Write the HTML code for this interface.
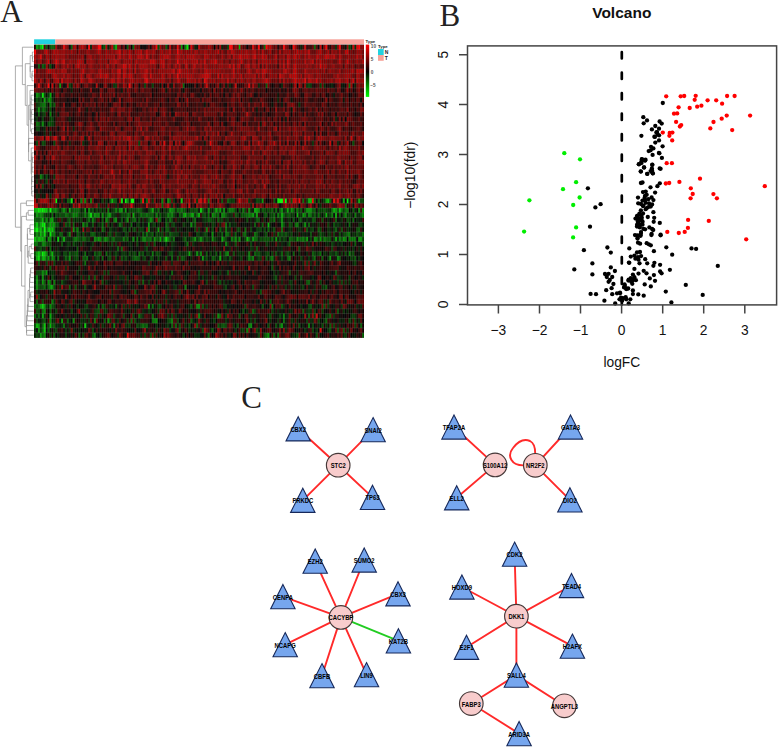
<!DOCTYPE html>
<html><head><meta charset="utf-8"><style>
html,body{margin:0;padding:0;background:#fff;}
body{width:778px;height:748px;overflow:hidden;position:relative;}
svg{position:absolute;left:0;top:0;}
</style></head><body>
<svg width="778" height="748" viewBox="0 0 778 748">
<g font-family="Liberation Serif" font-size="31" fill="#222">
<text x="0.3" y="21.9">A</text><text x="439.4" y="25.8">B</text><text x="241.2" y="408.2">C</text></g>
<rect x="34.10" y="39.3" width="21.22" height="4.9" fill="#22d2df"/><rect x="55.32" y="39.3" width="308.68" height="4.9" fill="#f7a39a"/><rect x="34.10" y="44.80" width="329.90" height="292.80" fill="#1a0800"/><g><g transform="translate(34.10,44.80) scale(1.9292,4.8000)" fill="none" stroke-width="1.02"><path stroke="#200000" d="M0 0.5h1M27 0.5h1M45 0.5h1M58 0.5h1M69 0.5h1M80 0.5h1M95 0.5h1M132 0.5h1M153 0.5h1M0 4.5h2M10 4.5h1M0 8.5h1M4 8.5h1M30 8.5h1M59 8.5h1M68 8.5h1M70 8.5h1M79 8.5h1M91 8.5h1M93 8.5h1M105 8.5h2M124 8.5h1M132 8.5h1M144 8.5h1M152 8.5h1M8 9.5h1M10 9.5h1M17 9.5h2M26 9.5h2M31 9.5h2M37 9.5h1M54 9.5h1M71 9.5h1M76 9.5h1M82 9.5h2M94 9.5h1M100 9.5h1M109 9.5h1M115 9.5h1M125 9.5h2M132 9.5h2M138 9.5h1M156 9.5h1M166 9.5h1M13 10.5h1M16 10.5h1M18 10.5h1M20 10.5h1M22 10.5h1M27 10.5h1M51 10.5h2M63 10.5h1M65 10.5h1M71 10.5h1M80 10.5h1M84 10.5h1M90 10.5h1M92 10.5h1M96 10.5h1M122 10.5h1M124 10.5h1M129 10.5h1M144 10.5h2M148 10.5h1M154 10.5h1M164 10.5h1M13 11.5h1M16 11.5h1M18 11.5h2M21 11.5h1M24 11.5h1M26 11.5h1M28 11.5h1M31 11.5h2M42 11.5h1M57 11.5h1M61 11.5h1M71 11.5h1M86 11.5h1M92 11.5h1M97 11.5h1M116 11.5h1M121 11.5h2M137 11.5h1M139 11.5h1M143 11.5h2M147 11.5h1M155 11.5h2M166 11.5h1M13 12.5h1M17 12.5h1M25 12.5h1M35 12.5h1M38 12.5h1M51 12.5h2M69 12.5h1M73 12.5h1M81 12.5h1M96 12.5h1M122 12.5h1M156 12.5h1M163 12.5h1M168 12.5h1M0 13.5h1M7 13.5h1M16 13.5h2M20 13.5h1M26 13.5h1M32 13.5h1M55 13.5h1M64 13.5h1M69 13.5h1M99 13.5h1M105 13.5h1M124 13.5h1M130 13.5h1M138 13.5h1M147 13.5h1M153 13.5h1M163 13.5h1M18 14.5h1M24 14.5h1M27 14.5h1M31 14.5h1M69 14.5h1M80 14.5h2M99 14.5h1M105 14.5h1M122 14.5h1M139 14.5h1M141 14.5h1M144 14.5h1M150 14.5h1M152 14.5h2M167 14.5h2M6 15.5h2M17 15.5h1M19 15.5h1M26 15.5h1M33 15.5h1M74 15.5h1M76 15.5h1M90 15.5h1M98 15.5h2M101 15.5h1M123 15.5h1M126 15.5h1M145 15.5h1M153 15.5h1M157 15.5h1M0 16.5h1M18 16.5h2M40 16.5h1M61 16.5h1M74 16.5h1M108 16.5h2M126 16.5h1M133 16.5h1M152 16.5h1M9 17.5h1M32 17.5h2M160 17.5h1M164 17.5h1M170 17.5h1M1 18.5h1M35 18.5h1M42 18.5h1M51 18.5h1M64 18.5h1M71 18.5h1M96 18.5h1M149 18.5h1M151 18.5h1M5 19.5h1M13 19.5h1M17 19.5h1M30 19.5h1M69 19.5h1M90 19.5h1M112 19.5h1M145 19.5h1M166 19.5h1M0 20.5h1M21 20.5h2M30 20.5h1M32 20.5h1M48 20.5h1M63 20.5h2M69 20.5h1M95 20.5h2M105 20.5h1M132 20.5h1M136 20.5h1M141 20.5h1M147 20.5h1M158 20.5h1M163 20.5h2M4 21.5h2M14 21.5h1M0 22.5h1M26 22.5h1M143 22.5h1M20 23.5h1M64 23.5h1M129 23.5h1M5 24.5h2M19 24.5h1M71 24.5h1M98 24.5h2M133 24.5h1M145 24.5h1M9 25.5h1M80 25.5h1M92 25.5h1M117 25.5h1M126 25.5h1M143 25.5h1M150 25.5h1M4 26.5h1M7 26.5h1M18 26.5h1M30 26.5h1M45 26.5h1M0 27.5h1M2 27.5h1M51 27.5h1M150 27.5h1M0 28.5h1M3 28.5h1M9 28.5h1M98 28.5h1M104 28.5h1M126 28.5h1M165 28.5h2M5 29.5h1M8 29.5h1M18 29.5h1M99 29.5h1M121 29.5h1M126 29.5h1M6 30.5h1M19 30.5h1M68 30.5h2M133 30.5h1M165 30.5h2M121 31.5h1M170 31.5h1M1 32.5h1M65 32.5h1M92 32.5h1M104 32.5h1M113 32.5h1M122 32.5h1M148 32.5h1M154 32.5h1M165 32.5h1M39 33.5h1M57 33.5h1M79 33.5h1M99 33.5h1M119 33.5h1M150 33.5h1M162 33.5h1M37 34.5h1M43 35.5h1M50 35.5h1M116 35.5h1M15 36.5h1M32 36.5h1M49 36.5h1M57 36.5h1M77 36.5h1M94 36.5h1M98 36.5h1M107 36.5h1M125 36.5h1M147 36.5h1M150 36.5h1M160 36.5h1M31 37.5h1M41 37.5h1M70 37.5h1M89 37.5h1M105 37.5h2M131 37.5h1M146 37.5h1M148 37.5h1M153 37.5h1M160 37.5h1M165 37.5h1M34 38.5h1M43 38.5h1M53 38.5h1M62 38.5h1M72 38.5h1M74 38.5h1M86 38.5h1M110 38.5h2M125 38.5h1M135 38.5h1M146 38.5h1M160 38.5h2M26 39.5h1M49 39.5h2M94 39.5h1M113 39.5h1M145 39.5h2M29 40.5h1M13 41.5h1M36 41.5h1M39 41.5h1M41 41.5h1M43 41.5h1M52 41.5h1M55 41.5h1M60 41.5h1M70 41.5h1M80 41.5h1M85 41.5h2M89 41.5h2M96 41.5h1M101 41.5h1M103 41.5h1M106 41.5h1M117 41.5h1M119 41.5h1M122 41.5h1M127 41.5h1M138 41.5h2M162 41.5h1M11 42.5h1M25 42.5h1M27 42.5h1M30 42.5h1M32 42.5h3M36 42.5h1M41 42.5h1M44 42.5h1M48 42.5h1M56 42.5h1M61 42.5h1M67 42.5h1M83 42.5h1M85 42.5h1M87 42.5h1M90 42.5h1M92 42.5h1M95 42.5h2M106 42.5h1M111 42.5h1M119 42.5h1M123 42.5h2M130 42.5h2M138 42.5h3M145 42.5h1M148 42.5h1M150 42.5h1M153 42.5h1M159 42.5h1M68 43.5h1M73 43.5h1M97 43.5h1M101 43.5h2M104 43.5h1M109 43.5h1M129 43.5h1M135 43.5h1M139 43.5h1M19 44.5h1M40 44.5h1M67 44.5h1M84 44.5h1M108 44.5h1M114 44.5h1M119 44.5h1M126 44.5h1M148 44.5h1M4 45.5h1M12 45.5h1M21 45.5h1M23 45.5h1M33 45.5h1M47 45.5h1M51 45.5h1M53 45.5h1M55 45.5h4M62 45.5h1M76 45.5h1M90 45.5h1M98 45.5h1M104 45.5h1M116 45.5h1M124 45.5h1M130 45.5h1M137 45.5h1M144 45.5h1M151 45.5h1M156 45.5h1M160 45.5h1M162 45.5h1M1 46.5h1M3 46.5h1M6 46.5h2M10 46.5h1M12 46.5h1M25 46.5h1M27 46.5h1M33 46.5h2M39 46.5h1M42 46.5h1M45 46.5h1M52 46.5h1M54 46.5h1M66 46.5h1M82 46.5h1M84 46.5h1M87 46.5h4M98 46.5h1M112 46.5h2M117 46.5h1M132 46.5h1M135 46.5h1M146 46.5h2M149 46.5h2M164 46.5h2M167 46.5h2M17 47.5h1M19 47.5h1M31 47.5h1M33 47.5h1M43 47.5h1M45 47.5h1M61 47.5h1M69 47.5h1M73 47.5h1M76 47.5h1M90 47.5h1M97 47.5h1M103 47.5h1M105 47.5h1M107 47.5h1M115 47.5h1M117 47.5h1M119 47.5h3M128 47.5h1M130 47.5h1M133 47.5h3M140 47.5h1M146 47.5h2M153 47.5h1M158 47.5h1M160 47.5h2M168 47.5h1M12 48.5h1M15 48.5h1M23 48.5h1M27 48.5h1M29 48.5h1M33 48.5h1M64 48.5h1M71 48.5h1M73 48.5h1M77 48.5h1M84 48.5h1M90 48.5h1M99 48.5h2M102 48.5h3M106 48.5h1M111 48.5h1M134 48.5h1M136 48.5h1M139 48.5h4M151 48.5h2M164 48.5h1M19 49.5h1M36 49.5h1M41 49.5h1M53 49.5h1M57 49.5h1M60 49.5h1M70 49.5h1M79 49.5h2M83 49.5h1M91 49.5h2M94 49.5h1M103 49.5h1M112 49.5h1M120 49.5h1M122 49.5h1M126 49.5h1M130 49.5h2M162 49.5h1M169 49.5h2M15 50.5h1M25 50.5h1M27 50.5h1M32 50.5h1M34 50.5h1M36 50.5h1M38 50.5h1M45 50.5h1M88 50.5h3M97 50.5h1M109 50.5h1M116 50.5h1M119 50.5h1M129 50.5h1M144 50.5h1M147 50.5h1M162 50.5h1M168 50.5h1M3 51.5h2M11 51.5h1M22 51.5h1M26 51.5h1M29 51.5h1M44 51.5h1M48 51.5h1M61 51.5h1M64 51.5h1M71 51.5h1M80 51.5h1M86 51.5h1M89 51.5h1M95 51.5h1M97 51.5h1M99 51.5h1M102 51.5h1M105 51.5h1M107 51.5h1M109 51.5h1M111 51.5h2M124 51.5h1M127 51.5h1M135 51.5h1M137 51.5h3M145 51.5h1M154 51.5h1M160 51.5h1M163 51.5h1M4 52.5h1M11 52.5h1M13 52.5h2M17 52.5h1M20 52.5h1M22 52.5h1M29 52.5h1M31 52.5h1M38 52.5h1M48 52.5h2M51 52.5h1M57 52.5h1M69 52.5h1M74 52.5h1M86 52.5h1M92 52.5h1M101 52.5h2M114 52.5h2M121 52.5h1M124 52.5h1M128 52.5h1M146 52.5h1M155 52.5h2M164 52.5h1M0 53.5h1M2 53.5h1M7 53.5h1M12 53.5h1M24 53.5h1M34 53.5h1M37 53.5h1M44 53.5h1M57 53.5h1M73 53.5h1M75 53.5h1M78 53.5h1M88 53.5h1M93 53.5h1M95 53.5h1M100 53.5h1M106 53.5h1M111 53.5h2M118 53.5h1M123 53.5h1M133 53.5h1M155 53.5h1M160 53.5h1M13 54.5h1M15 54.5h1M30 54.5h1M38 54.5h1M43 54.5h1M51 54.5h1M56 54.5h1M63 54.5h1M66 54.5h1M75 54.5h1M88 54.5h1M104 54.5h1M106 54.5h1M111 54.5h2M115 54.5h2M130 54.5h1M134 54.5h1M144 54.5h1M153 54.5h1M162 54.5h1M164 54.5h1M3 55.5h1M6 55.5h1M9 55.5h1M15 55.5h1M17 55.5h1M29 55.5h1M38 55.5h1M41 55.5h1M43 55.5h1M46 55.5h1M50 55.5h1M78 55.5h1M87 55.5h1M99 55.5h1M115 55.5h1M117 55.5h1M125 55.5h1M134 55.5h1M136 55.5h1M159 55.5h1M167 55.5h1M169 55.5h1M11 56.5h1M13 56.5h1M15 56.5h1M20 56.5h1M37 56.5h1M42 56.5h1M44 56.5h1M47 56.5h1M53 56.5h1M60 56.5h1M62 56.5h1M70 56.5h1M77 56.5h1M90 56.5h1M105 56.5h1M113 56.5h1M120 56.5h1M133 56.5h1M135 56.5h1M156 56.5h2M162 56.5h1M167 56.5h1M170 56.5h1M16 57.5h1M23 57.5h1M27 57.5h1M37 57.5h1M46 57.5h1M57 57.5h1M59 57.5h1M67 57.5h1M76 57.5h1M79 57.5h1M98 57.5h1M102 57.5h1M104 57.5h1M109 57.5h1M113 57.5h1M131 57.5h1M138 57.5h2M157 57.5h1M162 57.5h1M31 58.5h1M38 58.5h1M42 58.5h1M50 58.5h3M60 58.5h2M65 58.5h1M74 58.5h1M82 58.5h1M89 58.5h2M106 58.5h1M108 58.5h1M114 58.5h1M131 58.5h1M141 58.5h1M146 58.5h1M150 58.5h1M160 58.5h1M163 58.5h2M9 59.5h1M12 59.5h2M37 59.5h1M43 59.5h2M46 59.5h2M60 59.5h1M65 59.5h1M76 59.5h1M79 59.5h1M84 59.5h1M100 59.5h1M125 59.5h2M149 59.5h1M166 59.5h1M7 60.5h1M9 60.5h1M14 60.5h1M22 60.5h1M41 60.5h1M72 60.5h1M75 60.5h1M93 60.5h1M114 60.5h1M128 60.5h1M139 60.5h1M144 60.5h1M150 60.5h2M154 60.5h2M158 60.5h1M162 60.5h1"/><path stroke="#009f00" d="M1 0.5h1M76 0.5h1M13 8.5h1M118 32.5h1M151 32.5h1M26 34.5h1M45 34.5h1M47 34.5h1M70 34.5h1M96 34.5h1M115 34.5h1M133 34.5h1M1 35.5h1M31 35.5h1M77 35.5h1M81 35.5h2M92 35.5h1M113 35.5h1M115 35.5h1M139 35.5h1M8 36.5h1M59 37.5h1M2 38.5h1M20 38.5h1M64 38.5h1M7 40.5h1M33 40.5h1M62 40.5h1M83 40.5h1M92 40.5h1M113 40.5h1M125 40.5h1M136 40.5h1M141 40.5h1M148 40.5h1M156 40.5h1M160 40.5h1M1 43.5h1M7 44.5h1M9 44.5h1M87 44.5h1M153 44.5h1M6 47.5h1M1 49.5h1M4 49.5h1M8 50.5h2M3 54.5h1M5 54.5h1M14 57.5h1M2 58.5h1M3 60.5h1M121 60.5h1"/><path stroke="#007000" d="M2 0.5h1M9 0.5h1M51 0.5h1M119 0.5h1M145 0.5h1M77 8.5h1M163 8.5h1M2 10.5h1M4 12.5h1M1 16.5h1M90 32.5h1M139 32.5h1M161 33.5h1M7 34.5h1M9 34.5h1M22 34.5h1M64 34.5h1M72 34.5h1M74 34.5h1M102 34.5h2M123 34.5h1M125 34.5h1M134 34.5h1M154 34.5h1M159 34.5h1M161 34.5h1M2 35.5h1M9 35.5h1M16 35.5h1M21 35.5h2M55 35.5h1M58 35.5h1M80 35.5h1M84 35.5h1M90 35.5h1M95 35.5h1M112 35.5h1M124 35.5h1M143 35.5h1M147 35.5h1M3 36.5h1M28 36.5h1M41 36.5h1M52 36.5h1M64 36.5h1M70 36.5h1M83 36.5h1M124 36.5h1M165 36.5h1M2 37.5h1M7 37.5h1M20 37.5h1M27 37.5h1M35 37.5h1M44 37.5h1M50 37.5h1M68 37.5h1M99 37.5h1M135 37.5h1M163 37.5h1M4 38.5h1M6 38.5h1M35 38.5h1M99 38.5h1M109 38.5h1M121 38.5h1M128 38.5h1M9 39.5h1M58 39.5h1M99 39.5h1M109 39.5h1M114 39.5h1M126 39.5h1M162 39.5h1M170 39.5h1M22 40.5h1M25 40.5h1M32 40.5h1M48 40.5h1M60 40.5h1M72 40.5h1M78 40.5h1M111 40.5h1M123 40.5h1M132 40.5h1M164 40.5h3M0 41.5h2M79 41.5h1M8 42.5h1M8 43.5h1M18 43.5h1M26 43.5h1M37 43.5h1M54 43.5h1M96 43.5h1M99 43.5h1M148 43.5h1M10 44.5h1M12 44.5h1M27 44.5h1M35 44.5h1M52 44.5h1M145 44.5h1M26 45.5h1M8 49.5h1M5 50.5h1M7 50.5h1M33 54.5h1M61 54.5h1M123 54.5h1M4 55.5h1M54 56.5h1M61 56.5h1M153 56.5h1M50 57.5h1M61 57.5h1M129 57.5h1M151 57.5h1M15 58.5h1M56 58.5h1M90 60.5h1M120 60.5h1M126 60.5h1"/><path stroke="#00bf00" d="M3 0.5h1M106 0.5h1M40 32.5h1M152 32.5h1M1 34.5h1M158 34.5h1M78 35.5h1M136 35.5h1M151 35.5h1M4 36.5h1M121 37.5h1M0 38.5h1M3 38.5h1M7 38.5h2M3 39.5h1M0 40.5h1M4 40.5h1M110 40.5h1M9 43.5h1M1 58.5h1M8 58.5h1"/><path stroke="#00ff00" d="M4 0.5h1M11 32.5h1M47 32.5h1M50 32.5h2M127 32.5h2M130 32.5h1M162 32.5h1M4 34.5h1M8 34.5h1M5 37.5h1M1 38.5h1M5 38.5h1M4 43.5h1"/><path stroke="#500000" d="M5 0.5h1M108 0.5h1M111 0.5h1M118 0.5h1M124 0.5h1M155 0.5h1M22 1.5h1M99 1.5h1M123 1.5h1M126 1.5h1M153 1.5h1M126 2.5h1M4 3.5h1M38 3.5h1M101 3.5h1M115 3.5h1M126 3.5h1M13 4.5h1M42 4.5h1M71 4.5h1M169 4.5h1M1 5.5h1M51 5.5h1M5 6.5h1M8 6.5h1M20 6.5h1M126 6.5h1M166 6.5h1M2 7.5h1M8 7.5h1M13 7.5h1M20 7.5h1M126 7.5h1M163 7.5h1M21 8.5h1M29 8.5h1M40 8.5h1M74 8.5h1M100 8.5h1M103 8.5h1M118 8.5h1M147 8.5h1M2 9.5h2M12 9.5h1M15 9.5h1M58 9.5h3M72 9.5h1M79 9.5h1M87 9.5h1M90 9.5h2M95 9.5h1M101 9.5h1M106 9.5h1M108 9.5h1M112 9.5h1M116 9.5h1M119 9.5h1M127 9.5h1M139 9.5h1M143 9.5h2M147 9.5h1M149 9.5h2M154 9.5h1M15 10.5h1M19 10.5h1M23 10.5h1M46 10.5h1M48 10.5h1M53 10.5h1M58 10.5h1M66 10.5h1M70 10.5h1M93 10.5h2M97 10.5h1M99 10.5h2M111 10.5h1M116 10.5h1M120 10.5h1M142 10.5h2M147 10.5h1M153 10.5h1M158 10.5h1M170 10.5h1M30 11.5h1M33 11.5h1M46 11.5h2M53 11.5h1M59 11.5h1M64 11.5h1M67 11.5h1M83 11.5h3M95 11.5h2M100 11.5h1M104 11.5h1M110 11.5h1M127 11.5h1M129 11.5h1M136 11.5h1M158 11.5h1M161 11.5h1M165 11.5h1M168 11.5h1M11 12.5h2M19 12.5h1M21 12.5h1M34 12.5h1M36 12.5h2M46 12.5h2M49 12.5h1M57 12.5h1M66 12.5h2M84 12.5h1M89 12.5h1M95 12.5h1M108 12.5h1M115 12.5h1M119 12.5h1M129 12.5h1M135 12.5h1M141 12.5h2M144 12.5h2M151 12.5h1M153 12.5h1M159 12.5h1M167 12.5h1M25 13.5h1M28 13.5h1M30 13.5h1M36 13.5h1M47 13.5h1M56 13.5h1M59 13.5h1M68 13.5h1M76 13.5h1M78 13.5h1M82 13.5h1M86 13.5h1M89 13.5h1M92 13.5h1M96 13.5h1M106 13.5h1M109 13.5h1M116 13.5h1M118 13.5h1M127 13.5h1M137 13.5h1M140 13.5h1M142 13.5h1M151 13.5h1M158 13.5h1M160 13.5h1M167 13.5h1M11 14.5h1M13 14.5h1M16 14.5h1M19 14.5h1M22 14.5h1M25 14.5h1M28 14.5h1M35 14.5h1M39 14.5h1M46 14.5h1M54 14.5h1M61 14.5h1M65 14.5h1M76 14.5h1M78 14.5h1M84 14.5h1M86 14.5h1M101 14.5h1M103 14.5h2M112 14.5h1M118 14.5h2M127 14.5h1M138 14.5h1M142 14.5h1M148 14.5h1M151 14.5h1M154 14.5h1M158 14.5h1M164 14.5h1M12 15.5h1M29 15.5h1M39 15.5h2M43 15.5h1M45 15.5h2M56 15.5h2M63 15.5h1M66 15.5h1M68 15.5h1M81 15.5h1M83 15.5h1M89 15.5h1M109 15.5h1M111 15.5h1M116 15.5h1M122 15.5h1M129 15.5h1M134 15.5h2M137 15.5h1M143 15.5h1M147 15.5h1M22 16.5h1M25 16.5h1M27 16.5h2M30 16.5h1M47 16.5h1M63 16.5h1M69 16.5h1M76 16.5h2M82 16.5h1M86 16.5h1M89 16.5h1M113 16.5h1M120 16.5h1M138 16.5h1M144 16.5h1M147 16.5h1M157 16.5h1M159 16.5h2M164 16.5h1M8 17.5h1M11 17.5h1M19 17.5h1M31 17.5h1M38 17.5h3M46 17.5h1M63 17.5h2M71 17.5h2M80 17.5h1M90 17.5h1M92 17.5h1M94 17.5h3M112 17.5h1M115 17.5h1M119 17.5h1M130 17.5h1M133 17.5h1M141 17.5h1M150 17.5h1M159 17.5h1M161 17.5h1M165 17.5h1M6 18.5h1M11 18.5h1M13 18.5h1M22 18.5h1M24 18.5h1M32 18.5h1M49 18.5h1M57 18.5h1M59 18.5h3M72 18.5h1M94 18.5h1M98 18.5h1M100 18.5h1M104 18.5h1M117 18.5h1M120 18.5h1M124 18.5h1M130 18.5h2M141 18.5h1M143 18.5h1M155 18.5h1M159 18.5h1M168 18.5h2M8 19.5h1M12 19.5h1M16 19.5h1M19 19.5h1M22 19.5h1M38 19.5h1M51 19.5h1M55 19.5h1M60 19.5h1M65 19.5h1M71 19.5h1M85 19.5h1M106 19.5h1M110 19.5h1M120 19.5h1M123 19.5h1M130 19.5h1M137 19.5h1M139 19.5h1M163 19.5h1M12 20.5h1M15 20.5h1M17 20.5h1M31 20.5h1M39 20.5h2M45 20.5h2M56 20.5h1M83 20.5h1M90 20.5h1M93 20.5h1M99 20.5h1M133 20.5h1M145 20.5h1M151 20.5h1M8 21.5h1M16 21.5h1M19 21.5h1M45 21.5h1M65 21.5h1M71 21.5h1M75 21.5h1M88 21.5h1M91 21.5h1M99 21.5h1M112 21.5h1M115 21.5h1M119 21.5h1M124 21.5h1M138 21.5h1M142 21.5h2M151 21.5h1M159 21.5h1M163 21.5h2M167 21.5h1M12 22.5h2M16 22.5h2M19 22.5h1M28 22.5h1M31 22.5h1M35 22.5h1M41 22.5h1M43 22.5h1M45 22.5h1M52 22.5h1M56 22.5h2M65 22.5h1M83 22.5h3M88 22.5h1M97 22.5h1M101 22.5h1M108 22.5h1M114 22.5h2M136 22.5h1M138 22.5h1M147 22.5h1M1 23.5h1M4 23.5h1M19 23.5h1M22 23.5h1M31 23.5h3M38 23.5h1M62 23.5h1M69 23.5h1M77 23.5h1M84 23.5h1M90 23.5h1M126 23.5h1M135 23.5h1M138 23.5h1M140 23.5h1M147 23.5h1M151 23.5h1M155 23.5h2M3 24.5h1M12 24.5h1M16 24.5h1M21 24.5h1M37 24.5h2M54 24.5h1M70 24.5h1M78 24.5h1M85 24.5h1M94 24.5h1M97 24.5h1M108 24.5h2M112 24.5h1M119 24.5h1M122 24.5h1M144 24.5h1M152 24.5h1M159 24.5h1M2 25.5h2M7 25.5h1M12 25.5h1M20 25.5h1M22 25.5h2M27 25.5h2M30 25.5h1M33 25.5h1M42 25.5h2M49 25.5h1M55 25.5h1M71 25.5h2M78 25.5h1M83 25.5h1M85 25.5h1M90 25.5h1M102 25.5h1M105 25.5h1M132 25.5h1M142 25.5h1M152 25.5h2M158 25.5h1M160 25.5h1M166 25.5h1M6 26.5h1M12 26.5h1M17 26.5h1M19 26.5h1M26 26.5h1M28 26.5h1M35 26.5h1M38 26.5h1M42 26.5h2M52 26.5h2M65 26.5h1M73 26.5h1M82 26.5h1M92 26.5h1M98 26.5h3M107 26.5h1M110 26.5h2M115 26.5h1M128 26.5h1M130 26.5h1M143 26.5h2M147 26.5h1M149 26.5h2M157 26.5h1M159 26.5h1M17 27.5h3M21 27.5h1M29 27.5h3M48 27.5h1M54 27.5h1M56 27.5h1M70 27.5h1M73 27.5h1M76 27.5h1M83 27.5h1M90 27.5h1M98 27.5h1M100 27.5h1M104 27.5h1M112 27.5h1M115 27.5h1M126 27.5h1M133 27.5h1M141 27.5h1M143 27.5h3M154 27.5h1M157 27.5h3M4 28.5h1M13 28.5h2M18 28.5h3M29 28.5h1M31 28.5h1M37 28.5h1M51 28.5h1M54 28.5h1M63 28.5h1M68 28.5h2M94 28.5h1M109 28.5h1M112 28.5h1M116 28.5h1M122 28.5h1M124 28.5h2M128 28.5h1M130 28.5h1M145 28.5h1M156 28.5h1M162 28.5h1M169 28.5h1M7 29.5h1M11 29.5h1M14 29.5h3M37 29.5h2M55 29.5h1M59 29.5h1M68 29.5h1M71 29.5h1M73 29.5h1M81 29.5h1M97 29.5h1M101 29.5h1M108 29.5h1M112 29.5h1M122 29.5h1M129 29.5h1M133 29.5h1M138 29.5h1M143 29.5h3M156 29.5h1M159 29.5h2M169 29.5h1M15 30.5h1M23 30.5h1M31 30.5h1M48 30.5h1M60 30.5h1M76 30.5h1M80 30.5h1M86 30.5h1M88 30.5h1M96 30.5h1M98 30.5h1M109 30.5h1M111 30.5h1M117 30.5h1M131 30.5h1M134 30.5h1M140 30.5h4M148 30.5h1M150 30.5h2M9 31.5h1M35 31.5h1M38 31.5h1M41 31.5h2M60 31.5h1M63 31.5h1M68 31.5h1M71 31.5h1M73 31.5h1M95 31.5h2M99 31.5h1M101 31.5h2M107 31.5h1M112 31.5h1M117 31.5h1M120 31.5h1M123 31.5h2M131 31.5h1M133 31.5h1M137 31.5h1M140 31.5h1M142 31.5h1M144 31.5h2M151 31.5h2M160 31.5h1M165 31.5h1M14 32.5h1M60 32.5h1M74 32.5h1M112 32.5h1M158 32.5h1M6 33.5h1M10 33.5h2M15 33.5h1M24 33.5h1M34 33.5h1M46 33.5h3M55 33.5h1M59 33.5h1M62 33.5h1M82 33.5h1M87 33.5h1M94 33.5h1M98 33.5h1M104 33.5h1M116 33.5h1M123 33.5h1M126 33.5h1M132 33.5h1M140 33.5h1M13 36.5h1M33 36.5h1M15 37.5h1M95 37.5h1M116 37.5h1M27 38.5h1M84 38.5h1M102 39.5h1M123 39.5h1M44 41.5h1M110 41.5h1M146 41.5h1M164 41.5h1M0 42.5h1M6 42.5h1M24 42.5h1M62 42.5h1M82 42.5h1M102 42.5h1M132 42.5h1M151 42.5h1M1 45.5h1M14 45.5h1M39 45.5h2M49 45.5h1M60 45.5h1M68 45.5h2M72 45.5h3M78 45.5h1M86 45.5h1M89 45.5h1M97 45.5h1M103 45.5h1M108 45.5h1M110 45.5h1M115 45.5h1M121 45.5h1M157 45.5h1M169 45.5h1M5 46.5h1M57 46.5h1M65 46.5h1M70 46.5h1M80 46.5h1M106 46.5h1M108 46.5h1M140 46.5h1M157 46.5h1M162 46.5h1M46 47.5h1M50 47.5h1M56 47.5h1M59 47.5h1M62 47.5h1M101 47.5h1M131 47.5h1M143 47.5h1M163 47.5h1M166 47.5h1M32 48.5h1M47 48.5h1M116 48.5h1M127 48.5h1M65 49.5h1M78 49.5h1M82 49.5h1M93 49.5h1M106 49.5h1M113 49.5h1M167 49.5h1M53 50.5h1M62 50.5h1M93 50.5h1M107 50.5h1M110 50.5h1M114 50.5h1M125 50.5h1M141 50.5h1M146 50.5h1M155 50.5h1M159 50.5h1M13 51.5h1M20 51.5h1M41 51.5h1M50 51.5h2M58 51.5h1M62 51.5h1M73 51.5h2M84 51.5h1M118 51.5h2M122 51.5h1M155 51.5h1M47 52.5h1M53 52.5h1M58 52.5h1M73 52.5h1M78 52.5h1M80 52.5h1M87 52.5h1M106 52.5h1M108 52.5h1M119 52.5h2M131 52.5h1M134 52.5h1M138 52.5h1M140 52.5h1M145 52.5h1M148 52.5h1M151 52.5h1M161 52.5h1M168 52.5h1M170 52.5h1M11 53.5h1M29 53.5h1M38 53.5h1M50 53.5h1M62 53.5h1M85 53.5h1M103 53.5h1M107 53.5h1M120 53.5h1M149 53.5h1M167 53.5h1M169 53.5h1M19 54.5h1M49 54.5h1M68 54.5h1M71 54.5h1M77 54.5h1M83 54.5h1M86 54.5h1M125 54.5h1M127 54.5h1M161 54.5h1M170 54.5h1M22 55.5h1M34 55.5h2M39 55.5h1M53 55.5h1M66 55.5h2M90 55.5h1M101 55.5h1M112 55.5h1M116 55.5h1M147 55.5h1M156 55.5h1M24 56.5h1M45 56.5h1M58 56.5h1M64 56.5h2M102 56.5h1M109 56.5h1M119 56.5h1M148 56.5h1M154 56.5h1M7 57.5h1M40 57.5h2M51 57.5h1M132 57.5h1M135 57.5h1M169 57.5h1M34 58.5h1M43 58.5h1M45 58.5h1M76 58.5h1M102 58.5h1M107 58.5h1M132 58.5h1M154 58.5h1M162 58.5h1M167 58.5h1M69 59.5h1M78 59.5h1M96 59.5h1M98 59.5h2M101 59.5h1M106 59.5h1M121 59.5h1M133 59.5h1M50 60.5h1M52 60.5h1M63 60.5h1M68 60.5h1M70 60.5h1M79 60.5h1M97 60.5h1M108 60.5h1M110 60.5h1M123 60.5h1M132 60.5h1M143 60.5h1M147 60.5h1M152 60.5h1M163 60.5h1"/><path stroke="#006000" d="M6 0.5h1M8 0.5h1M10 0.5h1M19 0.5h1M36 0.5h1M41 0.5h1M48 0.5h1M68 0.5h1M2 4.5h1M4 4.5h1M120 8.5h1M3 12.5h1M10 12.5h1M4 13.5h2M2 14.5h1M2 16.5h1M17 32.5h1M39 32.5h1M41 32.5h1M55 32.5h1M58 32.5h1M70 32.5h1M97 32.5h1M100 32.5h1M124 32.5h1M147 32.5h1M153 32.5h1M66 33.5h1M14 34.5h1M20 34.5h2M23 34.5h1M53 34.5h2M60 34.5h1M75 34.5h1M87 34.5h1M93 34.5h1M95 34.5h1M106 34.5h1M118 34.5h1M127 34.5h1M138 34.5h1M145 34.5h1M150 34.5h1M165 34.5h1M17 35.5h1M48 35.5h2M61 35.5h1M65 35.5h1M70 35.5h1M75 35.5h1M79 35.5h1M104 35.5h1M109 35.5h2M120 35.5h1M129 35.5h1M132 35.5h1M145 35.5h1M158 35.5h1M0 36.5h1M18 36.5h1M35 36.5h1M51 36.5h1M61 36.5h1M65 36.5h1M90 36.5h1M95 36.5h1M134 36.5h1M156 36.5h1M18 37.5h1M83 37.5h1M114 37.5h1M118 37.5h1M142 37.5h1M68 38.5h1M96 38.5h1M147 38.5h1M156 38.5h1M168 38.5h1M2 39.5h1M13 39.5h1M22 39.5h1M30 39.5h1M56 39.5h1M61 39.5h1M70 39.5h1M97 39.5h1M100 39.5h1M104 39.5h1M108 39.5h1M148 39.5h1M10 40.5h1M20 40.5h1M26 40.5h1M38 40.5h1M40 40.5h2M59 40.5h1M63 40.5h1M82 40.5h1M98 40.5h1M114 40.5h2M119 40.5h1M121 40.5h1M133 40.5h1M137 40.5h2M151 40.5h1M132 41.5h1M166 41.5h1M22 42.5h1M43 42.5h1M45 42.5h1M22 43.5h1M31 43.5h1M89 43.5h1M94 43.5h1M114 43.5h1M128 43.5h1M134 43.5h1M144 43.5h1M3 44.5h1M6 44.5h1M16 44.5h1M25 44.5h1M53 44.5h1M71 44.5h1M92 44.5h1M120 44.5h1M122 44.5h1M131 44.5h1M149 44.5h1M158 44.5h1M166 44.5h1M8 46.5h1M5 47.5h1M71 47.5h1M5 49.5h1M56 49.5h1M142 49.5h1M18 50.5h1M151 50.5h1M52 51.5h1M1 53.5h1M122 53.5h1M0 54.5h1M2 54.5h1M35 54.5h1M42 54.5h1M8 55.5h1M113 55.5h1M139 55.5h1M0 56.5h1M2 56.5h1M96 56.5h1M142 56.5h1M5 57.5h1M17 57.5h1M36 57.5h1M81 57.5h1M4 58.5h1M10 58.5h1M58 58.5h1M71 58.5h1M73 58.5h1M84 58.5h1M95 58.5h1M127 58.5h1M153 58.5h1M169 58.5h1M4 59.5h1M7 59.5h1M92 59.5h1M160 59.5h1M4 60.5h1M10 60.5h1M23 60.5h1M124 60.5h1M170 60.5h1"/><path stroke="#100000" d="M7 0.5h1M56 0.5h1M60 0.5h1M77 0.5h1M117 0.5h1M126 0.5h1M149 0.5h1M10 8.5h1M16 8.5h1M24 8.5h1M31 8.5h1M34 8.5h2M39 8.5h1M51 8.5h1M82 8.5h1M87 8.5h1M102 8.5h1M139 8.5h1M145 8.5h1M151 8.5h1M161 8.5h1M165 8.5h1M23 9.5h1M30 9.5h1M33 9.5h1M42 9.5h1M61 9.5h1M63 9.5h1M81 9.5h1M92 9.5h1M98 9.5h1M123 9.5h1M128 9.5h1M130 9.5h1M159 9.5h2M165 9.5h1M9 10.5h1M26 10.5h1M42 10.5h1M73 10.5h1M85 10.5h1M87 10.5h1M101 10.5h1M109 10.5h1M115 10.5h1M117 10.5h1M138 10.5h2M151 10.5h2M166 10.5h1M10 11.5h1M38 11.5h1M45 11.5h1M77 11.5h1M107 11.5h1M149 11.5h1M152 11.5h1M163 11.5h1M7 12.5h1M22 12.5h1M32 12.5h1M39 12.5h1M45 12.5h1M48 12.5h1M65 12.5h1M90 12.5h1M98 12.5h1M126 12.5h1M130 12.5h1M152 12.5h1M170 12.5h1M53 13.5h1M102 13.5h1M119 13.5h1M122 13.5h1M139 13.5h1M166 13.5h1M9 14.5h1M20 14.5h1M26 14.5h1M33 14.5h1M42 14.5h1M63 14.5h2M72 14.5h1M98 14.5h1M115 14.5h1M117 14.5h1M121 14.5h1M2 15.5h1M5 15.5h1M20 15.5h1M30 15.5h1M51 15.5h1M96 15.5h1M132 15.5h1M159 15.5h1M20 16.5h1M26 16.5h1M42 16.5h1M48 16.5h1M73 16.5h1M81 16.5h1M92 16.5h1M96 16.5h1M98 16.5h1M124 16.5h1M139 16.5h1M149 16.5h1M0 17.5h1M3 17.5h1M7 17.5h1M16 17.5h1M45 17.5h1M126 17.5h1M147 17.5h1M0 18.5h1M4 18.5h1M99 18.5h1M156 18.5h1M87 19.5h1M3 20.5h1M8 20.5h2M14 20.5h1M16 20.5h1M26 20.5h1M36 20.5h1M100 20.5h1M112 20.5h1M130 20.5h1M150 20.5h1M4 22.5h1M6 22.5h1M2 23.5h1M4 24.5h1M8 24.5h1M96 24.5h1M128 24.5h1M4 25.5h1M10 25.5h1M98 25.5h1M3 26.5h1M96 26.5h1M22 27.5h1M108 27.5h1M166 27.5h1M26 28.5h1M0 29.5h1M2 29.5h1M6 29.5h1M0 30.5h1M4 30.5h1M8 30.5h1M33 30.5h1M12 32.5h1M22 32.5h1M28 32.5h1M32 32.5h1M46 32.5h1M52 32.5h2M63 32.5h1M75 32.5h1M94 32.5h1M146 32.5h1M14 33.5h1M45 33.5h1M52 33.5h1M81 33.5h1M114 33.5h1M141 33.5h1M145 33.5h1M17 34.5h1M139 34.5h1M91 35.5h1M117 35.5h1M157 35.5h1M16 36.5h1M25 36.5h2M36 36.5h1M40 36.5h1M43 36.5h1M55 36.5h1M62 36.5h1M72 36.5h1M81 36.5h1M86 36.5h1M101 36.5h1M108 36.5h1M111 36.5h1M113 36.5h1M130 36.5h1M146 36.5h1M151 36.5h1M154 36.5h1M161 36.5h1M21 37.5h1M24 37.5h1M48 37.5h1M65 37.5h1M74 37.5h1M76 37.5h1M87 37.5h1M91 37.5h1M94 37.5h1M111 37.5h1M113 37.5h1M115 37.5h1M134 37.5h1M143 37.5h1M166 37.5h2M13 38.5h1M16 38.5h1M37 38.5h2M50 38.5h1M71 38.5h1M78 38.5h1M95 38.5h1M108 38.5h1M139 38.5h1M151 38.5h1M154 38.5h1M165 38.5h2M15 39.5h1M20 39.5h1M52 39.5h1M55 39.5h1M121 39.5h2M134 39.5h1M144 39.5h1M151 39.5h1M156 39.5h2M30 40.5h1M144 40.5h1M154 40.5h1M9 41.5h2M19 41.5h1M23 41.5h1M32 41.5h1M37 41.5h1M45 41.5h1M47 41.5h1M56 41.5h1M63 41.5h3M74 41.5h2M84 41.5h1M88 41.5h1M98 41.5h1M107 41.5h3M111 41.5h1M115 41.5h1M118 41.5h1M124 41.5h1M134 41.5h1M136 41.5h2M143 41.5h1M149 41.5h2M153 41.5h1M156 41.5h1M167 41.5h1M169 41.5h1M15 42.5h1M23 42.5h1M26 42.5h1M37 42.5h2M52 42.5h1M54 42.5h1M59 42.5h1M64 42.5h1M68 42.5h1M70 42.5h1M73 42.5h1M84 42.5h1M89 42.5h1M100 42.5h1M103 42.5h1M122 42.5h1M125 42.5h1M134 42.5h2M146 42.5h2M158 42.5h1M164 42.5h1M40 43.5h1M82 43.5h1M138 43.5h1M143 43.5h1M152 43.5h1M158 43.5h1M160 43.5h1M166 43.5h1M170 43.5h1M13 44.5h2M34 44.5h1M36 44.5h1M55 44.5h1M58 44.5h1M69 44.5h1M72 44.5h2M79 44.5h1M97 44.5h1M104 44.5h1M130 44.5h1M141 44.5h1M143 44.5h1M146 44.5h1M150 44.5h1M154 44.5h2M159 44.5h1M169 44.5h1M0 45.5h1M11 45.5h1M13 45.5h1M15 45.5h1M27 45.5h1M29 45.5h1M34 45.5h1M46 45.5h1M48 45.5h1M50 45.5h1M54 45.5h1M77 45.5h1M113 45.5h1M122 45.5h1M125 45.5h1M128 45.5h2M131 45.5h1M133 45.5h2M138 45.5h1M150 45.5h1M155 45.5h1M159 45.5h1M161 45.5h1M163 45.5h2M167 45.5h1M170 45.5h1M2 46.5h1M18 46.5h5M30 46.5h1M35 46.5h1M41 46.5h1M43 46.5h2M48 46.5h4M55 46.5h1M61 46.5h1M76 46.5h1M81 46.5h1M85 46.5h1M91 46.5h1M99 46.5h2M102 46.5h1M104 46.5h2M121 46.5h1M130 46.5h1M137 46.5h1M151 46.5h2M159 46.5h3M12 47.5h1M18 47.5h1M20 47.5h1M23 47.5h1M44 47.5h1M47 47.5h2M53 47.5h1M55 47.5h1M67 47.5h1M72 47.5h1M77 47.5h1M84 47.5h1M93 47.5h1M108 47.5h1M125 47.5h1M127 47.5h1M145 47.5h1M155 47.5h1M159 47.5h1M162 47.5h1M13 48.5h1M21 48.5h1M39 48.5h1M51 48.5h1M58 48.5h2M65 48.5h2M88 48.5h1M91 48.5h1M96 48.5h1M107 48.5h1M112 48.5h4M118 48.5h1M120 48.5h3M126 48.5h1M137 48.5h1M146 48.5h1M160 48.5h1M162 48.5h1M167 48.5h1M169 48.5h1M6 49.5h1M9 49.5h1M11 49.5h1M13 49.5h1M17 49.5h2M24 49.5h1M33 49.5h1M39 49.5h2M43 49.5h1M50 49.5h1M58 49.5h1M69 49.5h1M97 49.5h1M99 49.5h1M107 49.5h1M119 49.5h1M121 49.5h1M134 49.5h1M144 49.5h1M149 49.5h1M154 49.5h1M164 49.5h1M168 49.5h1M11 50.5h1M24 50.5h1M40 50.5h1M48 50.5h1M59 50.5h1M64 50.5h3M71 50.5h1M74 50.5h1M77 50.5h1M79 50.5h1M81 50.5h1M83 50.5h1M87 50.5h1M91 50.5h2M101 50.5h1M112 50.5h1M120 50.5h1M124 50.5h1M131 50.5h1M143 50.5h1M152 50.5h2M157 50.5h1M169 50.5h2M5 51.5h1M7 51.5h1M15 51.5h2M19 51.5h1M30 51.5h1M38 51.5h1M45 51.5h1M77 51.5h2M87 51.5h1M101 51.5h1M106 51.5h1M123 51.5h1M130 51.5h1M147 51.5h1M150 51.5h1M167 51.5h1M0 52.5h1M12 52.5h1M26 52.5h1M30 52.5h1M50 52.5h1M54 52.5h1M59 52.5h1M83 52.5h1M85 52.5h1M97 52.5h1M117 52.5h2M136 52.5h1M143 52.5h1M147 52.5h1M152 52.5h1M163 52.5h1M165 52.5h2M17 53.5h1M22 53.5h1M36 53.5h1M40 53.5h2M54 53.5h1M61 53.5h1M70 53.5h1M72 53.5h1M81 53.5h2M84 53.5h1M99 53.5h1M105 53.5h1M121 53.5h1M129 53.5h1M138 53.5h1M140 53.5h1M146 53.5h1M158 53.5h1M11 54.5h1M21 54.5h1M24 54.5h2M28 54.5h2M34 54.5h1M69 54.5h1M73 54.5h1M82 54.5h1M92 54.5h1M94 54.5h1M102 54.5h1M107 54.5h1M119 54.5h1M133 54.5h1M137 54.5h1M141 54.5h1M145 54.5h1M158 54.5h1M165 54.5h1M168 54.5h1M13 55.5h1M18 55.5h1M20 55.5h1M44 55.5h1M58 55.5h1M62 55.5h1M70 55.5h1M74 55.5h1M77 55.5h1M81 55.5h1M93 55.5h1M104 55.5h1M127 55.5h1M131 55.5h1M150 55.5h1M152 55.5h1M158 55.5h1M163 55.5h1M170 55.5h1M17 56.5h1M23 56.5h1M28 56.5h1M43 56.5h1M48 56.5h1M52 56.5h1M74 56.5h1M98 56.5h1M103 56.5h1M116 56.5h1M134 56.5h1M141 56.5h1M147 56.5h1M159 56.5h1M22 57.5h1M30 57.5h1M33 57.5h1M35 57.5h1M66 57.5h1M87 57.5h1M107 57.5h1M111 57.5h1M115 57.5h1M118 57.5h1M123 57.5h1M125 57.5h1M137 57.5h1M140 57.5h1M154 57.5h1M167 57.5h1M6 58.5h1M16 58.5h1M19 58.5h3M25 58.5h1M28 58.5h1M67 58.5h1M87 58.5h1M93 58.5h1M118 58.5h1M124 58.5h1M152 58.5h1M170 58.5h1M15 59.5h1M17 59.5h1M22 59.5h1M25 59.5h1M27 59.5h1M35 59.5h1M38 59.5h1M48 59.5h1M55 59.5h1M61 59.5h1M77 59.5h1M81 59.5h1M94 59.5h1M103 59.5h1M105 59.5h1M118 59.5h2M123 59.5h1M128 59.5h1M137 59.5h1M154 59.5h2M165 59.5h1M170 59.5h1M13 60.5h1M15 60.5h1M17 60.5h1M24 60.5h1M28 60.5h1M35 60.5h1M46 60.5h1M73 60.5h1M76 60.5h1M82 60.5h1M98 60.5h1M107 60.5h1M111 60.5h1M113 60.5h1M118 60.5h1M125 60.5h1M138 60.5h1M156 60.5h1M168 60.5h1"/><path stroke="#af0000" d="M11 0.5h1M24 0.5h2M65 0.5h1M90 0.5h1M96 0.5h1M121 0.5h1M135 0.5h1M5 1.5h1M19 1.5h1M34 1.5h1M37 1.5h1M43 1.5h1M46 1.5h1M52 1.5h1M66 1.5h1M76 1.5h1M81 1.5h1M83 1.5h1M88 1.5h1M103 1.5h1M107 1.5h1M114 1.5h1M122 1.5h1M127 1.5h1M140 1.5h1M152 1.5h1M158 1.5h1M0 2.5h1M6 2.5h1M11 2.5h1M37 2.5h1M41 2.5h1M46 2.5h1M50 2.5h1M53 2.5h2M65 2.5h1M68 2.5h2M75 2.5h1M77 2.5h1M97 2.5h1M113 2.5h1M132 2.5h1M134 2.5h1M137 2.5h1M140 2.5h1M142 2.5h1M146 2.5h2M150 2.5h1M169 2.5h1M0 3.5h1M12 3.5h1M14 3.5h1M22 3.5h1M24 3.5h1M39 3.5h1M41 3.5h2M50 3.5h1M65 3.5h3M116 3.5h1M118 3.5h1M120 3.5h1M122 3.5h1M125 3.5h1M129 3.5h1M135 3.5h1M146 3.5h1M170 3.5h1M11 4.5h1M17 4.5h1M22 4.5h2M56 4.5h1M66 4.5h2M73 4.5h1M78 4.5h2M82 4.5h2M88 4.5h1M105 4.5h1M110 4.5h2M116 4.5h1M118 4.5h1M120 4.5h1M134 4.5h1M146 4.5h1M150 4.5h1M8 5.5h1M10 5.5h1M14 5.5h1M40 5.5h1M47 5.5h1M49 5.5h1M57 5.5h1M60 5.5h1M74 5.5h1M79 5.5h1M82 5.5h1M88 5.5h1M91 5.5h1M93 5.5h1M115 5.5h1M120 5.5h1M129 5.5h1M150 5.5h1M158 5.5h1M168 5.5h2M11 6.5h1M15 6.5h1M28 6.5h1M36 6.5h1M43 6.5h2M47 6.5h1M58 6.5h1M70 6.5h1M76 6.5h1M81 6.5h1M87 6.5h1M91 6.5h1M114 6.5h1M116 6.5h1M132 6.5h2M138 6.5h1M140 6.5h1M142 6.5h1M157 6.5h1M162 6.5h1M167 6.5h1M3 7.5h1M7 7.5h1M11 7.5h1M28 7.5h1M41 7.5h1M43 7.5h1M66 7.5h1M74 7.5h2M80 7.5h1M83 7.5h1M93 7.5h1M107 7.5h1M119 7.5h1M129 7.5h1M134 7.5h1M137 7.5h1M142 7.5h2M148 7.5h1M17 8.5h1M46 8.5h1M113 8.5h1M137 8.5h1M79 11.5h1M55 17.5h1M79 17.5h1M116 17.5h1M125 17.5h1M95 18.5h1M102 18.5h1M4 19.5h1M24 19.5h1M28 19.5h1M46 19.5h1M48 19.5h1M58 19.5h1M84 19.5h1M142 19.5h1M147 19.5h1M33 20.5h1M49 20.5h1M75 20.5h1M79 20.5h1M81 20.5h1M135 20.5h1M140 20.5h1M162 20.5h1M37 21.5h1M78 21.5h2M139 21.5h1M158 21.5h1M0 23.5h1M158 24.5h1M67 25.5h1M88 25.5h1M103 25.5h1M49 26.5h1M58 27.5h1M94 27.5h1M74 30.5h1M39 31.5h1M0 32.5h1M6 32.5h1M21 32.5h1M132 32.5h1M1 33.5h1M20 33.5h1M130 33.5h1M25 38.5h1M67 60.5h1M94 60.5h1"/><path stroke="#400000" d="M12 0.5h2M73 0.5h1M115 0.5h1M128 0.5h1M139 0.5h1M142 0.5h1M8 3.5h1M7 4.5h1M20 4.5h1M64 4.5h1M117 4.5h1M160 4.5h1M166 4.5h1M26 6.5h1M9 7.5h1M71 7.5h1M87 7.5h1M166 7.5h1M12 8.5h1M14 8.5h1M25 8.5h1M28 8.5h1M44 8.5h2M48 8.5h1M56 8.5h1M64 8.5h1M92 8.5h1M97 8.5h1M112 8.5h1M119 8.5h1M125 8.5h1M130 8.5h2M146 8.5h1M16 9.5h1M22 9.5h1M43 9.5h1M50 9.5h2M57 9.5h1M62 9.5h1M64 9.5h2M69 9.5h1M74 9.5h1M105 9.5h1M118 9.5h1M142 9.5h1M145 9.5h1M153 9.5h1M155 9.5h1M161 9.5h1M170 9.5h1M21 10.5h1M28 10.5h1M32 10.5h1M35 10.5h2M38 10.5h1M40 10.5h1M44 10.5h1M47 10.5h1M54 10.5h2M57 10.5h1M59 10.5h1M62 10.5h1M64 10.5h1M67 10.5h2M79 10.5h1M102 10.5h1M104 10.5h1M107 10.5h2M113 10.5h1M118 10.5h2M125 10.5h1M127 10.5h1M132 10.5h1M134 10.5h1M137 10.5h1M156 10.5h1M165 10.5h1M167 10.5h1M12 11.5h1M43 11.5h1M51 11.5h2M54 11.5h1M60 11.5h1M62 11.5h1M65 11.5h1M76 11.5h1M81 11.5h2M88 11.5h1M93 11.5h1M101 11.5h1M105 11.5h1M115 11.5h1M119 11.5h1M125 11.5h1M132 11.5h1M138 11.5h1M145 11.5h2M150 11.5h1M154 11.5h1M164 11.5h1M0 12.5h1M23 12.5h1M26 12.5h1M28 12.5h1M30 12.5h1M54 12.5h1M56 12.5h1M63 12.5h1M70 12.5h1M72 12.5h1M82 12.5h1M86 12.5h1M94 12.5h1M97 12.5h1M110 12.5h1M113 12.5h1M124 12.5h1M143 12.5h1M146 12.5h1M155 12.5h1M157 12.5h1M161 12.5h1M19 13.5h1M22 13.5h1M24 13.5h1M31 13.5h1M42 13.5h1M48 13.5h1M61 13.5h1M70 13.5h1M73 13.5h3M77 13.5h1M87 13.5h1M98 13.5h1M104 13.5h1M107 13.5h1M123 13.5h1M128 13.5h1M132 13.5h1M145 13.5h1M152 13.5h1M154 13.5h1M156 13.5h1M161 13.5h1M164 13.5h2M168 13.5h1M6 14.5h1M21 14.5h1M29 14.5h1M37 14.5h1M41 14.5h1M48 14.5h1M52 14.5h1M56 14.5h1M58 14.5h2M68 14.5h1M85 14.5h1M96 14.5h1M108 14.5h1M114 14.5h1M116 14.5h1M126 14.5h1M128 14.5h1M132 14.5h1M145 14.5h2M159 14.5h2M11 15.5h1M13 15.5h1M25 15.5h1M31 15.5h1M37 15.5h1M41 15.5h2M58 15.5h1M62 15.5h1M70 15.5h2M77 15.5h1M88 15.5h1M91 15.5h1M94 15.5h2M104 15.5h1M115 15.5h1M133 15.5h1M136 15.5h1M142 15.5h1M144 15.5h1M165 15.5h1M167 15.5h1M12 16.5h1M14 16.5h1M35 16.5h1M38 16.5h2M43 16.5h1M45 16.5h1M51 16.5h1M66 16.5h2M72 16.5h1M78 16.5h1M87 16.5h2M91 16.5h1M100 16.5h2M104 16.5h1M114 16.5h1M121 16.5h1M132 16.5h1M143 16.5h1M145 16.5h1M150 16.5h1M155 16.5h1M166 16.5h3M13 17.5h1M26 17.5h1M41 17.5h1M52 17.5h1M56 17.5h1M59 17.5h1M68 17.5h2M75 17.5h1M84 17.5h2M99 17.5h1M101 17.5h1M114 17.5h1M117 17.5h1M123 17.5h1M128 17.5h1M142 17.5h2M145 17.5h1M153 17.5h1M156 17.5h1M166 17.5h1M169 17.5h1M36 18.5h1M48 18.5h1M54 18.5h1M68 18.5h2M80 18.5h3M84 18.5h1M88 18.5h1M107 18.5h1M128 18.5h1M153 18.5h1M157 18.5h1M166 18.5h1M27 19.5h1M67 19.5h1M97 19.5h2M126 19.5h1M128 19.5h1M138 19.5h1M160 19.5h1M162 19.5h1M19 20.5h2M28 20.5h1M60 20.5h1M66 20.5h1M68 20.5h1M76 20.5h1M84 20.5h1M87 20.5h1M101 20.5h1M106 20.5h1M166 20.5h2M7 21.5h1M18 21.5h1M22 21.5h1M36 21.5h1M51 21.5h1M55 21.5h1M59 21.5h1M61 21.5h1M68 21.5h1M85 21.5h1M87 21.5h1M90 21.5h1M102 21.5h1M136 21.5h1M144 21.5h1M154 21.5h1M157 21.5h1M169 21.5h2M9 22.5h1M18 22.5h1M22 22.5h1M40 22.5h1M69 22.5h1M72 22.5h1M81 22.5h1M99 22.5h1M112 22.5h1M123 22.5h1M131 22.5h1M145 22.5h1M164 22.5h3M8 23.5h1M13 23.5h1M29 23.5h1M42 23.5h1M45 23.5h1M47 23.5h1M53 23.5h2M61 23.5h1M72 23.5h1M78 23.5h1M107 23.5h2M123 23.5h2M130 23.5h3M141 23.5h3M152 23.5h1M166 23.5h1M1 24.5h2M10 24.5h1M17 24.5h2M30 24.5h1M32 24.5h1M42 24.5h1M45 24.5h1M60 24.5h3M73 24.5h1M123 24.5h1M126 24.5h1M139 24.5h1M141 24.5h2M156 24.5h1M165 24.5h2M6 25.5h1M13 25.5h1M29 25.5h1M45 25.5h1M56 25.5h1M59 25.5h1M62 25.5h2M68 25.5h2M107 25.5h1M112 25.5h1M123 25.5h1M125 25.5h1M128 25.5h1M130 25.5h1M144 25.5h2M148 25.5h2M154 25.5h1M156 25.5h1M163 25.5h1M20 26.5h1M22 26.5h3M32 26.5h1M51 26.5h1M54 26.5h1M59 26.5h1M71 26.5h1M84 26.5h4M95 26.5h1M104 26.5h3M112 26.5h1M114 26.5h1M120 26.5h2M124 26.5h1M126 26.5h1M132 26.5h1M161 26.5h1M163 26.5h1M170 26.5h1M27 27.5h1M35 27.5h1M42 27.5h1M68 27.5h1M71 27.5h1M80 27.5h1M85 27.5h1M96 27.5h1M109 27.5h1M123 27.5h2M137 27.5h2M151 27.5h1M160 27.5h1M165 27.5h1M170 27.5h1M2 28.5h1M22 28.5h1M33 28.5h1M53 28.5h1M59 28.5h1M62 28.5h1M64 28.5h1M85 28.5h1M92 28.5h1M101 28.5h1M108 28.5h1M117 28.5h1M132 28.5h1M134 28.5h1M137 28.5h1M142 28.5h1M153 28.5h1M157 28.5h1M160 28.5h1M164 28.5h1M12 29.5h2M19 29.5h2M30 29.5h1M32 29.5h1M35 29.5h1M48 29.5h1M52 29.5h1M80 29.5h1M96 29.5h1M98 29.5h1M106 29.5h1M111 29.5h1M117 29.5h1M124 29.5h1M130 29.5h1M141 29.5h1M151 29.5h1M163 29.5h2M2 30.5h1M12 30.5h2M29 30.5h2M34 30.5h1M42 30.5h1M45 30.5h1M51 30.5h1M56 30.5h1M59 30.5h1M64 30.5h1M71 30.5h1M94 30.5h1M99 30.5h1M104 30.5h1M108 30.5h1M112 30.5h1M121 30.5h1M129 30.5h1M138 30.5h1M149 30.5h1M156 30.5h1M159 30.5h1M163 30.5h1M168 30.5h1M0 31.5h1M7 31.5h1M16 31.5h1M19 31.5h1M22 31.5h1M29 31.5h2M45 31.5h1M51 31.5h1M54 31.5h1M78 31.5h1M90 31.5h1M105 31.5h1M109 31.5h1M115 31.5h1M130 31.5h1M147 31.5h1M169 31.5h1M64 32.5h1M77 32.5h1M93 32.5h1M99 32.5h1M119 32.5h1M123 32.5h1M131 32.5h1M138 32.5h1M140 32.5h1M4 33.5h2M26 33.5h1M30 33.5h1M36 33.5h1M40 33.5h1M43 33.5h1M60 33.5h2M93 33.5h1M149 33.5h1M151 33.5h1M154 33.5h1M170 33.5h1M103 35.5h1M73 36.5h1M106 36.5h1M155 36.5h1M170 36.5h1M86 37.5h1M14 38.5h1M28 38.5h1M31 38.5h1M88 38.5h1M126 38.5h2M129 38.5h1M134 38.5h1M19 39.5h1M34 41.5h1M58 41.5h1M61 41.5h1M81 41.5h1M87 41.5h1M105 41.5h1M114 41.5h1M135 41.5h1M63 42.5h1M65 42.5h1M77 42.5h2M142 42.5h1M155 42.5h1M30 44.5h1M41 44.5h1M44 44.5h1M75 44.5h1M135 44.5h1M140 44.5h1M16 45.5h1M22 45.5h1M24 45.5h1M42 45.5h4M64 45.5h1M66 45.5h1M70 45.5h1M75 45.5h1M81 45.5h1M83 45.5h1M85 45.5h1M87 45.5h1M92 45.5h1M94 45.5h1M105 45.5h1M107 45.5h1M114 45.5h1M117 45.5h2M13 46.5h2M24 46.5h1M36 46.5h2M59 46.5h1M64 46.5h1M67 46.5h1M71 46.5h1M75 46.5h1M92 46.5h2M115 46.5h1M119 46.5h1M124 46.5h1M129 46.5h1M131 46.5h1M141 46.5h1M148 46.5h1M155 46.5h2M166 46.5h1M169 46.5h1M11 47.5h1M15 47.5h1M21 47.5h1M29 47.5h2M35 47.5h1M57 47.5h1M74 47.5h2M81 47.5h1M87 47.5h1M91 47.5h1M109 47.5h1M118 47.5h1M138 47.5h1M142 47.5h1M144 47.5h1M170 47.5h1M18 48.5h2M25 48.5h1M30 48.5h1M36 48.5h1M41 48.5h1M43 48.5h1M72 48.5h1M81 48.5h1M93 48.5h1M101 48.5h1M117 48.5h1M29 49.5h1M49 49.5h1M52 49.5h1M68 49.5h1M86 49.5h1M114 49.5h1M146 49.5h2M150 49.5h1M153 49.5h1M158 49.5h1M165 49.5h1M12 50.5h1M16 50.5h2M20 50.5h1M39 50.5h1M44 50.5h1M58 50.5h1M60 50.5h1M75 50.5h1M94 50.5h1M96 50.5h1M106 50.5h1M121 50.5h1M123 50.5h1M128 50.5h1M158 50.5h1M164 50.5h1M167 50.5h1M6 51.5h1M12 51.5h1M21 51.5h1M25 51.5h1M34 51.5h1M57 51.5h1M59 51.5h1M108 51.5h1M114 51.5h1M128 51.5h1M131 51.5h1M143 51.5h1M146 51.5h1M149 51.5h1M151 51.5h2M158 51.5h2M166 51.5h1M7 52.5h1M19 52.5h1M23 52.5h1M32 52.5h2M36 52.5h1M41 52.5h1M44 52.5h1M63 52.5h1M75 52.5h1M77 52.5h1M81 52.5h1M88 52.5h1M91 52.5h1M107 52.5h1M110 52.5h1M126 52.5h2M141 52.5h1M144 52.5h1M149 52.5h2M153 52.5h1M167 52.5h1M169 52.5h1M3 53.5h1M15 53.5h1M18 53.5h1M28 53.5h1M32 53.5h1M35 53.5h1M46 53.5h1M51 53.5h1M55 53.5h1M58 53.5h1M64 53.5h1M66 53.5h1M77 53.5h1M79 53.5h2M89 53.5h1M96 53.5h1M104 53.5h1M124 53.5h2M132 53.5h1M137 53.5h1M147 53.5h1M156 53.5h1M165 53.5h1M31 54.5h1M37 54.5h1M47 54.5h1M58 54.5h1M76 54.5h1M91 54.5h1M93 54.5h1M97 54.5h1M114 54.5h1M166 54.5h1M0 55.5h1M30 55.5h1M40 55.5h1M51 55.5h1M72 55.5h1M76 55.5h1M86 55.5h1M88 55.5h2M91 55.5h1M97 55.5h1M103 55.5h1M105 55.5h1M148 55.5h1M153 55.5h1M166 55.5h1M6 56.5h1M26 56.5h1M29 56.5h1M33 56.5h1M40 56.5h1M57 56.5h1M67 56.5h1M72 56.5h1M83 56.5h1M94 56.5h1M101 56.5h1M11 57.5h1M44 57.5h1M49 57.5h1M72 57.5h2M80 57.5h1M89 57.5h1M95 57.5h1M101 57.5h1M119 57.5h1M142 57.5h1M146 57.5h1M22 58.5h1M30 58.5h1M72 58.5h1M85 58.5h1M88 58.5h1M94 58.5h1M100 58.5h1M115 58.5h1M119 58.5h1M122 58.5h1M14 59.5h1M32 59.5h1M45 59.5h1M56 59.5h1M64 59.5h1M68 59.5h1M73 59.5h1M90 59.5h1M113 59.5h1M131 59.5h1M134 59.5h1M143 59.5h1M158 59.5h1M161 59.5h1M26 60.5h1M37 60.5h1M39 60.5h1M45 60.5h1M54 60.5h1M56 60.5h1M58 60.5h1M74 60.5h1M91 60.5h1M99 60.5h1M157 60.5h1"/><path stroke="#600000" d="M14 0.5h1M39 0.5h1M53 0.5h1M59 0.5h1M66 0.5h1M72 0.5h1M87 0.5h1M103 0.5h1M109 0.5h1M127 0.5h1M136 0.5h1M144 0.5h1M146 0.5h1M2 1.5h1M8 1.5h1M51 1.5h1M63 1.5h1M71 1.5h1M96 1.5h1M98 1.5h1M117 1.5h1M124 1.5h1M128 1.5h1M133 1.5h1M144 1.5h2M159 1.5h1M165 1.5h1M5 2.5h1M8 2.5h1M18 2.5h1M42 2.5h1M60 2.5h1M63 2.5h1M99 2.5h1M102 2.5h1M130 2.5h1M1 3.5h1M32 3.5h1M45 3.5h1M51 3.5h1M98 3.5h1M112 3.5h1M130 3.5h1M133 3.5h1M145 3.5h1M155 3.5h2M160 3.5h1M27 4.5h1M63 4.5h1M77 4.5h1M80 4.5h1M107 4.5h1M124 4.5h1M163 4.5h1M170 4.5h1M3 5.5h1M5 5.5h1M17 5.5h2M20 5.5h1M39 5.5h1M45 5.5h1M61 5.5h1M85 5.5h1M109 5.5h1M151 5.5h1M159 5.5h1M166 5.5h1M3 6.5h1M7 6.5h1M22 6.5h1M30 6.5h1M45 6.5h1M52 6.5h1M68 6.5h1M71 6.5h1M96 6.5h1M115 6.5h1M120 6.5h1M139 6.5h1M152 6.5h1M154 6.5h1M22 7.5h2M32 7.5h1M35 7.5h1M69 7.5h1M104 7.5h1M123 7.5h2M128 7.5h1M5 8.5h2M23 8.5h1M55 8.5h1M58 8.5h1M75 8.5h1M83 8.5h1M86 8.5h1M90 8.5h1M94 8.5h1M110 8.5h1M114 8.5h2M134 8.5h1M157 8.5h1M169 8.5h1M1 9.5h1M4 9.5h1M6 9.5h1M11 9.5h1M24 9.5h1M35 9.5h1M38 9.5h4M53 9.5h1M55 9.5h1M78 9.5h1M103 9.5h1M110 9.5h1M113 9.5h1M131 9.5h1M140 9.5h2M148 9.5h1M158 9.5h1M164 9.5h1M167 9.5h1M14 10.5h1M30 10.5h2M37 10.5h1M43 10.5h1M45 10.5h1M75 10.5h1M77 10.5h2M88 10.5h1M95 10.5h1M110 10.5h1M136 10.5h1M146 10.5h1M149 10.5h2M162 10.5h1M169 10.5h1M29 11.5h1M34 11.5h1M37 11.5h1M48 11.5h1M56 11.5h1M70 11.5h1M73 11.5h1M78 11.5h1M89 11.5h3M108 11.5h1M117 11.5h2M131 11.5h1M140 11.5h2M153 11.5h1M167 11.5h1M170 11.5h1M20 12.5h1M27 12.5h1M29 12.5h1M33 12.5h1M43 12.5h1M50 12.5h1M53 12.5h1M62 12.5h1M64 12.5h1M77 12.5h1M91 12.5h3M100 12.5h1M102 12.5h1M106 12.5h1M116 12.5h1M120 12.5h1M125 12.5h1M150 12.5h1M158 12.5h1M162 12.5h1M164 12.5h1M169 12.5h1M11 13.5h1M14 13.5h2M34 13.5h1M39 13.5h1M41 13.5h1M45 13.5h1M50 13.5h1M57 13.5h1M65 13.5h1M84 13.5h1M91 13.5h1M93 13.5h2M97 13.5h1M111 13.5h1M120 13.5h1M135 13.5h1M143 13.5h1M148 13.5h1M150 13.5h1M159 13.5h1M14 14.5h1M23 14.5h1M36 14.5h1M40 14.5h1M47 14.5h1M55 14.5h1M57 14.5h1M60 14.5h1M90 14.5h3M94 14.5h1M100 14.5h1M102 14.5h1M107 14.5h1M109 14.5h1M137 14.5h1M155 14.5h1M157 14.5h1M161 14.5h1M163 14.5h1M169 14.5h1M14 15.5h2M28 15.5h1M35 15.5h1M44 15.5h1M48 15.5h1M64 15.5h2M67 15.5h1M78 15.5h1M86 15.5h1M119 15.5h1M124 15.5h1M138 15.5h1M141 15.5h1M146 15.5h1M148 15.5h2M152 15.5h1M163 15.5h2M168 15.5h1M11 16.5h1M13 16.5h1M17 16.5h1M21 16.5h1M37 16.5h1M44 16.5h1M46 16.5h1M52 16.5h2M56 16.5h2M59 16.5h1M64 16.5h2M80 16.5h1M94 16.5h1M105 16.5h2M122 16.5h2M125 16.5h1M131 16.5h1M142 16.5h1M146 16.5h1M151 16.5h1M169 16.5h1M6 17.5h1M14 17.5h1M21 17.5h1M24 17.5h1M27 17.5h1M30 17.5h1M35 17.5h3M43 17.5h2M48 17.5h1M54 17.5h1M57 17.5h1M62 17.5h1M73 17.5h1M78 17.5h1M86 17.5h1M97 17.5h1M100 17.5h1M106 17.5h1M118 17.5h1M122 17.5h1M137 17.5h2M157 17.5h1M162 17.5h1M167 17.5h2M14 18.5h1M20 18.5h1M34 18.5h1M37 18.5h1M43 18.5h1M50 18.5h1M55 18.5h1M58 18.5h1M65 18.5h1M73 18.5h1M77 18.5h2M83 18.5h1M86 18.5h2M90 18.5h1M97 18.5h1M101 18.5h1M105 18.5h2M109 18.5h1M116 18.5h1M119 18.5h1M125 18.5h2M137 18.5h1M142 18.5h1M154 18.5h1M160 18.5h2M164 18.5h1M1 19.5h1M32 19.5h2M35 19.5h2M45 19.5h1M62 19.5h1M76 19.5h1M94 19.5h2M104 19.5h1M111 19.5h1M116 19.5h1M133 19.5h1M143 19.5h2M152 19.5h1M159 19.5h1M165 19.5h1M74 20.5h1M104 20.5h1M114 20.5h1M129 20.5h1M142 20.5h1M169 20.5h1M2 21.5h1M6 21.5h1M11 21.5h1M13 21.5h1M23 21.5h2M29 21.5h2M35 21.5h1M40 21.5h1M54 21.5h1M60 21.5h1M69 21.5h1M73 21.5h1M76 21.5h1M82 21.5h2M89 21.5h1M97 21.5h1M104 21.5h1M106 21.5h1M113 21.5h1M116 21.5h1M125 21.5h1M129 21.5h1M131 21.5h1M133 21.5h1M149 21.5h1M155 21.5h1M165 21.5h1M3 22.5h1M5 22.5h1M20 22.5h1M32 22.5h1M36 22.5h1M39 22.5h1M42 22.5h1M48 22.5h1M53 22.5h1M61 22.5h1M64 22.5h1M68 22.5h1M73 22.5h2M76 22.5h2M80 22.5h1M100 22.5h1M102 22.5h1M104 22.5h2M107 22.5h1M128 22.5h1M130 22.5h1M139 22.5h1M144 22.5h1M146 22.5h1M155 22.5h1M157 22.5h1M167 22.5h1M169 22.5h1M11 23.5h1M15 23.5h4M26 23.5h2M30 23.5h1M40 23.5h1M48 23.5h1M56 23.5h1M60 23.5h1M65 23.5h1M71 23.5h1M85 23.5h3M91 23.5h1M94 23.5h1M97 23.5h2M101 23.5h2M105 23.5h1M110 23.5h1M112 23.5h2M115 23.5h3M120 23.5h1M122 23.5h1M125 23.5h1M133 23.5h1M139 23.5h1M146 23.5h1M149 23.5h1M153 23.5h2M159 23.5h1M161 23.5h1M165 23.5h1M7 24.5h1M11 24.5h1M15 24.5h1M22 24.5h1M24 24.5h1M27 24.5h1M29 24.5h1M31 24.5h1M33 24.5h1M36 24.5h1M39 24.5h1M41 24.5h1M48 24.5h1M50 24.5h3M56 24.5h1M59 24.5h1M64 24.5h1M66 24.5h1M76 24.5h2M81 24.5h1M86 24.5h3M91 24.5h1M93 24.5h1M100 24.5h2M105 24.5h2M116 24.5h1M121 24.5h1M130 24.5h1M136 24.5h1M143 24.5h1M147 24.5h1M154 24.5h2M163 24.5h1M14 25.5h2M17 25.5h1M19 25.5h1M25 25.5h1M34 25.5h2M38 25.5h2M44 25.5h1M54 25.5h1M60 25.5h2M84 25.5h1M87 25.5h1M91 25.5h1M93 25.5h1M101 25.5h1M113 25.5h1M116 25.5h1M121 25.5h1M124 25.5h1M127 25.5h1M135 25.5h1M138 25.5h1M141 25.5h1M157 25.5h1M164 25.5h1M168 25.5h3M14 26.5h2M25 26.5h1M33 26.5h1M37 26.5h1M46 26.5h1M62 26.5h1M70 26.5h1M77 26.5h2M83 26.5h1M89 26.5h1M93 26.5h1M102 26.5h1M129 26.5h1M135 26.5h1M137 26.5h3M142 26.5h1M151 26.5h1M160 26.5h1M165 26.5h2M169 26.5h1M13 27.5h1M23 27.5h1M25 27.5h1M39 27.5h2M43 27.5h2M52 27.5h2M57 27.5h1M59 27.5h1M61 27.5h1M63 27.5h1M82 27.5h1M84 27.5h1M101 27.5h1M105 27.5h1M110 27.5h2M118 27.5h1M121 27.5h1M125 27.5h1M130 27.5h1M136 27.5h1M142 27.5h1M148 27.5h1M153 27.5h1M155 27.5h1M169 27.5h1M7 28.5h1M11 28.5h1M24 28.5h1M27 28.5h1M32 28.5h1M38 28.5h1M40 28.5h1M42 28.5h1M47 28.5h2M55 28.5h2M61 28.5h1M71 28.5h2M75 28.5h1M81 28.5h2M86 28.5h1M102 28.5h1M110 28.5h1M113 28.5h1M119 28.5h1M129 28.5h1M131 28.5h1M140 28.5h2M143 28.5h2M151 28.5h2M155 28.5h1M159 28.5h1M163 28.5h1M167 28.5h1M170 28.5h1M17 29.5h1M21 29.5h1M29 29.5h1M33 29.5h1M36 29.5h1M45 29.5h1M50 29.5h1M60 29.5h1M62 29.5h1M64 29.5h1M69 29.5h1M72 29.5h1M84 29.5h1M87 29.5h1M94 29.5h1M105 29.5h1M109 29.5h1M113 29.5h1M115 29.5h1M118 29.5h1M120 29.5h1M136 29.5h1M139 29.5h1M142 29.5h1M149 29.5h1M152 29.5h1M154 29.5h1M157 29.5h1M10 30.5h1M14 30.5h1M17 30.5h1M32 30.5h1M41 30.5h1M47 30.5h1M52 30.5h1M65 30.5h1M72 30.5h1M78 30.5h1M84 30.5h1M92 30.5h1M97 30.5h1M101 30.5h1M115 30.5h1M119 30.5h1M130 30.5h1M137 30.5h1M139 30.5h1M152 30.5h1M160 30.5h2M10 31.5h1M17 31.5h1M27 31.5h1M33 31.5h1M40 31.5h1M43 31.5h1M64 31.5h2M69 31.5h1M76 31.5h2M100 31.5h1M106 31.5h1M110 31.5h2M116 31.5h1M127 31.5h1M132 31.5h1M138 31.5h1M141 31.5h1M143 31.5h1M149 31.5h2M156 31.5h2M164 31.5h1M27 32.5h1M71 32.5h1M82 32.5h1M87 32.5h1M8 33.5h1M21 33.5h2M29 33.5h1M31 33.5h1M49 33.5h1M51 33.5h1M70 33.5h1M85 33.5h1M88 33.5h2M102 33.5h2M109 33.5h2M118 33.5h1M121 33.5h2M129 33.5h1M134 33.5h3M139 33.5h1M142 33.5h1M164 33.5h1M169 33.5h1M37 37.5h1M97 37.5h1M19 38.5h1M90 38.5h1M102 38.5h1M140 38.5h1M80 39.5h1M125 41.5h1M46 42.5h1M66 42.5h1M136 42.5h1M85 44.5h1M118 44.5h1M125 44.5h1M7 45.5h1M9 45.5h1M32 45.5h1M67 45.5h1M79 45.5h1M126 45.5h1M135 45.5h1M142 45.5h1M148 45.5h1M154 45.5h1M15 46.5h1M17 46.5h1M31 46.5h1M56 46.5h1M73 46.5h1M127 46.5h1M134 46.5h1M58 47.5h1M63 47.5h1M83 47.5h1M113 47.5h1M7 48.5h1M53 48.5h1M76 48.5h1M148 48.5h1M155 48.5h1M26 49.5h1M31 49.5h1M62 49.5h1M64 49.5h1M77 49.5h1M109 49.5h1M135 49.5h1M37 50.5h1M103 50.5h1M66 51.5h1M76 51.5h1M85 51.5h1M90 51.5h1M104 51.5h1M120 51.5h1M10 52.5h1M21 52.5h1M34 52.5h1M45 52.5h1M52 52.5h1M55 52.5h1M61 52.5h1M84 52.5h1M95 52.5h1M100 52.5h1M103 52.5h1M116 52.5h1M125 52.5h1M132 52.5h1M135 52.5h1M137 52.5h1M139 52.5h1M154 52.5h1M158 52.5h1M162 52.5h1M14 53.5h1M19 53.5h1M27 53.5h1M39 53.5h1M53 53.5h1M68 53.5h1M87 53.5h1M102 53.5h1M117 53.5h1M126 53.5h1M148 53.5h1M159 53.5h1M163 53.5h2M170 53.5h1M45 54.5h1M57 54.5h1M96 54.5h1M110 54.5h1M132 54.5h1M151 54.5h1M45 55.5h1M69 55.5h1M71 55.5h1M121 55.5h1M137 55.5h1M144 55.5h1M39 56.5h1M81 56.5h1M88 56.5h1M110 56.5h1M168 56.5h2M29 57.5h1M32 57.5h1M77 57.5h1M165 57.5h1M165 58.5h1M28 59.5h1M52 59.5h1M89 59.5h1M122 59.5h1M156 59.5h1M159 59.5h1M169 59.5h1M21 60.5h1M27 60.5h1M49 60.5h1M88 60.5h1M106 60.5h1M127 60.5h1M130 60.5h1M159 60.5h1"/><path stroke="#ef0000" d="M15 0.5h1M74 0.5h1M74 1.5h1M74 3.5h1M74 6.5h1M88 7.5h1M140 7.5h1M91 20.5h1M155 32.5h1M48 60.5h1"/><path stroke="#8f0000" d="M16 0.5h1M26 0.5h1M31 0.5h1M52 0.5h1M94 0.5h1M150 0.5h1M170 0.5h1M7 1.5h1M9 1.5h1M13 1.5h2M17 1.5h1M21 1.5h1M28 1.5h1M32 1.5h1M38 1.5h1M50 1.5h1M57 1.5h1M59 1.5h2M69 1.5h1M78 1.5h2M86 1.5h1M93 1.5h2M104 1.5h1M106 1.5h1M108 1.5h1M111 1.5h1M121 1.5h1M125 1.5h1M129 1.5h3M134 1.5h2M137 1.5h1M141 1.5h1M146 1.5h1M151 1.5h1M156 1.5h1M168 1.5h2M10 2.5h1M13 2.5h2M17 2.5h1M24 2.5h2M27 2.5h1M31 2.5h1M35 2.5h1M38 2.5h3M47 2.5h1M59 2.5h1M73 2.5h1M76 2.5h1M84 2.5h2M92 2.5h1M100 2.5h1M104 2.5h1M117 2.5h1M122 2.5h1M124 2.5h1M127 2.5h1M136 2.5h1M143 2.5h1M149 2.5h1M159 2.5h1M162 2.5h2M165 2.5h1M168 2.5h1M2 3.5h1M18 3.5h2M28 3.5h1M30 3.5h1M33 3.5h1M36 3.5h1M44 3.5h1M46 3.5h4M54 3.5h1M56 3.5h1M58 3.5h2M63 3.5h1M69 3.5h1M73 3.5h1M76 3.5h1M80 3.5h1M90 3.5h1M96 3.5h1M102 3.5h1M105 3.5h1M108 3.5h1M110 3.5h2M114 3.5h1M121 3.5h1M124 3.5h1M134 3.5h1M136 3.5h1M138 3.5h1M142 3.5h1M151 3.5h1M161 3.5h1M164 3.5h1M19 4.5h1M24 4.5h3M28 4.5h1M40 4.5h1M43 4.5h3M70 4.5h1M91 4.5h1M95 4.5h2M100 4.5h1M132 4.5h1M140 4.5h1M143 4.5h1M149 4.5h1M154 4.5h2M162 4.5h1M19 5.5h1M29 5.5h2M41 5.5h1M56 5.5h1M64 5.5h3M68 5.5h3M77 5.5h2M80 5.5h1M83 5.5h1M86 5.5h1M92 5.5h1M94 5.5h1M96 5.5h1M98 5.5h1M102 5.5h1M106 5.5h1M112 5.5h1M121 5.5h1M127 5.5h1M131 5.5h2M136 5.5h1M141 5.5h1M144 5.5h1M147 5.5h1M161 5.5h1M6 6.5h1M9 6.5h1M12 6.5h1M18 6.5h1M25 6.5h1M29 6.5h1M32 6.5h2M40 6.5h1M48 6.5h1M53 6.5h1M55 6.5h1M64 6.5h1M69 6.5h1M72 6.5h2M75 6.5h1M77 6.5h2M85 6.5h1M93 6.5h1M99 6.5h1M102 6.5h1M104 6.5h1M110 6.5h1M112 6.5h2M123 6.5h1M141 6.5h1M143 6.5h2M146 6.5h2M155 6.5h1M158 6.5h1M160 6.5h1M164 6.5h1M6 7.5h1M16 7.5h1M30 7.5h1M36 7.5h2M39 7.5h1M59 7.5h1M62 7.5h4M70 7.5h1M82 7.5h1M95 7.5h1M98 7.5h1M103 7.5h1M108 7.5h1M111 7.5h1M122 7.5h1M133 7.5h1M138 7.5h2M144 7.5h2M153 7.5h2M169 7.5h1M69 8.5h1M72 8.5h1M76 8.5h1M95 8.5h1M140 8.5h1M158 8.5h1M168 8.5h1M29 9.5h1M93 9.5h1M107 9.5h1M49 10.5h1M135 10.5h1M151 11.5h1M15 12.5h1M74 12.5h1M79 12.5h1M40 13.5h1M162 13.5h1M44 14.5h1M49 14.5h1M79 14.5h1M88 14.5h1M97 14.5h1M149 14.5h1M49 15.5h1M162 15.5h1M54 16.5h1M90 16.5h1M103 16.5h1M140 16.5h1M154 16.5h1M17 17.5h1M53 17.5h1M58 17.5h1M66 17.5h1M82 17.5h1M107 17.5h1M127 17.5h1M132 17.5h1M40 18.5h1M56 18.5h1M70 18.5h1M111 18.5h1M134 18.5h1M140 18.5h1M158 18.5h1M165 18.5h1M0 19.5h1M3 19.5h1M37 19.5h1M47 19.5h1M53 19.5h1M57 19.5h1M61 19.5h1M70 19.5h1M72 19.5h1M75 19.5h1M83 19.5h1M88 19.5h1M91 19.5h1M99 19.5h1M107 19.5h1M114 19.5h1M118 19.5h1M122 19.5h1M127 19.5h1M148 19.5h2M2 20.5h1M24 20.5h1M55 20.5h1M102 20.5h1M113 20.5h1M118 20.5h1M146 20.5h1M148 20.5h1M39 21.5h1M44 21.5h1M46 21.5h1M53 21.5h1M57 21.5h2M66 21.5h2M74 21.5h1M77 21.5h1M86 21.5h1M92 21.5h1M108 21.5h3M117 21.5h1M130 21.5h1M135 21.5h1M168 21.5h1M1 22.5h1M8 22.5h1M51 22.5h1M58 22.5h1M60 22.5h1M67 22.5h1M70 22.5h1M132 22.5h1M142 22.5h1M152 22.5h1M158 22.5h1M160 22.5h1M162 22.5h1M21 23.5h1M23 23.5h1M28 23.5h1M67 23.5h1M70 23.5h1M74 23.5h2M79 23.5h2M93 23.5h1M111 23.5h1M134 23.5h1M34 24.5h1M47 24.5h1M49 24.5h1M75 24.5h1M92 24.5h1M107 24.5h1M120 24.5h1M134 24.5h1M164 24.5h1M5 25.5h1M53 25.5h1M65 25.5h1M0 26.5h1M34 26.5h1M50 26.5h1M58 26.5h1M74 26.5h1M127 26.5h1M134 26.5h1M146 26.5h1M152 26.5h1M11 27.5h1M75 27.5h1M78 27.5h2M120 27.5h1M129 27.5h1M162 27.5h1M168 27.5h1M65 28.5h1M91 28.5h1M114 28.5h1M120 28.5h1M27 29.5h2M41 29.5h1M46 29.5h1M56 29.5h2M82 29.5h1M90 29.5h1M110 29.5h1M137 29.5h1M140 29.5h1M146 29.5h1M150 29.5h1M11 30.5h1M24 30.5h1M95 30.5h1M106 30.5h1M110 30.5h1M114 30.5h1M125 30.5h1M135 30.5h1M146 30.5h1M162 30.5h1M11 31.5h2M15 31.5h1M25 31.5h1M31 31.5h1M46 31.5h1M49 31.5h1M56 31.5h1M79 31.5h1M91 31.5h1M97 31.5h1M118 31.5h1M122 31.5h1M7 32.5h1M44 32.5h1M62 32.5h1M91 32.5h1M107 32.5h1M7 33.5h1M9 33.5h1M27 33.5h1M32 33.5h1M65 33.5h1M76 33.5h2M86 33.5h1M91 33.5h1M117 33.5h1M120 33.5h1M125 33.5h1M133 33.5h1M138 33.5h1M58 38.5h1M25 49.5h1M67 51.5h1M1 52.5h1M48 53.5h1M23 55.5h1M66 56.5h1M144 56.5h1M83 58.5h1M57 59.5h1M95 59.5h1M117 59.5h1M141 60.5h1"/><path stroke="#800000" d="M17 0.5h1M43 0.5h2M54 0.5h1M61 0.5h2M105 0.5h1M107 0.5h1M114 0.5h1M123 0.5h1M125 0.5h1M130 0.5h1M157 0.5h1M169 0.5h1M16 1.5h1M18 1.5h1M20 1.5h1M31 1.5h1M36 1.5h1M39 1.5h1M41 1.5h1M48 1.5h1M67 1.5h1M72 1.5h2M77 1.5h1M80 1.5h1M82 1.5h1M87 1.5h1M90 1.5h1M92 1.5h1M101 1.5h1M105 1.5h1M112 1.5h1M119 1.5h1M139 1.5h1M149 1.5h1M155 1.5h1M164 1.5h1M1 2.5h1M19 2.5h1M22 2.5h2M33 2.5h1M36 2.5h1M45 2.5h1M48 2.5h1M51 2.5h2M57 2.5h1M62 2.5h1M64 2.5h1M78 2.5h1M86 2.5h1M91 2.5h1M94 2.5h1M98 2.5h1M112 2.5h1M115 2.5h1M128 2.5h1M133 2.5h1M138 2.5h1M141 2.5h1M144 2.5h2M156 2.5h1M161 2.5h1M164 2.5h1M166 2.5h1M9 3.5h1M13 3.5h1M17 3.5h1M20 3.5h2M31 3.5h1M35 3.5h1M64 3.5h1M87 3.5h1M89 3.5h1M95 3.5h1M99 3.5h2M117 3.5h1M123 3.5h1M137 3.5h1M141 3.5h1M147 3.5h1M149 3.5h2M153 3.5h2M157 3.5h1M159 3.5h1M163 3.5h1M166 3.5h1M168 3.5h2M12 4.5h1M14 4.5h1M30 4.5h1M32 4.5h1M35 4.5h1M48 4.5h1M59 4.5h1M61 4.5h1M72 4.5h1M74 4.5h1M81 4.5h1M84 4.5h2M90 4.5h1M92 4.5h1M94 4.5h1M98 4.5h2M102 4.5h1M121 4.5h1M125 4.5h1M136 4.5h4M142 4.5h1M145 4.5h1M147 4.5h1M153 4.5h1M158 4.5h2M164 4.5h2M2 5.5h1M11 5.5h1M13 5.5h1M21 5.5h1M23 5.5h1M26 5.5h1M28 5.5h1M31 5.5h1M35 5.5h4M42 5.5h1M54 5.5h1M59 5.5h1M81 5.5h1M84 5.5h1M97 5.5h1M100 5.5h1M108 5.5h1M114 5.5h1M117 5.5h1M123 5.5h1M125 5.5h1M137 5.5h1M142 5.5h2M145 5.5h1M148 5.5h2M152 5.5h1M154 5.5h2M157 5.5h1M160 5.5h1M163 5.5h1M2 6.5h1M13 6.5h2M19 6.5h1M21 6.5h1M23 6.5h1M31 6.5h1M51 6.5h1M54 6.5h1M61 6.5h3M65 6.5h1M83 6.5h2M98 6.5h1M101 6.5h1M105 6.5h1M121 6.5h1M124 6.5h1M130 6.5h2M137 6.5h1M151 6.5h1M156 6.5h1M159 6.5h1M1 7.5h1M15 7.5h1M18 7.5h2M26 7.5h1M31 7.5h1M33 7.5h1M38 7.5h1M48 7.5h1M52 7.5h1M54 7.5h2M60 7.5h1M72 7.5h2M86 7.5h1M90 7.5h1M92 7.5h1M96 7.5h1M106 7.5h1M116 7.5h2M125 7.5h1M147 7.5h1M149 7.5h1M151 7.5h2M159 7.5h2M11 8.5h1M20 8.5h1M27 8.5h1M36 8.5h2M43 8.5h1M47 8.5h1M50 8.5h1M52 8.5h1M66 8.5h1M121 8.5h1M138 8.5h1M162 8.5h1M170 8.5h1M34 9.5h1M48 9.5h1M52 9.5h1M134 9.5h2M168 9.5h1M41 10.5h1M103 10.5h1M112 10.5h1M23 11.5h1M39 11.5h1M58 11.5h1M103 11.5h1M106 11.5h1M44 12.5h1M111 12.5h1M133 12.5h2M140 12.5h1M149 12.5h1M44 13.5h1M46 13.5h1M49 13.5h1M62 13.5h1M88 13.5h1M108 13.5h1M113 13.5h1M146 13.5h1M169 13.5h1M77 14.5h1M82 14.5h1M130 14.5h2M140 14.5h1M147 14.5h1M34 15.5h1M36 15.5h1M38 15.5h1M50 15.5h1M54 15.5h1M85 15.5h1M93 15.5h1M103 15.5h1M131 15.5h1M158 15.5h1M160 15.5h1M15 16.5h1M24 16.5h1M29 16.5h1M49 16.5h1M60 16.5h1M79 16.5h1M97 16.5h1M110 16.5h1M116 16.5h1M118 16.5h1M137 16.5h1M161 16.5h2M29 17.5h1M42 17.5h1M49 17.5h1M67 17.5h1M88 17.5h2M103 17.5h1M124 17.5h1M134 17.5h1M139 17.5h2M146 17.5h1M17 18.5h1M21 18.5h1M27 18.5h1M31 18.5h1M39 18.5h1M46 18.5h1M63 18.5h1M74 18.5h1M79 18.5h1M92 18.5h2M110 18.5h1M121 18.5h1M127 18.5h1M135 18.5h2M138 18.5h1M146 18.5h1M152 18.5h1M162 18.5h1M170 18.5h1M9 19.5h1M18 19.5h1M20 19.5h1M34 19.5h1M50 19.5h1M59 19.5h1M64 19.5h1M73 19.5h2M77 19.5h2M92 19.5h1M103 19.5h1M115 19.5h1M119 19.5h1M135 19.5h2M146 19.5h1M150 19.5h1M153 19.5h3M158 19.5h1M167 19.5h1M170 19.5h1M11 20.5h1M29 20.5h1M35 20.5h1M38 20.5h1M43 20.5h1M53 20.5h1M71 20.5h1M82 20.5h1M92 20.5h1M98 20.5h1M108 20.5h1M137 20.5h1M155 20.5h1M10 21.5h1M17 21.5h1M21 21.5h1M25 21.5h1M28 21.5h1M32 21.5h2M42 21.5h1M47 21.5h1M64 21.5h1M72 21.5h1M80 21.5h1M84 21.5h1M93 21.5h1M96 21.5h1M103 21.5h1M114 21.5h1M118 21.5h1M120 21.5h1M127 21.5h2M140 21.5h1M146 21.5h2M150 21.5h1M153 21.5h1M160 21.5h1M162 21.5h1M11 22.5h1M14 22.5h2M24 22.5h1M29 22.5h1M34 22.5h1M46 22.5h2M49 22.5h1M54 22.5h1M62 22.5h1M66 22.5h1M79 22.5h1M91 22.5h1M110 22.5h1M118 22.5h1M120 22.5h1M127 22.5h1M129 22.5h1M133 22.5h1M135 22.5h1M149 22.5h1M151 22.5h1M161 22.5h1M168 22.5h1M170 22.5h1M7 23.5h1M34 23.5h2M37 23.5h1M39 23.5h1M43 23.5h1M46 23.5h1M58 23.5h1M63 23.5h1M73 23.5h1M76 23.5h1M88 23.5h1M95 23.5h1M106 23.5h1M118 23.5h1M121 23.5h1M136 23.5h1M148 23.5h1M157 23.5h2M168 23.5h2M40 24.5h1M43 24.5h1M57 24.5h1M67 24.5h1M72 24.5h1M79 24.5h1M82 24.5h2M89 24.5h1M102 24.5h1M111 24.5h1M114 24.5h1M118 24.5h1M127 24.5h1M131 24.5h2M140 24.5h1M149 24.5h1M157 24.5h1M170 24.5h1M0 25.5h1M11 25.5h1M18 25.5h1M24 25.5h1M36 25.5h2M40 25.5h1M51 25.5h2M57 25.5h1M64 25.5h1M74 25.5h1M77 25.5h1M79 25.5h1M82 25.5h1M86 25.5h1M94 25.5h1M104 25.5h1M106 25.5h1M114 25.5h2M129 25.5h1M134 25.5h1M139 25.5h2M151 25.5h1M161 25.5h1M11 26.5h1M29 26.5h1M39 26.5h1M55 26.5h1M57 26.5h1M64 26.5h1M72 26.5h1M79 26.5h1M91 26.5h1M94 26.5h1M97 26.5h1M118 26.5h2M125 26.5h1M136 26.5h1M140 26.5h1M145 26.5h1M158 26.5h1M164 26.5h1M167 26.5h2M12 27.5h1M28 27.5h1M46 27.5h1M49 27.5h2M60 27.5h1M62 27.5h1M67 27.5h1M77 27.5h1M81 27.5h1M86 27.5h1M89 27.5h1M97 27.5h1M102 27.5h1M106 27.5h2M113 27.5h1M117 27.5h1M127 27.5h1M149 27.5h1M164 27.5h1M10 28.5h1M12 28.5h1M15 28.5h1M17 28.5h1M23 28.5h1M34 28.5h2M39 28.5h1M41 28.5h1M44 28.5h1M58 28.5h1M60 28.5h1M76 28.5h1M89 28.5h2M97 28.5h1M107 28.5h1M121 28.5h1M154 28.5h1M158 28.5h1M3 29.5h1M23 29.5h2M34 29.5h1M47 29.5h1M53 29.5h2M66 29.5h1M70 29.5h1M76 29.5h2M86 29.5h1M88 29.5h1M92 29.5h1M95 29.5h1M127 29.5h1M132 29.5h1M135 29.5h1M147 29.5h1M153 29.5h1M168 29.5h1M170 29.5h1M25 30.5h1M36 30.5h1M46 30.5h1M50 30.5h1M53 30.5h1M55 30.5h1M57 30.5h1M61 30.5h2M81 30.5h1M83 30.5h1M90 30.5h1M103 30.5h1M105 30.5h1M122 30.5h1M127 30.5h1M132 30.5h1M158 30.5h1M164 30.5h1M167 30.5h1M14 31.5h1M50 31.5h1M52 31.5h2M55 31.5h1M58 31.5h1M66 31.5h1M82 31.5h1M92 31.5h1M108 31.5h1M114 31.5h1M119 31.5h1M135 31.5h1M153 31.5h2M162 31.5h2M67 32.5h1M109 32.5h1M13 33.5h1M38 33.5h1M68 33.5h1M78 33.5h1M92 33.5h1M105 33.5h1M108 33.5h1M115 33.5h1M124 33.5h1M146 33.5h1M159 33.5h1M63 36.5h1M98 42.5h1M158 45.5h1M28 46.5h1M63 46.5h1M77 46.5h1M103 46.5h1M87 49.5h1M41 50.5h1M57 50.5h1M85 50.5h1M16 52.5h1M144 53.5h1M122 54.5h1M135 55.5h1M38 56.5h1M84 56.5h1M100 56.5h1M120 57.5h1M67 59.5h1M111 59.5h1M114 59.5h1M129 59.5h1M132 59.5h1M61 60.5h1M69 60.5h1M103 60.5h1M131 60.5h1M137 60.5h1"/><path stroke="#000000" d="M18 0.5h1M47 0.5h1M50 0.5h1M55 0.5h1M57 0.5h1M93 0.5h1M110 0.5h1M133 0.5h1M147 0.5h1M8 8.5h1M15 8.5h1M54 8.5h1M67 8.5h1M78 8.5h1M81 8.5h1M84 8.5h1M123 8.5h1M127 8.5h1M136 8.5h1M155 8.5h1M14 9.5h1M86 9.5h1M120 9.5h1M61 10.5h1M98 10.5h1M114 10.5h1M163 10.5h1M17 11.5h1M20 11.5h1M22 11.5h1M41 11.5h1M69 11.5h1M75 11.5h1M123 11.5h1M128 11.5h1M169 11.5h1M16 12.5h1M18 12.5h1M99 12.5h1M9 13.5h1M71 13.5h1M1 14.5h1M7 14.5h1M30 14.5h1M71 14.5h1M133 14.5h1M156 14.5h1M166 14.5h1M3 15.5h1M105 15.5h1M128 15.5h1M161 15.5h1M6 16.5h1M99 16.5h1M12 17.5h1M2 18.5h2M10 18.5h1M145 18.5h1M42 20.5h1M59 20.5h1M72 20.5h1M77 20.5h1M97 20.5h1M138 20.5h1M154 20.5h1M170 20.5h1M5 23.5h1M10 29.5h1M104 29.5h1M5 30.5h1M7 30.5h1M9 30.5h1M26 30.5h1M26 31.5h1M98 31.5h1M16 32.5h1M20 32.5h1M31 32.5h1M34 32.5h1M38 32.5h1M43 32.5h1M68 32.5h1M73 32.5h1M120 32.5h2M161 32.5h1M18 33.5h1M83 33.5h1M100 33.5h1M127 33.5h1M137 33.5h1M27 34.5h1M58 34.5h1M66 34.5h1M99 34.5h1M105 34.5h1M163 34.5h1M167 34.5h1M10 35.5h1M74 35.5h1M96 35.5h1M118 35.5h1M135 35.5h1M155 35.5h1M159 35.5h1M34 36.5h1M46 36.5h1M66 36.5h2M76 36.5h1M78 36.5h1M84 36.5h1M105 36.5h1M117 36.5h1M120 36.5h1M133 36.5h1M136 36.5h1M153 36.5h1M157 36.5h1M166 36.5h1M13 37.5h1M32 37.5h1M39 37.5h1M42 37.5h1M51 37.5h2M55 37.5h1M57 37.5h1M63 37.5h1M67 37.5h1M75 37.5h1M107 37.5h1M110 37.5h1M123 37.5h2M126 37.5h2M138 37.5h1M150 37.5h1M154 37.5h1M162 37.5h1M30 38.5h1M33 38.5h1M44 38.5h1M48 38.5h1M57 38.5h1M67 38.5h1M77 38.5h1M81 38.5h2M87 38.5h1M93 38.5h1M103 38.5h1M113 38.5h2M130 38.5h1M145 38.5h1M150 38.5h1M16 39.5h1M46 39.5h1M51 39.5h1M62 39.5h1M82 39.5h2M90 39.5h2M98 39.5h1M111 39.5h1M117 39.5h2M142 39.5h1M11 40.5h1M73 40.5h2M101 40.5h1M131 40.5h1M162 40.5h1M167 40.5h1M15 41.5h1M27 41.5h2M33 41.5h1M51 41.5h1M54 41.5h1M67 41.5h1M69 41.5h1M76 41.5h2M91 41.5h1M95 41.5h1M113 41.5h1M130 41.5h1M145 41.5h1M160 41.5h2M168 41.5h1M7 42.5h1M9 42.5h1M13 42.5h2M18 42.5h1M20 42.5h2M28 42.5h1M35 42.5h1M49 42.5h1M51 42.5h1M74 42.5h1M76 42.5h1M81 42.5h1M97 42.5h1M107 42.5h1M109 42.5h1M117 42.5h1M149 42.5h1M157 42.5h1M166 42.5h1M14 43.5h1M24 43.5h1M27 43.5h1M30 43.5h1M36 43.5h1M44 43.5h1M53 43.5h1M57 43.5h1M66 43.5h2M90 43.5h1M95 43.5h1M113 43.5h1M122 43.5h1M133 43.5h1M136 43.5h1M140 43.5h1M149 43.5h1M167 43.5h1M11 44.5h1M23 44.5h1M28 44.5h1M37 44.5h1M43 44.5h1M59 44.5h1M62 44.5h1M70 44.5h1M80 44.5h1M83 44.5h1M109 44.5h1M134 44.5h1M151 44.5h1M160 44.5h2M167 44.5h1M170 44.5h1M20 45.5h1M35 45.5h1M41 45.5h1M52 45.5h1M61 45.5h1M63 45.5h1M65 45.5h1M88 45.5h1M91 45.5h1M93 45.5h1M96 45.5h1M119 45.5h1M132 45.5h1M152 45.5h1M32 46.5h1M38 46.5h1M46 46.5h1M83 46.5h1M95 46.5h1M101 46.5h1M110 46.5h1M116 46.5h1M122 46.5h1M126 46.5h1M128 46.5h1M133 46.5h1M143 46.5h1M7 47.5h1M26 47.5h2M49 47.5h1M51 47.5h2M70 47.5h1M78 47.5h1M80 47.5h1M94 47.5h1M98 47.5h1M111 47.5h2M116 47.5h1M122 47.5h2M149 47.5h1M151 47.5h1M154 47.5h1M164 47.5h1M167 47.5h1M169 47.5h1M3 48.5h1M8 48.5h1M11 48.5h1M20 48.5h1M22 48.5h1M34 48.5h1M40 48.5h1M49 48.5h1M57 48.5h1M69 48.5h1M79 48.5h1M86 48.5h1M98 48.5h1M109 48.5h2M130 48.5h1M132 48.5h2M143 48.5h1M145 48.5h1M149 48.5h2M153 48.5h1M166 48.5h1M30 49.5h1M32 49.5h1M45 49.5h1M51 49.5h1M61 49.5h1M63 49.5h1M66 49.5h2M71 49.5h1M73 49.5h2M76 49.5h1M84 49.5h2M88 49.5h1M101 49.5h1M104 49.5h1M118 49.5h1M123 49.5h2M137 49.5h1M139 49.5h1M151 49.5h2M19 50.5h1M28 50.5h2M54 50.5h3M68 50.5h1M80 50.5h1M84 50.5h1M100 50.5h1M104 50.5h1M108 50.5h1M117 50.5h1M140 50.5h1M156 50.5h1M163 50.5h1M17 51.5h1M27 51.5h1M31 51.5h3M46 51.5h1M49 51.5h1M65 51.5h1M82 51.5h1M96 51.5h1M98 51.5h1M116 51.5h1M126 51.5h1M133 51.5h1M142 51.5h1M157 51.5h1M164 51.5h1M3 52.5h1M15 52.5h1M18 52.5h1M35 52.5h1M43 52.5h1M60 52.5h1M71 52.5h1M76 52.5h1M90 52.5h1M99 52.5h1M109 52.5h1M123 52.5h1M129 52.5h1M157 52.5h1M160 52.5h1M13 53.5h1M26 53.5h1M33 53.5h1M101 53.5h1M113 53.5h1M116 53.5h1M136 53.5h1M142 53.5h1M166 53.5h1M14 54.5h1M20 54.5h1M23 54.5h1M41 54.5h1M44 54.5h1M54 54.5h1M67 54.5h1M78 54.5h1M100 54.5h1M103 54.5h1M105 54.5h1M117 54.5h1M120 54.5h1M124 54.5h1M131 54.5h1M136 54.5h1M139 54.5h2M147 54.5h1M154 54.5h1M7 55.5h1M16 55.5h1M21 55.5h1M48 55.5h1M61 55.5h1M82 55.5h2M96 55.5h1M98 55.5h1M102 55.5h1M106 55.5h1M109 55.5h1M129 55.5h1M146 55.5h1M151 55.5h1M155 55.5h1M161 55.5h1M168 55.5h1M7 56.5h1M12 56.5h1M14 56.5h1M49 56.5h1M87 56.5h1M89 56.5h1M108 56.5h1M125 56.5h1M138 56.5h1M150 56.5h1M158 56.5h1M160 56.5h2M163 56.5h1M19 57.5h1M45 57.5h1M60 57.5h1M64 57.5h2M75 57.5h1M83 57.5h1M94 57.5h1M116 57.5h1M124 57.5h1M128 57.5h1M149 57.5h1M156 57.5h1M170 57.5h1M32 58.5h1M44 58.5h1M62 58.5h1M64 58.5h1M70 58.5h1M81 58.5h1M91 58.5h2M104 58.5h1M110 58.5h1M113 58.5h1M117 58.5h1M120 58.5h1M123 58.5h1M138 58.5h1M140 58.5h1M143 58.5h1M145 58.5h1M161 58.5h1M168 58.5h1M1 59.5h1M24 59.5h1M31 59.5h1M49 59.5h1M53 59.5h2M71 59.5h2M85 59.5h1M97 59.5h1M112 59.5h1M124 59.5h1M135 59.5h1M139 59.5h1M145 59.5h1M147 59.5h1M150 59.5h2M167 59.5h1M6 60.5h1M11 60.5h1M33 60.5h1M40 60.5h1M66 60.5h1M78 60.5h1M80 60.5h1M86 60.5h2M92 60.5h1M102 60.5h1M109 60.5h1M112 60.5h1M145 60.5h1M149 60.5h1M164 60.5h1"/><path stroke="#9f0000" d="M20 0.5h1M23 0.5h1M30 0.5h1M32 0.5h1M91 0.5h1M104 0.5h1M162 0.5h1M11 1.5h2M15 1.5h1M23 1.5h1M27 1.5h1M40 1.5h1M42 1.5h1M47 1.5h1M53 1.5h2M61 1.5h2M65 1.5h1M68 1.5h1M75 1.5h1M84 1.5h1M89 1.5h1M91 1.5h1M97 1.5h1M100 1.5h1M109 1.5h2M113 1.5h1M116 1.5h1M132 1.5h1M138 1.5h1M147 1.5h1M154 1.5h1M167 1.5h1M2 2.5h1M7 2.5h1M9 2.5h1M12 2.5h1M15 2.5h1M28 2.5h2M34 2.5h1M43 2.5h1M56 2.5h1M61 2.5h1M66 2.5h1M70 2.5h1M80 2.5h2M83 2.5h1M89 2.5h2M93 2.5h1M101 2.5h1M105 2.5h1M108 2.5h2M111 2.5h1M116 2.5h1M119 2.5h1M129 2.5h1M148 2.5h1M153 2.5h2M3 3.5h1M6 3.5h1M10 3.5h1M25 3.5h1M27 3.5h1M29 3.5h1M34 3.5h1M37 3.5h1M40 3.5h1M43 3.5h1M52 3.5h2M55 3.5h1M57 3.5h1M70 3.5h1M75 3.5h1M77 3.5h3M81 3.5h3M86 3.5h1M91 3.5h2M97 3.5h1M103 3.5h1M106 3.5h1M113 3.5h1M119 3.5h1M127 3.5h1M132 3.5h1M143 3.5h1M167 3.5h1M6 4.5h1M15 4.5h1M21 4.5h1M29 4.5h1M34 4.5h1M37 4.5h2M41 4.5h1M50 4.5h1M54 4.5h2M57 4.5h2M60 4.5h1M62 4.5h1M65 4.5h1M69 4.5h1M86 4.5h1M89 4.5h1M93 4.5h1M97 4.5h1M109 4.5h1M113 4.5h2M127 4.5h1M141 4.5h1M151 4.5h1M161 4.5h1M6 5.5h1M9 5.5h1M12 5.5h1M15 5.5h2M24 5.5h1M33 5.5h1M50 5.5h1M55 5.5h1M62 5.5h1M67 5.5h1M71 5.5h1M76 5.5h1M90 5.5h1M95 5.5h1M105 5.5h1M110 5.5h1M116 5.5h1M122 5.5h1M146 5.5h1M153 5.5h1M162 5.5h1M164 5.5h2M170 5.5h1M0 6.5h1M17 6.5h1M27 6.5h1M35 6.5h1M38 6.5h1M41 6.5h1M56 6.5h1M67 6.5h1M80 6.5h1M82 6.5h1M86 6.5h1M100 6.5h1M106 6.5h1M109 6.5h1M111 6.5h1M119 6.5h1M122 6.5h1M125 6.5h1M128 6.5h2M136 6.5h1M148 6.5h1M161 6.5h1M163 6.5h1M168 6.5h1M10 7.5h1M17 7.5h1M21 7.5h1M25 7.5h1M44 7.5h1M49 7.5h3M53 7.5h1M61 7.5h1M67 7.5h1M81 7.5h1M85 7.5h1M91 7.5h1M97 7.5h1M102 7.5h1M105 7.5h1M110 7.5h1M113 7.5h2M118 7.5h1M121 7.5h1M127 7.5h1M131 7.5h1M136 7.5h1M156 7.5h2M161 7.5h1M164 7.5h1M168 7.5h1M170 7.5h1M22 8.5h1M164 8.5h1M162 9.5h1M34 10.5h1M44 11.5h1M118 12.5h1M23 13.5h1M103 13.5h1M125 13.5h1M134 13.5h1M67 14.5h1M73 14.5h1M23 16.5h1M119 16.5h1M148 16.5h1M15 17.5h1M34 17.5h1M91 17.5h1M135 17.5h1M158 17.5h1M89 18.5h1M122 18.5h1M148 18.5h1M14 19.5h1M25 19.5h1M41 19.5h1M44 19.5h1M52 19.5h1M108 19.5h2M113 19.5h1M131 19.5h1M161 19.5h1M168 19.5h1M34 20.5h1M50 20.5h1M62 20.5h1M65 20.5h1M70 20.5h1M73 20.5h1M103 20.5h1M111 20.5h1M122 20.5h1M127 20.5h1M131 20.5h1M12 21.5h1M52 21.5h1M95 21.5h1M111 21.5h1M121 21.5h1M134 21.5h1M161 21.5h1M37 22.5h1M44 22.5h1M93 22.5h1M103 22.5h1M113 22.5h1M119 22.5h1M134 22.5h1M9 23.5h2M44 23.5h1M49 23.5h1M66 23.5h1M83 23.5h1M89 23.5h1M46 24.5h1M58 24.5h1M74 24.5h1M103 24.5h1M110 24.5h1M148 24.5h1M161 24.5h1M58 25.5h1M73 25.5h1M118 25.5h1M122 25.5h1M131 25.5h1M162 25.5h1M44 26.5h1M67 26.5h1M76 26.5h1M103 26.5h1M162 26.5h1M41 27.5h1M65 27.5h1M74 27.5h1M88 27.5h1M103 27.5h1M49 28.5h1M74 28.5h1M83 28.5h1M88 28.5h1M103 28.5h1M118 28.5h1M146 28.5h1M148 28.5h1M40 29.5h1M44 29.5h1M49 29.5h1M67 29.5h1M93 29.5h1M103 29.5h1M158 29.5h1M167 29.5h1M44 30.5h1M67 30.5h1M79 30.5h1M91 30.5h1M107 30.5h1M6 31.5h1M57 31.5h1M74 31.5h2M88 31.5h1M94 31.5h1M103 31.5h1M158 31.5h1M3 32.5h2M10 32.5h1M25 32.5h1M95 32.5h1M110 32.5h1M63 33.5h1M84 33.5h1M96 33.5h1M113 33.5h1M143 33.5h1M158 33.5h1M166 33.5h1M111 46.5h1M14 50.5h1M31 50.5h1M10 51.5h1M79 52.5h1M52 53.5h1M140 56.5h1M88 59.5h1"/><path stroke="#bf0000" d="M21 0.5h1M37 0.5h1M40 0.5h1M70 0.5h1M85 0.5h1M122 0.5h1M10 1.5h1M33 1.5h1M49 1.5h1M55 1.5h1M58 1.5h1M70 1.5h1M95 1.5h1M102 1.5h1M118 1.5h1M136 1.5h1M142 1.5h1M148 1.5h1M161 1.5h1M44 2.5h1M55 2.5h1M67 2.5h1M74 2.5h1M79 2.5h1M82 2.5h1M88 2.5h1M103 2.5h1M106 2.5h2M110 2.5h1M120 2.5h1M125 2.5h1M131 2.5h1M152 2.5h1M155 2.5h1M158 2.5h1M167 2.5h1M23 3.5h1M61 3.5h2M84 3.5h1M93 3.5h2M140 3.5h1M144 3.5h1M148 3.5h1M158 3.5h1M52 4.5h1M75 4.5h1M101 4.5h1M106 4.5h1M129 4.5h1M131 4.5h1M7 5.5h1M34 5.5h1M43 5.5h1M46 5.5h1M52 5.5h1M58 5.5h1M72 5.5h1M89 5.5h1M111 5.5h1M118 5.5h1M130 5.5h1M134 5.5h1M140 5.5h1M167 5.5h1M10 6.5h1M24 6.5h1M50 6.5h1M57 6.5h1M66 6.5h1M79 6.5h1M88 6.5h3M97 6.5h1M103 6.5h1M107 6.5h1M118 6.5h1M134 6.5h1M0 7.5h1M12 7.5h1M29 7.5h1M40 7.5h1M46 7.5h1M57 7.5h1M79 7.5h1M89 7.5h1M100 7.5h1M158 7.5h1M162 7.5h1M167 7.5h1M32 8.5h1M135 8.5h1M110 14.5h1M6 19.5h1M10 19.5h2M15 19.5h1M140 19.5h1M80 20.5h1M116 20.5h1M124 20.5h1M49 21.5h1M70 21.5h1M119 29.5h1M5 32.5h1M59 32.5h1M80 32.5h1M83 32.5h1M85 32.5h1M129 32.5h1M164 32.5h1M58 33.5h1M69 33.5h1"/><path stroke="#300000" d="M22 0.5h1M71 0.5h1M98 0.5h2M112 0.5h1M137 0.5h1M141 0.5h1M143 0.5h1M152 0.5h1M159 0.5h2M26 2.5h1M26 3.5h1M3 4.5h1M126 4.5h1M5 7.5h1M33 8.5h1M38 8.5h1M60 8.5h1M62 8.5h2M73 8.5h1M85 8.5h1M107 8.5h2M117 8.5h1M122 8.5h1M126 8.5h1M156 8.5h1M5 9.5h1M7 9.5h1M13 9.5h1M20 9.5h2M25 9.5h1M28 9.5h1M36 9.5h1M44 9.5h1M47 9.5h1M73 9.5h1M80 9.5h1M84 9.5h2M88 9.5h2M96 9.5h1M99 9.5h1M102 9.5h1M111 9.5h1M114 9.5h1M117 9.5h1M121 9.5h2M124 9.5h1M129 9.5h1M137 9.5h1M151 9.5h1M163 9.5h1M169 9.5h1M17 10.5h1M24 10.5h2M29 10.5h1M33 10.5h1M50 10.5h1M56 10.5h1M69 10.5h1M72 10.5h1M76 10.5h1M83 10.5h1M86 10.5h1M89 10.5h1M121 10.5h1M123 10.5h1M128 10.5h1M130 10.5h1M133 10.5h1M157 10.5h1M160 10.5h2M11 11.5h1M14 11.5h2M27 11.5h1M36 11.5h1M40 11.5h1M55 11.5h1M63 11.5h1M68 11.5h1M72 11.5h1M80 11.5h1M94 11.5h1M98 11.5h2M109 11.5h1M111 11.5h1M113 11.5h2M120 11.5h1M124 11.5h1M134 11.5h2M142 11.5h1M148 11.5h1M157 11.5h1M14 12.5h1M40 12.5h1M59 12.5h3M68 12.5h1M71 12.5h1M76 12.5h1M78 12.5h1M80 12.5h1M83 12.5h1M85 12.5h1M87 12.5h1M101 12.5h1M104 12.5h2M109 12.5h1M112 12.5h1M117 12.5h1M121 12.5h1M127 12.5h1M136 12.5h1M138 12.5h2M147 12.5h2M154 12.5h1M160 12.5h1M165 12.5h2M12 13.5h2M18 13.5h1M21 13.5h1M29 13.5h1M33 13.5h1M35 13.5h1M37 13.5h2M51 13.5h2M54 13.5h1M58 13.5h1M72 13.5h1M79 13.5h3M83 13.5h1M85 13.5h1M101 13.5h1M110 13.5h1M112 13.5h1M114 13.5h1M117 13.5h1M126 13.5h1M136 13.5h1M141 13.5h1M144 13.5h1M149 13.5h1M155 13.5h1M157 13.5h1M38 14.5h1M45 14.5h1M50 14.5h2M53 14.5h1M87 14.5h1M95 14.5h1M106 14.5h1M113 14.5h1M120 14.5h1M123 14.5h2M129 14.5h1M135 14.5h2M143 14.5h1M162 14.5h1M165 14.5h1M170 14.5h1M16 15.5h1M21 15.5h4M27 15.5h1M47 15.5h1M55 15.5h1M59 15.5h1M61 15.5h1M69 15.5h1M73 15.5h1M75 15.5h1M80 15.5h1M82 15.5h1M84 15.5h1M87 15.5h1M92 15.5h1M97 15.5h1M106 15.5h1M112 15.5h2M117 15.5h1M120 15.5h1M150 15.5h2M154 15.5h1M166 15.5h1M169 15.5h2M16 16.5h1M31 16.5h2M50 16.5h1M70 16.5h2M75 16.5h1M83 16.5h3M111 16.5h2M115 16.5h1M128 16.5h1M130 16.5h1M136 16.5h1M141 16.5h1M153 16.5h1M163 16.5h1M170 16.5h1M10 17.5h1M18 17.5h1M22 17.5h1M25 17.5h1M51 17.5h1M60 17.5h2M76 17.5h1M87 17.5h1M102 17.5h1M104 17.5h1M120 17.5h1M144 17.5h1M151 17.5h1M154 17.5h2M163 17.5h1M7 18.5h1M9 18.5h1M12 18.5h1M16 18.5h1M18 18.5h2M23 18.5h1M26 18.5h1M28 18.5h1M30 18.5h1M38 18.5h1M85 18.5h1M115 18.5h1M123 18.5h1M133 18.5h1M139 18.5h1M147 18.5h1M150 18.5h1M163 18.5h1M56 19.5h1M68 19.5h1M117 19.5h1M124 19.5h2M6 20.5h2M13 20.5h1M23 20.5h1M37 20.5h1M85 20.5h2M109 20.5h2M119 20.5h2M126 20.5h1M128 20.5h1M134 20.5h1M139 20.5h1M143 20.5h1M149 20.5h1M152 20.5h1M160 20.5h1M3 21.5h1M20 21.5h1M26 21.5h2M41 21.5h1M48 21.5h1M126 21.5h1M152 21.5h1M2 22.5h1M23 22.5h1M27 22.5h1M30 22.5h1M63 22.5h1M71 22.5h1M87 22.5h1M96 22.5h1M98 22.5h1M117 22.5h1M126 22.5h1M150 22.5h1M156 22.5h1M36 23.5h1M52 23.5h1M68 23.5h1M92 23.5h1M96 23.5h1M99 23.5h1M109 23.5h1M119 23.5h1M128 23.5h1M145 23.5h1M163 23.5h1M170 23.5h1M13 24.5h1M20 24.5h1M26 24.5h1M63 24.5h1M68 24.5h2M115 24.5h1M117 24.5h1M124 24.5h1M151 24.5h1M160 24.5h1M1 25.5h1M8 25.5h1M16 25.5h1M21 25.5h1M26 25.5h1M31 25.5h2M41 25.5h1M70 25.5h1M76 25.5h1M96 25.5h1M99 25.5h1M108 25.5h1M133 25.5h1M1 26.5h1M10 26.5h1M13 26.5h1M16 26.5h1M48 26.5h1M61 26.5h1M69 26.5h1M101 26.5h1M116 26.5h2M123 26.5h1M133 26.5h1M153 26.5h1M156 26.5h1M8 27.5h2M16 27.5h1M26 27.5h1M32 27.5h1M34 27.5h1M45 27.5h1M99 27.5h1M122 27.5h1M128 27.5h1M156 27.5h1M163 27.5h1M167 27.5h1M16 28.5h1M30 28.5h1M45 28.5h1M99 28.5h1M123 28.5h1M150 28.5h1M22 29.5h1M26 29.5h1M39 29.5h1M51 29.5h1M63 29.5h1M65 29.5h1M85 29.5h1M114 29.5h1M123 29.5h1M128 29.5h1M16 30.5h1M18 30.5h1M20 30.5h1M22 30.5h1M27 30.5h1M35 30.5h1M38 30.5h1M63 30.5h1M77 30.5h1M85 30.5h1M87 30.5h1M100 30.5h1M113 30.5h1M123 30.5h2M126 30.5h1M128 30.5h1M145 30.5h1M153 30.5h1M157 30.5h1M170 30.5h1M3 31.5h1M13 31.5h1M21 31.5h1M34 31.5h1M48 31.5h1M61 31.5h1M72 31.5h1M81 31.5h1M85 31.5h1M87 31.5h1M104 31.5h1M126 31.5h1M128 31.5h1M136 31.5h1M139 31.5h1M166 31.5h1M8 32.5h1M23 32.5h1M33 32.5h1M36 32.5h1M81 32.5h1M96 32.5h1M98 32.5h1M2 33.5h1M16 33.5h2M35 33.5h1M41 33.5h1M53 33.5h2M56 33.5h1M73 33.5h1M75 33.5h1M101 33.5h1M128 33.5h1M144 33.5h1M152 33.5h1M155 33.5h2M163 33.5h1M168 33.5h1M110 34.5h1M169 34.5h1M86 35.5h1M12 36.5h1M19 36.5h1M39 36.5h1M104 36.5h1M118 36.5h1M121 36.5h1M148 36.5h1M19 37.5h1M22 37.5h1M46 37.5h1M66 37.5h1M84 37.5h2M119 37.5h1M125 37.5h1M149 37.5h1M151 37.5h1M65 38.5h1M98 38.5h1M104 38.5h1M107 38.5h1M149 38.5h1M158 38.5h1M169 38.5h1M37 39.5h1M41 39.5h1M67 39.5h1M76 39.5h1M81 39.5h1M107 39.5h1M125 39.5h1M137 39.5h1M154 39.5h1M25 41.5h1M31 41.5h1M92 41.5h3M133 41.5h1M141 41.5h1M148 41.5h1M31 42.5h1M47 42.5h1M55 42.5h1M69 42.5h1M75 42.5h1M80 42.5h1M88 42.5h1M94 42.5h1M104 42.5h1M108 42.5h1M114 42.5h1M116 42.5h1M120 42.5h1M129 42.5h1M143 42.5h1M152 42.5h1M156 42.5h1M161 42.5h1M167 42.5h1M169 42.5h1M35 43.5h1M87 43.5h1M112 43.5h1M124 43.5h1M142 43.5h1M169 43.5h1M24 44.5h1M82 44.5h1M103 44.5h1M133 44.5h1M137 44.5h1M147 44.5h1M3 45.5h1M5 45.5h1M8 45.5h1M17 45.5h1M28 45.5h1M31 45.5h1M37 45.5h2M82 45.5h1M84 45.5h1M99 45.5h1M101 45.5h2M106 45.5h1M109 45.5h1M111 45.5h2M120 45.5h1M127 45.5h1M149 45.5h1M153 45.5h1M168 45.5h1M0 46.5h1M9 46.5h1M29 46.5h1M40 46.5h1M47 46.5h1M53 46.5h1M58 46.5h1M60 46.5h1M62 46.5h1M69 46.5h1M72 46.5h1M74 46.5h1M78 46.5h2M86 46.5h1M94 46.5h1M96 46.5h1M107 46.5h1M114 46.5h1M118 46.5h1M120 46.5h1M138 46.5h1M144 46.5h1M153 46.5h2M163 46.5h1M170 46.5h1M0 47.5h1M13 47.5h1M16 47.5h1M24 47.5h1M28 47.5h1M34 47.5h1M37 47.5h1M39 47.5h4M66 47.5h1M82 47.5h1M86 47.5h1M129 47.5h1M137 47.5h1M139 47.5h1M141 47.5h1M148 47.5h1M150 47.5h1M157 47.5h1M165 47.5h1M14 48.5h1M37 48.5h2M50 48.5h1M54 48.5h2M63 48.5h1M67 48.5h1M74 48.5h2M80 48.5h1M82 48.5h2M94 48.5h1M97 48.5h1M105 48.5h1M119 48.5h1M129 48.5h1M131 48.5h1M156 48.5h1M161 48.5h1M165 48.5h1M168 48.5h1M20 49.5h3M27 49.5h2M47 49.5h1M55 49.5h1M81 49.5h1M90 49.5h1M105 49.5h1M110 49.5h2M115 49.5h2M127 49.5h1M129 49.5h1M140 49.5h1M143 49.5h1M160 49.5h1M166 49.5h1M22 50.5h1M30 50.5h1M33 50.5h1M43 50.5h1M49 50.5h1M52 50.5h1M70 50.5h1M76 50.5h1M86 50.5h1M95 50.5h1M102 50.5h1M111 50.5h1M115 50.5h1M127 50.5h1M132 50.5h1M135 50.5h1M137 50.5h1M148 50.5h1M154 50.5h1M161 50.5h1M0 51.5h1M23 51.5h1M28 51.5h1M35 51.5h3M42 51.5h2M54 51.5h3M68 51.5h1M70 51.5h1M72 51.5h1M83 51.5h1M91 51.5h4M100 51.5h1M103 51.5h1M110 51.5h1M113 51.5h1M121 51.5h1M132 51.5h1M140 51.5h2M153 51.5h1M156 51.5h1M161 51.5h2M168 51.5h1M170 51.5h1M5 52.5h1M8 52.5h1M24 52.5h2M27 52.5h1M37 52.5h1M39 52.5h1M42 52.5h1M46 52.5h1M56 52.5h1M65 52.5h3M70 52.5h1M72 52.5h1M93 52.5h1M96 52.5h1M104 52.5h2M111 52.5h3M122 52.5h1M130 52.5h1M5 53.5h2M8 53.5h1M21 53.5h1M30 53.5h2M42 53.5h2M45 53.5h1M47 53.5h1M56 53.5h1M59 53.5h2M65 53.5h1M71 53.5h1M76 53.5h1M86 53.5h1M90 53.5h3M94 53.5h1M97 53.5h1M109 53.5h2M114 53.5h1M127 53.5h2M130 53.5h1M135 53.5h1M139 53.5h1M143 53.5h1M145 53.5h1M151 53.5h1M154 53.5h1M157 53.5h1M12 54.5h1M17 54.5h1M55 54.5h1M70 54.5h1M90 54.5h1M95 54.5h1M108 54.5h1M113 54.5h1M126 54.5h1M135 54.5h1M156 54.5h2M12 55.5h1M42 55.5h1M55 55.5h1M63 55.5h1M79 55.5h1M84 55.5h1M92 55.5h1M94 55.5h1M111 55.5h1M118 55.5h3M122 55.5h1M130 55.5h1M138 55.5h1M140 55.5h1M165 55.5h1M18 56.5h1M30 56.5h1M35 56.5h1M59 56.5h1M68 56.5h1M79 56.5h1M92 56.5h1M104 56.5h1M107 56.5h1M114 56.5h1M117 56.5h2M123 56.5h1M136 56.5h1M143 56.5h1M0 57.5h1M15 57.5h1M21 57.5h1M47 57.5h1M55 57.5h2M58 57.5h1M86 57.5h1M90 57.5h1M96 57.5h2M105 57.5h2M117 57.5h1M127 57.5h1M152 57.5h2M161 57.5h1M18 58.5h1M37 58.5h1M77 58.5h1M109 58.5h1M136 58.5h1M156 58.5h1M158 58.5h1M29 59.5h1M34 59.5h1M36 59.5h1M40 59.5h1M59 59.5h1M62 59.5h1M86 59.5h1M102 59.5h1M109 59.5h1M120 59.5h1M138 59.5h1M142 59.5h1M163 59.5h1M168 59.5h1M19 60.5h1M29 60.5h1M36 60.5h1M42 60.5h1M53 60.5h1M59 60.5h1M65 60.5h1M71 60.5h1M81 60.5h1M96 60.5h1M129 60.5h1M140 60.5h1M167 60.5h1M169 60.5h1"/><path stroke="#ff0000" d="M28 0.5h1M33 0.5h2M63 0.5h1M101 0.5h2M116 0.5h1M120 0.5h1M129 0.5h1M134 0.5h1M151 0.5h1M158 0.5h1M168 0.5h1M0 1.5h1M7 8.5h1M49 8.5h1M56 32.5h1M137 32.5h1M144 32.5h1"/><path stroke="#002000" d="M29 0.5h1M38 0.5h1M83 0.5h1M97 0.5h1M138 0.5h1M164 0.5h1M19 8.5h1M101 8.5h1M116 8.5h1M128 8.5h1M154 8.5h1M166 8.5h1M19 9.5h1M10 10.5h1M4 11.5h1M126 11.5h1M10 14.5h1M18 15.5h1M156 15.5h1M3 16.5h1M5 16.5h1M10 16.5h1M5 17.5h1M20 17.5h1M5 18.5h1M18 20.5h1M157 20.5h1M9 29.5h1M2 31.5h1M15 32.5h1M149 32.5h1M19 33.5h1M37 33.5h1M42 33.5h1M71 33.5h1M90 33.5h1M112 33.5h1M13 34.5h1M24 34.5h1M33 34.5h1M35 34.5h1M46 34.5h1M56 34.5h1M65 34.5h1M68 34.5h1M92 34.5h1M107 34.5h1M112 34.5h1M117 34.5h1M124 34.5h1M129 34.5h1M135 34.5h1M153 34.5h1M166 34.5h1M8 35.5h1M42 35.5h1M44 35.5h1M53 35.5h1M62 35.5h1M66 35.5h1M73 35.5h1M89 35.5h1M101 35.5h1M141 35.5h1M146 35.5h1M167 35.5h2M11 36.5h1M21 36.5h1M23 36.5h1M29 36.5h1M58 36.5h1M69 36.5h1M74 36.5h2M87 36.5h1M99 36.5h1M103 36.5h1M112 36.5h1M114 36.5h1M126 36.5h1M129 36.5h1M131 36.5h1M152 36.5h1M167 36.5h1M34 37.5h1M36 37.5h1M43 37.5h1M47 37.5h1M49 37.5h1M78 37.5h1M82 37.5h1M88 37.5h1M90 37.5h1M96 37.5h1M103 37.5h2M112 37.5h1M120 37.5h1M122 37.5h1M137 37.5h1M144 37.5h1M156 37.5h1M158 37.5h1M161 37.5h1M170 37.5h1M12 38.5h1M15 38.5h1M18 38.5h1M23 38.5h1M29 38.5h1M40 38.5h1M42 38.5h1M61 38.5h1M70 38.5h1M75 38.5h1M79 38.5h1M97 38.5h1M100 38.5h2M123 38.5h1M133 38.5h1M136 38.5h1M138 38.5h1M153 38.5h1M163 38.5h1M7 39.5h1M11 39.5h2M27 39.5h1M34 39.5h1M40 39.5h1M43 39.5h2M53 39.5h1M57 39.5h1M69 39.5h1M77 39.5h3M87 39.5h1M96 39.5h1M103 39.5h1M110 39.5h1M116 39.5h1M132 39.5h1M136 39.5h1M139 39.5h1M141 39.5h1M150 39.5h1M166 39.5h1M17 40.5h3M50 40.5h1M79 40.5h2M88 40.5h1M91 40.5h1M95 40.5h1M108 40.5h1M116 40.5h1M124 40.5h1M126 40.5h1M128 40.5h1M157 40.5h1M21 41.5h2M26 41.5h1M35 41.5h1M38 41.5h1M49 41.5h2M57 41.5h1M72 41.5h1M97 41.5h1M121 41.5h1M126 41.5h1M128 41.5h1M140 41.5h1M142 41.5h1M151 41.5h2M155 41.5h1M157 41.5h1M1 42.5h1M4 42.5h1M10 42.5h1M12 42.5h1M17 42.5h1M39 42.5h1M50 42.5h1M57 42.5h1M71 42.5h1M79 42.5h1M93 42.5h1M101 42.5h1M105 42.5h1M113 42.5h1M126 42.5h1M128 42.5h1M144 42.5h1M160 42.5h1M163 42.5h1M168 42.5h1M7 43.5h1M11 43.5h1M13 43.5h1M17 43.5h1M25 43.5h1M28 43.5h1M38 43.5h1M41 43.5h1M43 43.5h1M50 43.5h1M69 43.5h1M76 43.5h2M83 43.5h1M93 43.5h1M105 43.5h1M107 43.5h1M110 43.5h1M119 43.5h1M127 43.5h1M141 43.5h1M146 43.5h1M151 43.5h1M155 43.5h1M0 44.5h1M15 44.5h1M31 44.5h1M46 44.5h1M48 44.5h1M81 44.5h1M88 44.5h1M94 44.5h2M102 44.5h1M106 44.5h1M115 44.5h1M121 44.5h1M124 44.5h1M162 44.5h1M18 45.5h1M25 45.5h1M71 45.5h1M139 45.5h1M143 45.5h1M146 45.5h1M165 45.5h1M16 46.5h1M145 46.5h1M8 47.5h1M10 47.5h1M64 47.5h2M68 47.5h1M79 47.5h1M89 47.5h1M104 47.5h1M106 47.5h1M114 47.5h1M126 47.5h1M136 47.5h1M0 48.5h1M2 48.5h1M5 48.5h1M10 48.5h1M26 48.5h1M42 48.5h1M44 48.5h3M60 48.5h1M78 48.5h1M89 48.5h1M95 48.5h1M128 48.5h1M144 48.5h1M158 48.5h1M170 48.5h1M0 49.5h1M3 49.5h1M12 49.5h1M15 49.5h1M46 49.5h1M48 49.5h1M72 49.5h1M75 49.5h1M95 49.5h1M100 49.5h1M102 49.5h1M128 49.5h1M138 49.5h1M155 49.5h1M0 50.5h1M6 50.5h1M13 50.5h1M51 50.5h1M69 50.5h1M72 50.5h1M98 50.5h1M122 50.5h1M126 50.5h1M138 50.5h1M145 50.5h1M166 50.5h1M8 51.5h2M18 51.5h1M40 51.5h1M63 51.5h1M115 51.5h1M144 51.5h1M40 52.5h1M63 53.5h1M67 53.5h1M69 53.5h1M74 53.5h1M98 53.5h1M119 53.5h1M150 53.5h1M7 54.5h1M16 54.5h1M18 54.5h1M39 54.5h2M48 54.5h1M50 54.5h1M53 54.5h1M74 54.5h1M80 54.5h1M129 54.5h1M138 54.5h1M146 54.5h1M148 54.5h1M167 54.5h1M169 54.5h1M24 55.5h2M47 55.5h1M49 55.5h1M52 55.5h1M56 55.5h1M60 55.5h1M85 55.5h1M100 55.5h1M110 55.5h1M126 55.5h1M132 55.5h2M141 55.5h1M143 55.5h1M162 55.5h1M1 56.5h1M10 56.5h1M16 56.5h1M21 56.5h1M25 56.5h1M56 56.5h1M86 56.5h1M112 56.5h1M121 56.5h1M131 56.5h1M137 56.5h1M9 57.5h1M25 57.5h1M54 57.5h1M78 57.5h1M82 57.5h1M84 57.5h1M88 57.5h1M134 57.5h1M136 57.5h1M143 57.5h2M158 57.5h1M160 57.5h1M164 57.5h1M168 57.5h1M3 58.5h1M11 58.5h2M14 58.5h1M17 58.5h1M27 58.5h1M29 58.5h1M33 58.5h1M36 58.5h1M48 58.5h1M68 58.5h1M86 58.5h1M130 58.5h1M135 58.5h1M139 58.5h1M147 58.5h1M157 58.5h1M8 59.5h1M20 59.5h1M23 59.5h1M82 59.5h1M91 59.5h1M116 59.5h1M130 59.5h1M0 60.5h1M12 60.5h1M55 60.5h1M84 60.5h2M89 60.5h1M101 60.5h1M135 60.5h1M160 60.5h1"/><path stroke="#003000" d="M35 0.5h1M156 0.5h1M166 0.5h1M41 8.5h2M141 8.5h1M143 8.5h1M150 8.5h1M2 11.5h1M9 11.5h1M1 12.5h1M6 12.5h1M9 12.5h1M137 12.5h1M1 13.5h1M3 13.5h1M6 13.5h1M4 14.5h1M1 15.5h1M8 18.5h1M25 20.5h1M144 20.5h1M10 27.5h1M1 28.5h1M1 31.5h1M8 31.5h1M37 32.5h1M49 32.5h1M61 32.5h1M72 32.5h1M84 32.5h1M102 32.5h1M111 32.5h1M117 32.5h1M163 32.5h1M167 32.5h1M33 33.5h1M148 33.5h1M25 34.5h1M29 34.5h1M40 34.5h1M62 34.5h2M73 34.5h1M80 34.5h1M88 34.5h1M91 34.5h1M97 34.5h1M120 34.5h1M152 34.5h1M6 35.5h1M12 35.5h1M24 35.5h1M36 35.5h1M40 35.5h2M52 35.5h1M64 35.5h1M67 35.5h1M83 35.5h1M100 35.5h1M102 35.5h1M114 35.5h1M130 35.5h1M133 35.5h1M137 35.5h2M144 35.5h1M148 35.5h1M152 35.5h1M162 35.5h1M164 35.5h1M7 36.5h1M10 36.5h1M14 36.5h1M56 36.5h1M88 36.5h2M93 36.5h1M96 36.5h1M100 36.5h1M119 36.5h1M127 36.5h1M132 36.5h1M141 36.5h1M159 36.5h1M17 37.5h1M33 37.5h1M40 37.5h1M53 37.5h2M56 37.5h1M61 37.5h1M64 37.5h1M71 37.5h1M93 37.5h1M139 37.5h1M147 37.5h1M157 37.5h1M168 37.5h1M21 38.5h1M54 38.5h3M63 38.5h1M73 38.5h1M85 38.5h1M115 38.5h2M132 38.5h1M137 38.5h1M143 38.5h1M152 38.5h1M155 38.5h1M162 38.5h1M33 39.5h1M38 39.5h1M48 39.5h1M54 39.5h1M59 39.5h1M64 39.5h2M72 39.5h3M85 39.5h1M95 39.5h1M101 39.5h1M119 39.5h1M124 39.5h1M127 39.5h1M129 39.5h1M131 39.5h1M147 39.5h1M149 39.5h1M152 39.5h2M165 39.5h1M168 39.5h2M16 40.5h1M27 40.5h1M39 40.5h1M42 40.5h4M61 40.5h1M71 40.5h1M84 40.5h1M90 40.5h1M94 40.5h1M105 40.5h1M112 40.5h1M122 40.5h1M130 40.5h1M155 40.5h1M2 41.5h2M17 41.5h2M24 41.5h1M30 41.5h1M42 41.5h1M59 41.5h1M71 41.5h1M78 41.5h1M82 41.5h1M100 41.5h1M131 41.5h1M159 41.5h1M2 42.5h1M5 42.5h1M29 42.5h1M112 42.5h1M165 42.5h1M19 43.5h1M32 43.5h1M45 43.5h3M55 43.5h1M58 43.5h2M65 43.5h1M78 43.5h1M85 43.5h1M98 43.5h1M106 43.5h1M108 43.5h1M117 43.5h1M130 43.5h1M132 43.5h1M137 43.5h1M150 43.5h1M154 43.5h1M157 43.5h1M159 43.5h1M164 43.5h1M17 44.5h1M20 44.5h1M50 44.5h1M56 44.5h1M78 44.5h1M98 44.5h2M110 44.5h1M117 44.5h1M142 44.5h1M152 44.5h1M165 44.5h1M168 44.5h1M59 45.5h1M123 45.5h1M141 45.5h1M23 46.5h1M9 47.5h1M22 47.5h1M96 47.5h1M124 47.5h1M16 48.5h1M24 48.5h1M35 48.5h1M48 48.5h1M56 48.5h1M70 48.5h1M85 48.5h1M87 48.5h1M124 48.5h1M157 48.5h1M37 49.5h1M59 49.5h1M98 49.5h1M125 49.5h1M132 49.5h2M157 49.5h1M161 49.5h1M163 49.5h1M42 50.5h1M63 50.5h1M73 50.5h1M130 50.5h1M133 50.5h1M149 50.5h2M1 51.5h1M6 52.5h1M68 52.5h1M10 53.5h1M20 53.5h1M152 53.5h1M22 54.5h1M26 54.5h1M46 54.5h1M89 54.5h1M98 54.5h2M152 54.5h1M159 54.5h1M26 55.5h1M31 55.5h1M36 55.5h2M59 55.5h1M64 55.5h1M114 55.5h1M142 55.5h1M160 55.5h1M5 56.5h1M9 56.5h1M31 56.5h1M34 56.5h1M69 56.5h1M73 56.5h1M80 56.5h1M93 56.5h1M99 56.5h1M145 56.5h1M152 56.5h1M155 56.5h1M164 56.5h1M166 56.5h1M10 57.5h1M24 57.5h1M26 57.5h1M28 57.5h1M39 57.5h1M43 57.5h1M99 57.5h1M112 57.5h1M122 57.5h1M126 57.5h1M133 57.5h1M150 57.5h1M35 58.5h1M47 58.5h1M54 58.5h1M63 58.5h1M69 58.5h1M78 58.5h1M96 58.5h1M103 58.5h1M151 58.5h1M0 59.5h1M3 59.5h1M10 59.5h1M16 59.5h1M18 59.5h1M63 59.5h1M70 59.5h1M80 59.5h1M104 59.5h1M107 59.5h1M140 59.5h1M146 59.5h1M152 59.5h1M162 59.5h1M2 60.5h1M43 60.5h1M62 60.5h1M83 60.5h1M134 60.5h1"/><path stroke="#00af00" d="M42 0.5h1M8 10.5h1M5 11.5h1M142 32.5h2M160 32.5h1M168 32.5h1M0 34.5h1M18 34.5h1M61 34.5h1M94 34.5h1M114 34.5h1M131 34.5h1M155 34.5h1M51 35.5h1M85 35.5h1M128 35.5h1M156 35.5h1M9 36.5h1M3 37.5h1M8 37.5h1M2 40.5h2M15 40.5h1M65 40.5h1M97 40.5h1M80 43.5h1M1 44.5h1M4 44.5h2M96 44.5h1M4 56.5h1M8 56.5h1"/><path stroke="#700000" d="M46 0.5h1M49 0.5h1M67 0.5h1M75 0.5h1M82 0.5h1M86 0.5h1M88 0.5h2M92 0.5h1M131 0.5h1M154 0.5h1M1 1.5h1M3 1.5h2M24 1.5h3M29 1.5h2M35 1.5h1M45 1.5h1M56 1.5h1M64 1.5h1M85 1.5h1M115 1.5h1M120 1.5h1M143 1.5h1M150 1.5h1M157 1.5h1M160 1.5h1M163 1.5h1M166 1.5h1M170 1.5h1M4 2.5h1M16 2.5h1M20 2.5h2M30 2.5h1M32 2.5h1M71 2.5h2M87 2.5h1M95 2.5h2M121 2.5h1M123 2.5h1M139 2.5h1M157 2.5h1M160 2.5h1M170 2.5h1M5 3.5h1M16 3.5h1M68 3.5h1M71 3.5h2M85 3.5h1M104 3.5h1M109 3.5h1M128 3.5h1M139 3.5h1M152 3.5h1M165 3.5h1M16 4.5h1M18 4.5h1M31 4.5h1M33 4.5h1M36 4.5h1M39 4.5h1M51 4.5h1M53 4.5h1M68 4.5h1M76 4.5h1M87 4.5h1M104 4.5h1M108 4.5h1M112 4.5h1M115 4.5h1M119 4.5h1M122 4.5h2M128 4.5h1M130 4.5h1M133 4.5h1M144 4.5h1M152 4.5h1M156 4.5h2M167 4.5h2M4 5.5h1M22 5.5h1M27 5.5h1M32 5.5h1M48 5.5h1M53 5.5h1M63 5.5h1M73 5.5h1M87 5.5h1M99 5.5h1M101 5.5h1M104 5.5h1M107 5.5h1M113 5.5h1M124 5.5h1M126 5.5h1M128 5.5h1M133 5.5h1M138 5.5h2M156 5.5h1M1 6.5h1M4 6.5h1M16 6.5h1M39 6.5h1M42 6.5h1M59 6.5h1M92 6.5h1M94 6.5h1M108 6.5h1M117 6.5h1M145 6.5h1M149 6.5h2M153 6.5h1M165 6.5h1M169 6.5h2M4 7.5h1M27 7.5h1M34 7.5h1M42 7.5h1M45 7.5h1M47 7.5h1M56 7.5h1M68 7.5h1M76 7.5h3M84 7.5h1M94 7.5h1M99 7.5h1M101 7.5h1M109 7.5h1M112 7.5h1M115 7.5h1M130 7.5h1M132 7.5h1M141 7.5h1M150 7.5h1M155 7.5h1M1 8.5h1M3 8.5h1M26 8.5h1M53 8.5h1M88 8.5h1M98 8.5h1M109 8.5h1M129 8.5h1M149 8.5h1M167 8.5h1M0 9.5h1M9 9.5h1M46 9.5h1M49 9.5h1M56 9.5h1M66 9.5h2M70 9.5h1M75 9.5h1M97 9.5h1M104 9.5h1M136 9.5h1M146 9.5h1M152 9.5h1M157 9.5h1M11 10.5h2M39 10.5h1M60 10.5h1M74 10.5h1M81 10.5h2M91 10.5h1M105 10.5h2M131 10.5h1M140 10.5h2M159 10.5h1M168 10.5h1M25 11.5h1M35 11.5h1M49 11.5h2M66 11.5h1M74 11.5h1M87 11.5h1M102 11.5h1M130 11.5h1M159 11.5h1M162 11.5h1M24 12.5h1M31 12.5h1M41 12.5h2M55 12.5h1M58 12.5h1M75 12.5h1M103 12.5h1M107 12.5h1M114 12.5h1M131 12.5h2M43 13.5h1M60 13.5h1M63 13.5h1M66 13.5h2M90 13.5h1M95 13.5h1M100 13.5h1M121 13.5h1M129 13.5h1M131 13.5h1M170 13.5h1M15 14.5h1M17 14.5h1M32 14.5h1M34 14.5h1M43 14.5h1M62 14.5h1M66 14.5h1M70 14.5h1M74 14.5h2M83 14.5h1M89 14.5h1M93 14.5h1M111 14.5h1M125 14.5h1M134 14.5h1M32 15.5h1M52 15.5h2M60 15.5h1M72 15.5h1M79 15.5h1M100 15.5h1M102 15.5h1M107 15.5h2M110 15.5h1M114 15.5h1M118 15.5h1M121 15.5h1M125 15.5h1M127 15.5h1M139 15.5h2M155 15.5h1M33 16.5h2M36 16.5h1M41 16.5h1M55 16.5h1M58 16.5h1M62 16.5h1M68 16.5h1M93 16.5h1M95 16.5h1M102 16.5h1M107 16.5h1M127 16.5h1M129 16.5h1M134 16.5h2M156 16.5h1M158 16.5h1M165 16.5h1M23 17.5h1M28 17.5h1M47 17.5h1M50 17.5h1M65 17.5h1M70 17.5h1M74 17.5h1M77 17.5h1M81 17.5h1M83 17.5h1M93 17.5h1M98 17.5h1M105 17.5h1M108 17.5h4M113 17.5h1M121 17.5h1M129 17.5h1M131 17.5h1M136 17.5h1M148 17.5h2M152 17.5h1M15 18.5h1M25 18.5h1M29 18.5h1M33 18.5h1M41 18.5h1M44 18.5h2M47 18.5h1M52 18.5h2M62 18.5h1M66 18.5h2M75 18.5h2M91 18.5h1M103 18.5h1M108 18.5h1M112 18.5h3M118 18.5h1M129 18.5h1M132 18.5h1M144 18.5h1M167 18.5h1M2 19.5h1M21 19.5h1M23 19.5h1M29 19.5h1M31 19.5h1M39 19.5h2M42 19.5h2M54 19.5h1M63 19.5h1M66 19.5h1M79 19.5h4M86 19.5h1M89 19.5h1M93 19.5h1M96 19.5h1M100 19.5h3M105 19.5h1M121 19.5h1M129 19.5h1M132 19.5h1M134 19.5h1M141 19.5h1M151 19.5h1M156 19.5h2M169 19.5h1M41 20.5h1M44 20.5h1M47 20.5h1M51 20.5h2M57 20.5h2M61 20.5h1M78 20.5h1M89 20.5h1M94 20.5h1M107 20.5h1M115 20.5h1M117 20.5h1M121 20.5h1M123 20.5h1M125 20.5h1M156 20.5h1M159 20.5h1M161 20.5h1M168 20.5h1M1 21.5h1M9 21.5h1M15 21.5h1M31 21.5h1M34 21.5h1M38 21.5h1M43 21.5h1M50 21.5h1M56 21.5h1M62 21.5h2M81 21.5h1M94 21.5h1M98 21.5h1M100 21.5h2M105 21.5h1M107 21.5h1M122 21.5h2M132 21.5h1M137 21.5h1M141 21.5h1M145 21.5h1M148 21.5h1M156 21.5h1M166 21.5h1M7 22.5h1M10 22.5h1M21 22.5h1M25 22.5h1M33 22.5h1M38 22.5h1M50 22.5h1M55 22.5h1M59 22.5h1M75 22.5h1M78 22.5h1M82 22.5h1M86 22.5h1M89 22.5h2M92 22.5h1M94 22.5h2M106 22.5h1M109 22.5h1M111 22.5h1M116 22.5h1M121 22.5h2M124 22.5h2M137 22.5h1M140 22.5h2M148 22.5h1M153 22.5h2M159 22.5h1M163 22.5h1M3 23.5h1M6 23.5h1M12 23.5h1M14 23.5h1M24 23.5h2M41 23.5h1M50 23.5h2M55 23.5h1M57 23.5h1M59 23.5h1M81 23.5h2M100 23.5h1M103 23.5h2M114 23.5h1M127 23.5h1M137 23.5h1M144 23.5h1M150 23.5h1M160 23.5h1M162 23.5h1M164 23.5h1M167 23.5h1M0 24.5h1M9 24.5h1M14 24.5h1M23 24.5h1M25 24.5h1M28 24.5h1M35 24.5h1M44 24.5h1M53 24.5h1M55 24.5h1M65 24.5h1M80 24.5h1M84 24.5h1M90 24.5h1M95 24.5h1M104 24.5h1M113 24.5h1M125 24.5h1M129 24.5h1M135 24.5h1M137 24.5h2M146 24.5h1M150 24.5h1M153 24.5h1M162 24.5h1M167 24.5h3M46 25.5h3M50 25.5h1M66 25.5h1M75 25.5h1M81 25.5h1M89 25.5h1M95 25.5h1M97 25.5h1M100 25.5h1M109 25.5h3M119 25.5h2M136 25.5h2M146 25.5h2M155 25.5h1M159 25.5h1M165 25.5h1M167 25.5h1M2 26.5h1M5 26.5h1M8 26.5h2M21 26.5h1M27 26.5h1M31 26.5h1M36 26.5h1M41 26.5h1M47 26.5h1M56 26.5h1M60 26.5h1M63 26.5h1M66 26.5h1M68 26.5h1M75 26.5h1M80 26.5h2M88 26.5h1M90 26.5h1M108 26.5h2M113 26.5h1M122 26.5h1M131 26.5h1M141 26.5h1M148 26.5h1M154 26.5h2M14 27.5h2M20 27.5h1M24 27.5h1M33 27.5h1M36 27.5h3M47 27.5h1M55 27.5h1M64 27.5h1M66 27.5h1M72 27.5h1M87 27.5h1M91 27.5h3M95 27.5h1M114 27.5h1M116 27.5h1M119 27.5h1M131 27.5h2M134 27.5h2M139 27.5h2M146 27.5h2M152 27.5h1M161 27.5h1M21 28.5h1M25 28.5h1M28 28.5h1M36 28.5h1M43 28.5h1M46 28.5h1M50 28.5h1M52 28.5h1M57 28.5h1M66 28.5h2M70 28.5h1M73 28.5h1M77 28.5h4M84 28.5h1M87 28.5h1M93 28.5h1M95 28.5h2M100 28.5h1M105 28.5h2M111 28.5h1M115 28.5h1M127 28.5h1M133 28.5h1M135 28.5h2M138 28.5h2M147 28.5h1M149 28.5h1M161 28.5h1M168 28.5h1M1 29.5h1M25 29.5h1M31 29.5h1M42 29.5h2M58 29.5h1M61 29.5h1M74 29.5h2M78 29.5h2M83 29.5h1M89 29.5h1M91 29.5h1M100 29.5h1M102 29.5h1M107 29.5h1M116 29.5h1M125 29.5h1M131 29.5h1M134 29.5h1M148 29.5h1M155 29.5h1M161 29.5h2M165 29.5h2M21 30.5h1M28 30.5h1M37 30.5h1M39 30.5h2M43 30.5h1M49 30.5h1M54 30.5h1M58 30.5h1M66 30.5h1M70 30.5h1M73 30.5h1M75 30.5h1M82 30.5h1M89 30.5h1M93 30.5h1M102 30.5h1M116 30.5h1M118 30.5h1M120 30.5h1M136 30.5h1M144 30.5h1M147 30.5h1M154 30.5h2M169 30.5h1M20 31.5h1M23 31.5h2M28 31.5h1M32 31.5h1M36 31.5h2M44 31.5h1M47 31.5h1M59 31.5h1M62 31.5h1M67 31.5h1M70 31.5h1M80 31.5h1M83 31.5h2M86 31.5h1M89 31.5h1M93 31.5h1M113 31.5h1M125 31.5h1M129 31.5h1M134 31.5h1M146 31.5h1M148 31.5h1M155 31.5h1M159 31.5h1M161 31.5h1M167 31.5h2M2 32.5h1M9 32.5h1M30 32.5h1M78 32.5h2M89 32.5h1M105 32.5h1M108 32.5h1M136 32.5h1M156 32.5h1M166 32.5h1M3 33.5h1M25 33.5h1M28 33.5h1M64 33.5h1M67 33.5h1M72 33.5h1M95 33.5h1M97 33.5h1M106 33.5h2M111 33.5h1M131 33.5h1M153 33.5h1M157 33.5h1M160 33.5h1M167 33.5h1M98 37.5h1M94 38.5h1M144 41.5h1M141 42.5h1M36 45.5h1M95 45.5h1M140 45.5h1M145 45.5h1M11 46.5h1M68 46.5h1M142 46.5h1M14 47.5h1M52 48.5h1M147 48.5h1M34 49.5h1M61 50.5h1M39 51.5h1M60 51.5h1M79 51.5h1M88 51.5h1M129 51.5h1M28 52.5h1M82 52.5h1M89 52.5h1M133 52.5h1M142 52.5h1M159 52.5h1M49 53.5h1M83 53.5h1M131 53.5h1M141 53.5h1M153 53.5h1M162 53.5h1M168 53.5h1M149 54.5h1M160 54.5h1M14 55.5h1M54 55.5h1M65 55.5h1M75 55.5h1M50 56.5h1M97 56.5h1M132 56.5h1M12 57.5h1M85 57.5h1M110 57.5h1M145 57.5h1M39 58.5h1M46 58.5h1M101 58.5h1M134 58.5h1M19 59.5h1M42 59.5h1M74 59.5h1M127 59.5h1M164 59.5h1M38 60.5h1M44 60.5h1M51 60.5h1M95 60.5h1M104 60.5h1M117 60.5h1"/><path stroke="#005000" d="M64 0.5h1M163 0.5h1M8 4.5h1M5 10.5h1M1 11.5h1M3 11.5h1M8 13.5h1M7 16.5h2M4 20.5h1M165 20.5h1M4 27.5h1M6 27.5h1M18 32.5h1M42 32.5h1M133 32.5h1M145 32.5h1M12 34.5h1M16 34.5h1M30 34.5h1M49 34.5h1M51 34.5h1M55 34.5h1M77 34.5h2M81 34.5h1M83 34.5h2M100 34.5h1M119 34.5h1M121 34.5h1M140 34.5h1M144 34.5h1M147 34.5h1M157 34.5h1M11 35.5h1M13 35.5h1M19 35.5h1M30 35.5h1M37 35.5h1M56 35.5h2M59 35.5h2M88 35.5h1M94 35.5h1M99 35.5h1M107 35.5h2M119 35.5h1M131 35.5h1M160 35.5h1M169 35.5h1M1 36.5h2M38 36.5h1M45 36.5h1M54 36.5h1M59 36.5h1M68 36.5h1M91 36.5h1M110 36.5h1M115 36.5h2M122 36.5h1M137 36.5h2M144 36.5h2M149 36.5h1M162 36.5h1M6 37.5h1M16 37.5h1M30 37.5h1M101 37.5h1M129 37.5h1M132 37.5h1M155 37.5h1M46 38.5h1M49 38.5h1M69 38.5h1M92 38.5h1M119 38.5h1M124 38.5h1M141 38.5h1M159 38.5h1M167 38.5h1M0 39.5h1M6 39.5h1M14 39.5h1M25 39.5h1M29 39.5h1M31 39.5h1M39 39.5h1M63 39.5h1M115 39.5h1M120 39.5h1M128 39.5h1M130 39.5h1M143 39.5h1M158 39.5h1M161 39.5h1M167 39.5h1M14 40.5h1M23 40.5h1M58 40.5h1M64 40.5h1M70 40.5h1M85 40.5h1M87 40.5h1M89 40.5h1M93 40.5h1M103 40.5h1M117 40.5h1M120 40.5h1M127 40.5h1M134 40.5h1M140 40.5h1M152 40.5h2M159 40.5h1M6 41.5h1M8 41.5h1M14 41.5h1M20 41.5h1M62 41.5h1M104 41.5h1M170 41.5h1M3 42.5h1M115 42.5h1M137 42.5h1M0 43.5h1M21 43.5h1M33 43.5h2M49 43.5h1M56 43.5h1M63 43.5h1M71 43.5h1M103 43.5h1M116 43.5h1M121 43.5h1M125 43.5h1M131 43.5h1M156 43.5h1M161 43.5h1M165 43.5h1M22 44.5h1M26 44.5h1M39 44.5h1M45 44.5h1M47 44.5h1M51 44.5h1M54 44.5h1M64 44.5h1M68 44.5h1M74 44.5h1M76 44.5h2M89 44.5h1M93 44.5h1M101 44.5h1M112 44.5h1M2 45.5h1M123 46.5h1M100 47.5h1M132 47.5h1M156 47.5h1M9 48.5h1M28 48.5h1M31 48.5h1M125 48.5h1M138 48.5h1M14 49.5h1M35 49.5h1M96 49.5h1M141 49.5h1M2 50.5h1M4 50.5h1M10 50.5h1M21 50.5h1M26 50.5h1M117 51.5h1M4 53.5h1M9 54.5h1M81 54.5h1M87 54.5h1M118 54.5h1M128 54.5h1M143 54.5h1M150 54.5h1M1 55.5h1M33 55.5h1M108 55.5h1M157 55.5h1M106 56.5h1M122 56.5h1M52 57.5h1M70 57.5h1M163 57.5h1M0 58.5h1M7 58.5h1M9 58.5h1M53 58.5h1M55 58.5h1M57 58.5h1M75 58.5h1M80 58.5h1M97 58.5h2M105 58.5h1M121 58.5h1M125 58.5h1M137 58.5h1M149 58.5h1M75 59.5h1M153 59.5h1M157 59.5h1M30 60.5h1M60 60.5h1M119 60.5h1M136 60.5h1M146 60.5h1"/><path stroke="#008000" d="M78 0.5h1M7 11.5h2M5 12.5h1M8 12.5h1M8 14.5h1M3 27.5h1M24 32.5h1M26 32.5h1M29 32.5h1M66 32.5h1M10 34.5h2M38 34.5h1M42 34.5h1M71 34.5h1M76 34.5h1M101 34.5h1M108 34.5h1M116 34.5h1M136 34.5h1M162 34.5h1M4 35.5h1M26 35.5h1M32 35.5h1M63 35.5h1M69 35.5h1M71 35.5h1M93 35.5h1M98 35.5h1M111 35.5h1M126 35.5h1M140 35.5h1M142 35.5h1M154 35.5h1M166 35.5h1M170 35.5h1M30 36.5h1M0 37.5h1M136 37.5h1M10 38.5h1M22 38.5h1M89 38.5h1M4 39.5h1M10 39.5h1M18 39.5h1M163 39.5h1M21 40.5h1M34 40.5h1M36 40.5h2M46 40.5h1M53 40.5h1M56 40.5h2M67 40.5h1M69 40.5h1M102 40.5h1M139 40.5h1M146 40.5h1M150 40.5h1M158 40.5h1M161 40.5h1M163 40.5h1M4 41.5h2M99 41.5h1M61 43.5h1M86 43.5h1M100 43.5h1M111 43.5h1M163 43.5h1M111 44.5h1M113 44.5h1M123 44.5h1M132 44.5h1M157 44.5h1M10 49.5h1M78 50.5h1M9 53.5h1M84 54.5h2M85 56.5h1M129 56.5h1M31 57.5h1M62 57.5h1M71 57.5h1M41 58.5h1M111 58.5h1M142 58.5h1M110 59.5h1M31 60.5h1"/><path stroke="#00ef00" d="M79 0.5h1M4 10.5h1M19 32.5h1M45 32.5h1M126 32.5h1M2 34.5h1M4 37.5h1M8 39.5h1"/><path stroke="#df0000" d="M81 0.5h1M113 0.5h1M167 0.5h1M3 2.5h1M11 3.5h1M46 4.5h1M148 4.5h1M0 5.5h1M75 5.5h1M58 7.5h1M135 7.5h1M2 8.5h1M111 8.5h1M67 20.5h1M88 32.5h1M106 32.5h1M135 32.5h1M50 33.5h1M80 33.5h1M148 59.5h1"/><path stroke="#001000" d="M84 0.5h1M161 0.5h1M9 4.5h1M65 8.5h1M71 8.5h1M80 8.5h1M96 8.5h1M99 8.5h1M133 8.5h1M153 8.5h1M159 8.5h2M45 9.5h1M68 9.5h1M77 9.5h1M0 10.5h1M6 10.5h1M126 10.5h1M155 10.5h1M0 11.5h1M112 11.5h1M133 11.5h1M160 11.5h1M88 12.5h1M123 12.5h1M128 12.5h1M10 13.5h1M27 13.5h1M115 13.5h1M133 13.5h1M0 14.5h1M3 14.5h1M12 14.5h1M0 15.5h1M10 15.5h1M130 15.5h1M117 16.5h1M4 17.5h1M26 19.5h1M27 20.5h1M88 20.5h1M1 27.5h1M5 27.5h1M7 27.5h1M69 27.5h1M5 28.5h1M8 28.5h1M1 30.5h1M3 30.5h1M4 31.5h2M18 31.5h1M13 32.5h1M54 32.5h1M57 32.5h1M114 32.5h1M125 32.5h1M159 32.5h1M12 33.5h1M44 33.5h1M74 33.5h1M147 33.5h1M165 33.5h1M31 34.5h1M39 34.5h1M48 34.5h1M57 34.5h1M79 34.5h1M85 34.5h1M89 34.5h1M113 34.5h1M126 34.5h1M146 34.5h1M164 34.5h1M34 35.5h1M106 35.5h1M121 35.5h1M125 35.5h1M149 35.5h1M165 35.5h1M44 36.5h1M53 36.5h1M80 36.5h1M85 36.5h1M102 36.5h1M109 36.5h1M135 36.5h1M139 36.5h2M142 36.5h2M158 36.5h1M164 36.5h1M168 36.5h2M14 37.5h1M23 37.5h1M28 37.5h2M58 37.5h1M60 37.5h1M73 37.5h1M79 37.5h2M100 37.5h1M102 37.5h1M108 37.5h2M117 37.5h1M130 37.5h1M141 37.5h1M145 37.5h1M159 37.5h1M164 37.5h1M11 38.5h1M17 38.5h1M24 38.5h1M26 38.5h1M32 38.5h1M41 38.5h1M45 38.5h1M60 38.5h1M76 38.5h1M80 38.5h1M91 38.5h1M118 38.5h1M120 38.5h1M122 38.5h1M131 38.5h1M142 38.5h1M157 38.5h1M164 38.5h1M170 38.5h1M21 39.5h1M24 39.5h1M28 39.5h1M32 39.5h1M35 39.5h2M45 39.5h1M75 39.5h1M86 39.5h1M93 39.5h1M105 39.5h2M112 39.5h1M135 39.5h1M138 39.5h1M140 39.5h1M159 39.5h1M164 39.5h1M6 40.5h1M9 40.5h1M13 40.5h1M49 40.5h1M52 40.5h1M54 40.5h1M75 40.5h2M96 40.5h1M100 40.5h1M107 40.5h1M142 40.5h1M11 41.5h2M16 41.5h1M29 41.5h1M46 41.5h1M48 41.5h1M66 41.5h1M73 41.5h1M83 41.5h1M102 41.5h1M116 41.5h1M123 41.5h1M129 41.5h1M147 41.5h1M158 41.5h1M163 41.5h1M165 41.5h1M16 42.5h1M19 42.5h1M40 42.5h1M42 42.5h1M53 42.5h1M60 42.5h1M72 42.5h1M86 42.5h1M91 42.5h1M99 42.5h1M110 42.5h1M118 42.5h1M121 42.5h1M127 42.5h1M133 42.5h1M162 42.5h1M170 42.5h1M23 43.5h1M29 43.5h1M48 43.5h1M60 43.5h1M62 43.5h1M72 43.5h1M74 43.5h1M88 43.5h1M92 43.5h1M118 43.5h1M126 43.5h1M162 43.5h1M168 43.5h1M29 44.5h1M49 44.5h1M63 44.5h1M65 44.5h2M86 44.5h1M90 44.5h2M100 44.5h1M105 44.5h1M127 44.5h1M129 44.5h1M136 44.5h1M139 44.5h1M156 44.5h1M163 44.5h1M19 45.5h1M30 45.5h1M80 45.5h1M100 45.5h1M136 45.5h1M147 45.5h1M4 46.5h1M26 46.5h1M97 46.5h1M109 46.5h1M125 46.5h1M136 46.5h1M139 46.5h1M158 46.5h1M25 47.5h1M32 47.5h1M54 47.5h1M60 47.5h1M88 47.5h1M92 47.5h1M95 47.5h1M99 47.5h1M102 47.5h1M110 47.5h1M152 47.5h1M6 48.5h1M17 48.5h1M61 48.5h2M68 48.5h1M108 48.5h1M123 48.5h1M154 48.5h1M159 48.5h1M16 49.5h1M23 49.5h1M38 49.5h1M42 49.5h1M44 49.5h1M108 49.5h1M117 49.5h1M136 49.5h1M145 49.5h1M156 49.5h1M23 50.5h1M35 50.5h1M46 50.5h2M50 50.5h1M67 50.5h1M82 50.5h1M105 50.5h1M118 50.5h1M134 50.5h1M136 50.5h1M142 50.5h1M160 50.5h1M165 50.5h1M2 51.5h1M14 51.5h1M24 51.5h1M47 51.5h1M53 51.5h1M69 51.5h1M81 51.5h1M125 51.5h1M134 51.5h1M136 51.5h1M148 51.5h1M165 51.5h1M169 51.5h1M9 52.5h1M62 52.5h1M64 52.5h1M94 52.5h1M98 52.5h1M16 53.5h1M23 53.5h1M25 53.5h1M108 53.5h1M115 53.5h1M134 53.5h1M161 53.5h1M32 54.5h1M52 54.5h1M60 54.5h1M62 54.5h1M72 54.5h1M79 54.5h1M101 54.5h1M121 54.5h1M155 54.5h1M163 54.5h1M10 55.5h1M27 55.5h2M57 55.5h1M68 55.5h1M73 55.5h1M80 55.5h1M95 55.5h1M107 55.5h1M124 55.5h1M128 55.5h1M154 55.5h1M164 55.5h1M3 56.5h1M19 56.5h1M22 56.5h1M36 56.5h1M63 56.5h1M75 56.5h2M78 56.5h1M82 56.5h1M91 56.5h1M111 56.5h1M115 56.5h1M124 56.5h1M126 56.5h1M128 56.5h1M130 56.5h1M139 56.5h1M149 56.5h1M2 57.5h2M6 57.5h1M13 57.5h1M18 57.5h1M34 57.5h1M42 57.5h1M53 57.5h1M68 57.5h1M91 57.5h2M100 57.5h1M103 57.5h1M108 57.5h1M121 57.5h1M130 57.5h1M148 57.5h1M155 57.5h1M159 57.5h1M13 58.5h1M23 58.5h1M40 58.5h1M59 58.5h1M66 58.5h1M79 58.5h1M116 58.5h1M126 58.5h1M129 58.5h1M133 58.5h1M148 58.5h1M159 58.5h1M6 59.5h1M21 59.5h1M26 59.5h1M33 59.5h1M39 59.5h1M41 59.5h1M50 59.5h2M58 59.5h1M66 59.5h1M83 59.5h1M93 59.5h1M136 59.5h1M141 59.5h1M18 60.5h1M20 60.5h1M32 60.5h1M47 60.5h1M64 60.5h1M100 60.5h1M105 60.5h1M115 60.5h1M122 60.5h1M133 60.5h1M142 60.5h1M148 60.5h1M153 60.5h1M165 60.5h2"/><path stroke="#004000" d="M100 0.5h1M5 4.5h1M18 8.5h1M57 8.5h1M61 8.5h1M142 8.5h1M148 8.5h1M3 10.5h1M7 10.5h1M6 11.5h1M2 12.5h1M5 14.5h1M4 15.5h1M8 15.5h2M9 16.5h1M1 17.5h2M1 20.5h1M5 20.5h1M10 20.5h1M54 20.5h1M6 28.5h1M4 29.5h1M35 32.5h1M101 32.5h1M103 32.5h1M115 32.5h2M141 32.5h1M150 32.5h1M169 32.5h2M19 34.5h1M32 34.5h1M34 34.5h1M36 34.5h1M41 34.5h1M43 34.5h1M50 34.5h1M52 34.5h1M59 34.5h1M67 34.5h1M69 34.5h1M82 34.5h1M104 34.5h1M109 34.5h1M122 34.5h1M130 34.5h1M132 34.5h1M137 34.5h1M148 34.5h2M151 34.5h1M160 34.5h1M0 35.5h1M5 35.5h1M7 35.5h1M14 35.5h2M18 35.5h1M23 35.5h1M25 35.5h1M27 35.5h1M45 35.5h3M54 35.5h1M68 35.5h1M72 35.5h1M76 35.5h1M87 35.5h1M105 35.5h1M122 35.5h2M127 35.5h1M134 35.5h1M150 35.5h1M153 35.5h1M163 35.5h1M5 36.5h1M17 36.5h1M20 36.5h1M22 36.5h1M24 36.5h1M27 36.5h1M31 36.5h1M47 36.5h1M50 36.5h1M71 36.5h1M79 36.5h1M82 36.5h1M92 36.5h1M97 36.5h1M123 36.5h1M163 36.5h1M11 37.5h2M26 37.5h1M38 37.5h1M45 37.5h1M62 37.5h1M69 37.5h1M72 37.5h1M77 37.5h1M92 37.5h1M133 37.5h1M152 37.5h1M169 37.5h1M36 38.5h1M39 38.5h1M47 38.5h1M51 38.5h2M66 38.5h1M83 38.5h1M105 38.5h2M112 38.5h1M117 38.5h1M144 38.5h1M148 38.5h1M17 39.5h1M23 39.5h1M42 39.5h1M47 39.5h1M60 39.5h1M66 39.5h1M68 39.5h1M71 39.5h1M84 39.5h1M88 39.5h2M133 39.5h1M155 39.5h1M160 39.5h1M24 40.5h1M28 40.5h1M35 40.5h1M47 40.5h1M55 40.5h1M66 40.5h1M77 40.5h1M81 40.5h1M99 40.5h1M109 40.5h1M118 40.5h1M129 40.5h1M135 40.5h1M143 40.5h1M147 40.5h1M149 40.5h1M170 40.5h1M7 41.5h1M40 41.5h1M53 41.5h1M68 41.5h1M112 41.5h1M120 41.5h1M154 41.5h1M58 42.5h1M154 42.5h1M10 43.5h1M12 43.5h1M15 43.5h2M20 43.5h1M39 43.5h1M42 43.5h1M51 43.5h2M64 43.5h1M70 43.5h1M75 43.5h1M79 43.5h1M81 43.5h1M91 43.5h1M115 43.5h1M120 43.5h1M123 43.5h1M145 43.5h1M147 43.5h1M153 43.5h1M8 44.5h1M21 44.5h1M32 44.5h2M38 44.5h1M42 44.5h1M57 44.5h1M60 44.5h2M107 44.5h1M116 44.5h1M128 44.5h1M138 44.5h1M144 44.5h1M164 44.5h1M6 45.5h1M10 45.5h1M166 45.5h1M1 47.5h3M36 47.5h1M38 47.5h1M85 47.5h1M92 48.5h1M135 48.5h1M163 48.5h1M2 49.5h1M54 49.5h1M89 49.5h1M148 49.5h1M159 49.5h1M3 50.5h1M99 50.5h1M113 50.5h1M139 50.5h1M75 51.5h1M2 52.5h1M1 54.5h1M6 54.5h1M10 54.5h1M27 54.5h1M36 54.5h1M64 54.5h2M109 54.5h1M142 54.5h1M2 55.5h1M11 55.5h1M19 55.5h1M32 55.5h1M123 55.5h1M145 55.5h1M149 55.5h1M27 56.5h1M32 56.5h1M41 56.5h1M46 56.5h1M51 56.5h1M55 56.5h1M71 56.5h1M127 56.5h1M151 56.5h1M165 56.5h1M1 57.5h1M4 57.5h1M48 57.5h1M69 57.5h1M74 57.5h1M93 57.5h1M114 57.5h1M141 57.5h1M147 57.5h1M166 57.5h1M24 58.5h1M49 58.5h1M99 58.5h1M144 58.5h1M155 58.5h1M166 58.5h1M11 59.5h1M30 59.5h1M87 59.5h1M108 59.5h1M115 59.5h1M144 59.5h1M1 60.5h1M8 60.5h1M16 60.5h1M25 60.5h1M34 60.5h1M57 60.5h1M77 60.5h1M116 60.5h1M161 60.5h1"/><path stroke="#cf0000" d="M140 0.5h1M148 0.5h1M165 0.5h1M6 1.5h1M44 1.5h1M162 1.5h1M49 2.5h1M58 2.5h1M114 2.5h1M118 2.5h1M135 2.5h1M151 2.5h1M7 3.5h1M15 3.5h1M60 3.5h1M88 3.5h1M107 3.5h1M131 3.5h1M162 3.5h1M47 4.5h1M49 4.5h1M103 4.5h1M135 4.5h1M25 5.5h1M44 5.5h1M103 5.5h1M119 5.5h1M135 5.5h1M34 6.5h1M37 6.5h1M46 6.5h1M49 6.5h1M60 6.5h1M95 6.5h1M127 6.5h1M135 6.5h1M14 7.5h1M24 7.5h1M120 7.5h1M146 7.5h1M165 7.5h1M9 8.5h1M89 8.5h1M104 8.5h1M7 19.5h1M49 19.5h1M164 19.5h1M153 20.5h1M0 21.5h1M40 26.5h1M86 32.5h1M134 32.5h1M157 32.5h1M0 33.5h1M23 33.5h1M146 56.5h1"/><path stroke="#008f00" d="M1 10.5h1M2 13.5h1M4 16.5h1M48 32.5h1M69 32.5h1M15 34.5h1M28 34.5h1M44 34.5h1M90 34.5h1M98 34.5h1M111 34.5h1M128 34.5h1M141 34.5h3M156 34.5h1M168 34.5h1M170 34.5h1M3 35.5h1M20 35.5h1M28 35.5h1M33 35.5h1M35 35.5h1M38 35.5h2M97 35.5h1M161 35.5h1M6 36.5h1M37 36.5h1M42 36.5h1M48 36.5h1M60 36.5h1M128 36.5h1M9 37.5h2M25 37.5h1M81 37.5h1M128 37.5h1M140 37.5h1M59 38.5h1M1 39.5h1M92 39.5h1M1 40.5h1M5 40.5h1M8 40.5h1M31 40.5h1M51 40.5h1M86 40.5h1M104 40.5h1M106 40.5h1M145 40.5h1M168 40.5h2M3 43.5h1M6 43.5h1M84 43.5h1M18 44.5h1M4 47.5h1M1 48.5h1M4 48.5h1M7 49.5h1M1 50.5h1M8 54.5h1M59 54.5h1M5 55.5h1M95 56.5h1M8 57.5h1M20 57.5h1M38 57.5h1M63 57.5h1M112 58.5h1M128 58.5h1M2 59.5h1M5 60.5h1"/><path stroke="#00cf00" d="M76 32.5h1M6 34.5h1M86 34.5h1M1 37.5h1M9 38.5h1M12 40.5h1M2 43.5h1M5 43.5h1M5 58.5h1M26 58.5h1M5 59.5h1"/><path stroke="#00df00" d="M3 34.5h1M5 34.5h1M29 35.5h1M5 39.5h1M68 40.5h1M2 44.5h1M4 54.5h1"/></g><path d="M36.03 44.8V337.6M37.96 44.8V337.6M39.89 44.8V337.6M41.82 44.8V337.6M43.75 44.8V337.6M45.68 44.8V337.6M47.60 44.8V337.6M49.53 44.8V337.6M51.46 44.8V337.6M53.39 44.8V337.6M55.32 44.8V337.6M57.25 44.8V337.6M59.18 44.8V337.6M61.11 44.8V337.6M63.04 44.8V337.6M64.97 44.8V337.6M66.90 44.8V337.6M68.83 44.8V337.6M70.76 44.8V337.6M72.68 44.8V337.6M74.61 44.8V337.6M76.54 44.8V337.6M78.47 44.8V337.6M80.40 44.8V337.6M82.33 44.8V337.6M84.26 44.8V337.6M86.19 44.8V337.6M88.12 44.8V337.6M90.05 44.8V337.6M91.98 44.8V337.6M93.91 44.8V337.6M95.84 44.8V337.6M97.76 44.8V337.6M99.69 44.8V337.6M101.62 44.8V337.6M103.55 44.8V337.6M105.48 44.8V337.6M107.41 44.8V337.6M109.34 44.8V337.6M111.27 44.8V337.6M113.20 44.8V337.6M115.13 44.8V337.6M117.06 44.8V337.6M118.99 44.8V337.6M120.92 44.8V337.6M122.85 44.8V337.6M124.77 44.8V337.6M126.70 44.8V337.6M128.63 44.8V337.6M130.56 44.8V337.6M132.49 44.8V337.6M134.42 44.8V337.6M136.35 44.8V337.6M138.28 44.8V337.6M140.21 44.8V337.6M142.14 44.8V337.6M144.07 44.8V337.6M146.00 44.8V337.6M147.93 44.8V337.6M149.85 44.8V337.6M151.78 44.8V337.6M153.71 44.8V337.6M155.64 44.8V337.6M157.57 44.8V337.6M159.50 44.8V337.6M161.43 44.8V337.6M163.36 44.8V337.6M165.29 44.8V337.6M167.22 44.8V337.6M169.15 44.8V337.6M171.08 44.8V337.6M173.01 44.8V337.6M174.93 44.8V337.6M176.86 44.8V337.6M178.79 44.8V337.6M180.72 44.8V337.6M182.65 44.8V337.6M184.58 44.8V337.6M186.51 44.8V337.6M188.44 44.8V337.6M190.37 44.8V337.6M192.30 44.8V337.6M194.23 44.8V337.6M196.16 44.8V337.6M198.09 44.8V337.6M200.01 44.8V337.6M201.94 44.8V337.6M203.87 44.8V337.6M205.80 44.8V337.6M207.73 44.8V337.6M209.66 44.8V337.6M211.59 44.8V337.6M213.52 44.8V337.6M215.45 44.8V337.6M217.38 44.8V337.6M219.31 44.8V337.6M221.24 44.8V337.6M223.17 44.8V337.6M225.09 44.8V337.6M227.02 44.8V337.6M228.95 44.8V337.6M230.88 44.8V337.6M232.81 44.8V337.6M234.74 44.8V337.6M236.67 44.8V337.6M238.60 44.8V337.6M240.53 44.8V337.6M242.46 44.8V337.6M244.39 44.8V337.6M246.32 44.8V337.6M248.25 44.8V337.6M250.17 44.8V337.6M252.10 44.8V337.6M254.03 44.8V337.6M255.96 44.8V337.6M257.89 44.8V337.6M259.82 44.8V337.6M261.75 44.8V337.6M263.68 44.8V337.6M265.61 44.8V337.6M267.54 44.8V337.6M269.47 44.8V337.6M271.40 44.8V337.6M273.33 44.8V337.6M275.25 44.8V337.6M277.18 44.8V337.6M279.11 44.8V337.6M281.04 44.8V337.6M282.97 44.8V337.6M284.90 44.8V337.6M286.83 44.8V337.6M288.76 44.8V337.6M290.69 44.8V337.6M292.62 44.8V337.6M294.55 44.8V337.6M296.48 44.8V337.6M298.41 44.8V337.6M300.34 44.8V337.6M302.26 44.8V337.6M304.19 44.8V337.6M306.12 44.8V337.6M308.05 44.8V337.6M309.98 44.8V337.6M311.91 44.8V337.6M313.84 44.8V337.6M315.77 44.8V337.6M317.70 44.8V337.6M319.63 44.8V337.6M321.56 44.8V337.6M323.49 44.8V337.6M325.42 44.8V337.6M327.34 44.8V337.6M329.27 44.8V337.6M331.20 44.8V337.6M333.13 44.8V337.6M335.06 44.8V337.6M336.99 44.8V337.6M338.92 44.8V337.6M340.85 44.8V337.6M342.78 44.8V337.6M344.71 44.8V337.6M346.64 44.8V337.6M348.57 44.8V337.6M350.50 44.8V337.6M352.42 44.8V337.6M354.35 44.8V337.6M356.28 44.8V337.6M358.21 44.8V337.6M360.14 44.8V337.6M362.07 44.8V337.6M34.1 49.60H364.0M34.1 54.40H364.0M34.1 59.20H364.0M34.1 64.00H364.0M34.1 68.80H364.0M34.1 73.60H364.0M34.1 78.40H364.0M34.1 83.20H364.0M34.1 88.00H364.0M34.1 92.80H364.0M34.1 97.60H364.0M34.1 102.40H364.0M34.1 107.20H364.0M34.1 112.00H364.0M34.1 116.80H364.0M34.1 121.60H364.0M34.1 126.40H364.0M34.1 131.20H364.0M34.1 136.00H364.0M34.1 140.80H364.0M34.1 145.60H364.0M34.1 150.40H364.0M34.1 155.20H364.0M34.1 160.00H364.0M34.1 164.80H364.0M34.1 169.60H364.0M34.1 174.40H364.0M34.1 179.20H364.0M34.1 184.00H364.0M34.1 188.80H364.0M34.1 193.60H364.0M34.1 198.40H364.0M34.1 203.20H364.0M34.1 208.00H364.0M34.1 212.80H364.0M34.1 217.60H364.0M34.1 222.40H364.0M34.1 227.20H364.0M34.1 232.00H364.0M34.1 236.80H364.0M34.1 241.60H364.0M34.1 246.40H364.0M34.1 251.20H364.0M34.1 256.00H364.0M34.1 260.80H364.0M34.1 265.60H364.0M34.1 270.40H364.0M34.1 275.20H364.0M34.1 280.00H364.0M34.1 284.80H364.0M34.1 289.60H364.0M34.1 294.40H364.0M34.1 299.20H364.0M34.1 304.00H364.0M34.1 308.80H364.0M34.1 313.60H364.0M34.1 318.40H364.0M34.1 323.20H364.0M34.1 328.00H364.0M34.1 332.80H364.0" stroke="#a0a0a0" stroke-width="0.5" stroke-opacity="0.35" fill="none"/></g><path d="M33.7 157.6H32.3V162.4H33.7M33.7 167.2H32.0V172.0H33.7M33.7 152.8H31.9V160.0H32.3M31.9 156.4H31.9V169.6H32.0M33.7 191.2H31.8V196.0H33.7M33.7 176.8H31.8V181.6H33.7M33.7 186.4H31.6V193.6H31.8M31.8 179.2H31.6V190.0H31.6M31.9 163.0H31.6V184.6H31.6M33.7 109.6H31.6V114.4H33.7M33.7 128.8H31.5V133.6H33.7M33.7 119.2H31.2V124.0H33.7M31.6 112.0H31.2V121.6H31.2M33.7 148.0H31.2V173.8H31.6M33.7 95.2H31.1V100.0H33.7M31.1 97.6H31.1V104.8H33.7M31.1 101.2H30.9V116.8H31.2M30.9 109.0H30.4V131.2H31.5M33.7 90.4H30.0V120.1H30.4M33.7 143.2H28.6V160.9H31.2M33.7 138.4H28.6V152.1H28.6M30.0 105.2H28.6V145.2H28.6M33.7 85.6H27.1V125.2H28.6M33.7 56.8H32.5V61.6H33.7M33.7 52.0H32.4V59.2H32.5M33.7 71.2H32.1V76.0H33.7M32.1 73.6H32.0V80.8H33.7M33.7 66.4H30.2V77.2H32.0M32.4 55.6H30.2V71.8H30.2M30.2 63.7H25.3V105.4H27.1M33.7 47.2H22.4V84.6H25.3M33.7 244.0H31.3V248.8H33.7M33.7 253.6H30.8V258.4H33.7M33.7 229.6H30.0V234.4H33.7M33.7 224.8H30.0V232.0H30.0M31.3 246.4H29.1V256.0H30.8M29.1 251.2H28.2V263.2H33.7M30.0 228.4H27.4V239.2H33.7M27.4 233.8H27.4V257.2H28.2M33.7 268.0H30.7V272.8H33.7M33.7 292.0H30.7V296.8H33.7M30.7 270.4H30.4V277.6H33.7M30.7 294.4H30.1V301.6H33.7M30.4 274.0H29.8V282.4H33.7M29.8 278.2H29.5V287.2H33.7M29.5 282.7H29.5V298.0H30.1M29.5 290.4H28.0V306.4H33.7M28.0 298.4H28.0V311.2H33.7M28.0 304.8H27.4V316.0H33.7M27.4 310.4H27.2V320.8H33.7M33.7 330.4H26.6V335.2H33.7M27.2 315.6H26.5V325.6H33.7M26.5 320.6H26.5V332.8H26.6M27.4 245.5H25.0V326.7H26.5M33.7 210.4H28.2V215.2H33.7M28.2 212.8H26.4V220.0H33.7M26.4 216.4H21.6V286.1H25.0M33.7 200.8H26.4V205.6H33.7M26.4 203.2H20.7V251.2H21.6M22.4 65.9H15.4V227.2H20.7" stroke="#8c8c8c" stroke-width="0.7" fill="none"/><defs><linearGradient id="cb" x1="0" y1="0" x2="0" y2="1">
<stop offset="0" stop-color="#ff0000"/><stop offset="0.52" stop-color="#000000"/><stop offset="1" stop-color="#00ff00"/></linearGradient></defs>
<rect x="365.8" y="44.6" width="3.4" height="52.3" fill="url(#cb)"/>
<g font-family="Liberation Sans" font-size="4.7" font-weight="bold" fill="#555">
<text x="370.8" y="48.2">10</text><text x="370.8" y="61.2">5</text><text x="370.8" y="73.8">0</text><text x="370.2" y="86.6">&#8722;5</text></g>
<g font-family="Liberation Sans" font-size="4.3" font-weight="bold" fill="#222">
<text x="365.5" y="43.2">Type</text><text x="378" y="47.8">Type</text>
<text x="384.7" y="54.3" font-size="5">N</text><text x="384.7" y="60.2" font-size="5">T</text></g>
<rect x="378" y="49" width="5.7" height="6" fill="#22d2df"/><rect x="378" y="55" width="5.7" height="5.8" fill="#f7a39a"/>

<line x1="621.8" y1="50.9" x2="621.8" y2="305" stroke="#000" stroke-width="2.7" stroke-dasharray="6.3 14.2" stroke-linecap="round" stroke-dashoffset="-1.3"/><g fill="#000"><circle cx="662.8" cy="103.0" r="2.15"/><circle cx="643.3" cy="117.2" r="2.15"/><circle cx="647.0" cy="120.4" r="2.15"/><circle cx="643.7" cy="123.3" r="2.15"/><circle cx="659.6" cy="121.5" r="2.15"/><circle cx="661.7" cy="123.6" r="2.15"/><circle cx="655.3" cy="126.0" r="2.15"/><circle cx="659.0" cy="128.7" r="2.15"/><circle cx="651.9" cy="129.4" r="2.15"/><circle cx="656.4" cy="132.4" r="2.15"/><circle cx="657.6" cy="134.5" r="2.15"/><circle cx="654.4" cy="136.7" r="2.15"/><circle cx="641.4" cy="135.8" r="2.15"/><circle cx="659.0" cy="140.4" r="2.15"/><circle cx="655.3" cy="142.6" r="2.15"/><circle cx="651.0" cy="146.8" r="2.15"/><circle cx="653.4" cy="148.4" r="2.15"/><circle cx="648.7" cy="151.1" r="2.15"/><circle cx="662.6" cy="146.3" r="2.15"/><circle cx="652.6" cy="154.9" r="2.15"/><circle cx="659.4" cy="153.3" r="2.15"/><circle cx="641.9" cy="159.1" r="2.15"/><circle cx="645.5" cy="159.7" r="2.15"/><circle cx="661.9" cy="157.9" r="2.15"/><circle cx="657.0" cy="132.1" r="2.15"/><circle cx="654.9" cy="136.9" r="2.15"/><circle cx="659.1" cy="135.3" r="2.15"/><circle cx="650.6" cy="150.3" r="2.15"/><circle cx="658.9" cy="152.9" r="2.15"/><circle cx="641.8" cy="159.4" r="2.15"/><circle cx="645.0" cy="160.4" r="2.15"/><circle cx="638.8" cy="164.2" r="2.15"/><circle cx="641.5" cy="163.1" r="2.15"/><circle cx="644.0" cy="167.4" r="2.15"/><circle cx="640.7" cy="171.4" r="2.15"/><circle cx="647.2" cy="173.8" r="2.15"/><circle cx="652.3" cy="164.7" r="2.15"/><circle cx="651.9" cy="168.4" r="2.15"/><circle cx="652.7" cy="173.3" r="2.15"/><circle cx="650.6" cy="171.1" r="2.15"/><circle cx="659.7" cy="168.4" r="2.15"/><circle cx="660.6" cy="168.8" r="2.15"/><circle cx="652.3" cy="164.8" r="2.15"/><circle cx="644.1" cy="167.5" r="2.15"/><circle cx="639.0" cy="164.3" r="2.15"/><circle cx="640.9" cy="171.6" r="2.15"/><circle cx="647.3" cy="173.9" r="2.15"/><circle cx="652.1" cy="170.7" r="2.15"/><circle cx="652.9" cy="173.4" r="2.15"/><circle cx="641.4" cy="161.6" r="2.15"/><circle cx="645.1" cy="160.5" r="2.15"/><circle cx="640.9" cy="183.0" r="2.15"/><circle cx="642.5" cy="182.5" r="2.15"/><circle cx="650.5" cy="187.3" r="2.15"/><circle cx="657.4" cy="186.2" r="2.15"/><circle cx="659.8" cy="183.3" r="2.15"/><circle cx="655.1" cy="192.6" r="2.15"/><circle cx="643.0" cy="192.1" r="2.15"/><circle cx="645.7" cy="191.6" r="2.15"/><circle cx="646.7" cy="194.8" r="2.15"/><circle cx="638.0" cy="197.6" r="2.15"/><circle cx="651.6" cy="197.4" r="2.15"/><circle cx="653.4" cy="200.1" r="2.15"/><circle cx="644.6" cy="198.0" r="2.15"/><circle cx="642.5" cy="200.6" r="2.15"/><circle cx="638.2" cy="203.3" r="2.15"/><circle cx="645.7" cy="202.8" r="2.15"/><circle cx="652.1" cy="204.4" r="2.15"/><circle cx="643.0" cy="206.0" r="2.15"/><circle cx="648.3" cy="207.1" r="2.15"/><circle cx="645.7" cy="209.2" r="2.15"/><circle cx="640.9" cy="210.3" r="2.15"/><circle cx="653.4" cy="212.2" r="2.15"/><circle cx="643.0" cy="213.5" r="2.15"/><circle cx="637.6" cy="215.6" r="2.15"/><circle cx="647.8" cy="217.0" r="2.15"/><circle cx="654.2" cy="217.8" r="2.15"/><circle cx="635.5" cy="218.6" r="2.15"/><circle cx="639.8" cy="218.3" r="2.15"/><circle cx="641.9" cy="221.0" r="2.15"/><circle cx="638.2" cy="222.0" r="2.15"/><circle cx="653.7" cy="221.8" r="2.15"/><circle cx="659.8" cy="222.9" r="2.15"/><circle cx="637.1" cy="224.7" r="2.15"/><circle cx="642.5" cy="224.7" r="2.15"/><circle cx="639.8" cy="227.4" r="2.15"/><circle cx="645.1" cy="229.3" r="2.15"/><circle cx="649.4" cy="227.4" r="2.15"/><circle cx="652.1" cy="229.0" r="2.15"/><circle cx="653.2" cy="230.0" r="2.15"/><circle cx="640.9" cy="233.8" r="2.15"/><circle cx="635.0" cy="235.1" r="2.15"/><circle cx="651.6" cy="234.0" r="2.15"/><circle cx="660.6" cy="234.7" r="2.15"/><circle cx="637.6" cy="238.1" r="2.15"/><circle cx="637.5" cy="235.5" r="2.15"/><circle cx="640.6" cy="235.8" r="2.15"/><circle cx="651.4" cy="235.0" r="2.15"/><circle cx="660.6" cy="235.3" r="2.15"/><circle cx="637.5" cy="238.6" r="2.15"/><circle cx="638.0" cy="242.7" r="2.15"/><circle cx="640.1" cy="243.7" r="2.15"/><circle cx="646.7" cy="243.2" r="2.15"/><circle cx="648.8" cy="244.3" r="2.15"/><circle cx="650.8" cy="245.3" r="2.15"/><circle cx="629.3" cy="248.4" r="2.15"/><circle cx="666.3" cy="247.3" r="2.15"/><circle cx="691.5" cy="248.4" r="2.15"/><circle cx="696.1" cy="248.9" r="2.15"/><circle cx="653.9" cy="251.2" r="2.15"/><circle cx="672.2" cy="254.7" r="2.15"/><circle cx="637.0" cy="252.5" r="2.15"/><circle cx="640.0" cy="252.0" r="2.15"/><circle cx="630.8" cy="256.6" r="2.15"/><circle cx="634.4" cy="255.6" r="2.15"/><circle cx="635.4" cy="258.7" r="2.15"/><circle cx="638.0" cy="257.1" r="2.15"/><circle cx="641.1" cy="256.1" r="2.15"/><circle cx="638.5" cy="259.7" r="2.15"/><circle cx="645.2" cy="259.2" r="2.15"/><circle cx="629.3" cy="262.8" r="2.15"/><circle cx="639.5" cy="263.3" r="2.15"/><circle cx="647.2" cy="263.3" r="2.15"/><circle cx="654.4" cy="262.8" r="2.15"/><circle cx="653.4" cy="265.8" r="2.15"/><circle cx="660.1" cy="264.8" r="2.15"/><circle cx="669.9" cy="269.8" r="2.15"/><circle cx="634.4" cy="268.9" r="2.15"/><circle cx="643.7" cy="270.8" r="2.15"/><circle cx="646.5" cy="273.3" r="2.15"/><circle cx="638.5" cy="273.6" r="2.15"/><circle cx="660.1" cy="271.5" r="2.15"/><circle cx="661.6" cy="273.3" r="2.15"/><circle cx="653.9" cy="275.1" r="2.15"/><circle cx="632.9" cy="274.6" r="2.15"/><circle cx="634.4" cy="277.2" r="2.15"/><circle cx="630.8" cy="278.2" r="2.15"/><circle cx="628.7" cy="279.7" r="2.15"/><circle cx="632.9" cy="280.2" r="2.15"/><circle cx="635.9" cy="280.2" r="2.15"/><circle cx="631.3" cy="281.8" r="2.15"/><circle cx="632.3" cy="283.8" r="2.15"/><circle cx="649.8" cy="278.4" r="2.15"/><circle cx="655.0" cy="280.8" r="2.15"/><circle cx="644.7" cy="284.4" r="2.15"/><circle cx="650.8" cy="286.4" r="2.15"/><circle cx="685.8" cy="284.9" r="2.15"/><circle cx="624.6" cy="284.4" r="2.15"/><circle cx="624.1" cy="287.4" r="2.15"/><circle cx="626.2" cy="289.0" r="2.15"/><circle cx="628.2" cy="288.5" r="2.15"/><circle cx="620.0" cy="292.6" r="2.15"/><circle cx="632.9" cy="290.5" r="2.15"/><circle cx="632.9" cy="294.1" r="2.15"/><circle cx="638.3" cy="294.4" r="2.15"/><circle cx="643.7" cy="295.7" r="2.15"/><circle cx="665.8" cy="291.6" r="2.15"/><circle cx="621.0" cy="297.7" r="2.15"/><circle cx="625.7" cy="297.2" r="2.15"/><circle cx="626.2" cy="299.3" r="2.15"/><circle cx="630.3" cy="299.3" r="2.15"/><circle cx="622.1" cy="300.8" r="2.15"/><circle cx="628.7" cy="303.4" r="2.15"/><circle cx="671.4" cy="302.4" r="2.15"/><circle cx="587.9" cy="188.3" r="2.15"/><circle cx="600.6" cy="204.2" r="2.15"/><circle cx="595.4" cy="207.4" r="2.15"/><circle cx="590.0" cy="226.7" r="2.15"/><circle cx="583.9" cy="250.2" r="2.15"/><circle cx="607.4" cy="247.5" r="2.15"/><circle cx="610.8" cy="252.6" r="2.15"/><circle cx="592.4" cy="263.4" r="2.15"/><circle cx="574.3" cy="269.4" r="2.15"/><circle cx="610.8" cy="267.4" r="2.15"/><circle cx="614.9" cy="271.0" r="2.15"/><circle cx="592.4" cy="274.4" r="2.15"/><circle cx="605.0" cy="274.0" r="2.15"/><circle cx="608.6" cy="273.8" r="2.15"/><circle cx="606.8" cy="277.0" r="2.15"/><circle cx="612.2" cy="277.0" r="2.15"/><circle cx="609.8" cy="280.0" r="2.15"/><circle cx="608.6" cy="281.8" r="2.15"/><circle cx="613.4" cy="284.0" r="2.15"/><circle cx="611.6" cy="288.2" r="2.15"/><circle cx="606.2" cy="290.2" r="2.15"/><circle cx="590.6" cy="293.9" r="2.15"/><circle cx="596.0" cy="294.2" r="2.15"/><circle cx="612.2" cy="294.2" r="2.15"/><circle cx="617.0" cy="293.3" r="2.15"/><circle cx="620.0" cy="293.3" r="2.15"/><circle cx="604.4" cy="300.7" r="2.15"/><circle cx="615.2" cy="303.5" r="2.15"/><circle cx="619.5" cy="299.3" r="2.15"/><circle cx="623.0" cy="298.1" r="2.15"/><circle cx="624.3" cy="287.2" r="2.15"/><circle cx="624.8" cy="286.0" r="2.15"/><circle cx="626.6" cy="288.7" r="2.15"/><circle cx="628.4" cy="280.6" r="2.15"/><circle cx="628.9" cy="262.6" r="2.15"/><circle cx="717.8" cy="265.9" r="2.15"/><circle cx="702.7" cy="294.9" r="2.15"/><circle cx="645.0" cy="200.0" r="2.15"/><circle cx="649.0" cy="203.3" r="2.15"/><circle cx="643.4" cy="205.7" r="2.15"/><circle cx="646.7" cy="208.1" r="2.15"/><circle cx="650.7" cy="206.5" r="2.15"/><circle cx="641.0" cy="204.0" r="2.15"/><circle cx="645.0" cy="196.0" r="2.15"/><circle cx="648.3" cy="199.2" r="2.15"/><circle cx="639.4" cy="213.7" r="2.15"/><circle cx="637.0" cy="216.1" r="2.15"/><circle cx="641.8" cy="217.7" r="2.15"/><circle cx="637.8" cy="221.7" r="2.15"/><circle cx="642.6" cy="221.7" r="2.15"/><circle cx="640.2" cy="224.9" r="2.15"/><circle cx="637.0" cy="226.5" r="2.15"/><circle cx="643.4" cy="228.9" r="2.15"/><circle cx="641.0" cy="215.3" r="2.15"/><circle cx="638.6" cy="219.3" r="2.15"/><circle cx="641.0" cy="232.1" r="2.15"/><circle cx="640.2" cy="235.3" r="2.15"/></g><g fill="#ff0000"><circle cx="666.2" cy="96.3" r="2.15"/><circle cx="680.7" cy="96.3" r="2.15"/><circle cx="684.2" cy="96.0" r="2.15"/><circle cx="695.7" cy="95.8" r="2.15"/><circle cx="694.7" cy="99.8" r="2.15"/><circle cx="678.6" cy="107.3" r="2.15"/><circle cx="689.7" cy="108.0" r="2.15"/><circle cx="697.2" cy="106.7" r="2.15"/><circle cx="674.0" cy="113.7" r="2.15"/><circle cx="677.2" cy="113.4" r="2.15"/><circle cx="676.1" cy="121.9" r="2.15"/><circle cx="679.9" cy="126.5" r="2.15"/><circle cx="681.2" cy="125.1" r="2.15"/><circle cx="662.8" cy="132.6" r="2.15"/><circle cx="669.7" cy="132.9" r="2.15"/><circle cx="672.4" cy="132.6" r="2.15"/><circle cx="669.4" cy="135.8" r="2.15"/><circle cx="672.2" cy="140.4" r="2.15"/><circle cx="701.4" cy="105.7" r="2.15"/><circle cx="707.6" cy="100.3" r="2.15"/><circle cx="716.2" cy="100.3" r="2.15"/><circle cx="722.1" cy="103.7" r="2.15"/><circle cx="727.1" cy="96.0" r="2.15"/><circle cx="734.6" cy="96.0" r="2.15"/><circle cx="726.7" cy="115.6" r="2.15"/><circle cx="721.7" cy="118.7" r="2.15"/><circle cx="713.5" cy="122.0" r="2.15"/><circle cx="710.3" cy="128.4" r="2.15"/><circle cx="732.2" cy="130.1" r="2.15"/><circle cx="750.1" cy="115.6" r="2.15"/><circle cx="666.7" cy="163.2" r="2.15"/><circle cx="671.9" cy="163.2" r="2.15"/><circle cx="700.0" cy="178.7" r="2.15"/><circle cx="665.8" cy="183.5" r="2.15"/><circle cx="669.2" cy="183.0" r="2.15"/><circle cx="679.4" cy="181.9" r="2.15"/><circle cx="690.8" cy="188.3" r="2.15"/><circle cx="692.7" cy="194.0" r="2.15"/><circle cx="690.6" cy="198.3" r="2.15"/><circle cx="688.1" cy="219.9" r="2.15"/><circle cx="687.9" cy="227.9" r="2.15"/><circle cx="684.7" cy="231.9" r="2.15"/><circle cx="678.8" cy="233.0" r="2.15"/><circle cx="667.3" cy="231.9" r="2.15"/><circle cx="713.4" cy="194.1" r="2.15"/><circle cx="716.9" cy="198.3" r="2.15"/><circle cx="764.8" cy="186.2" r="2.15"/><circle cx="708.8" cy="220.9" r="2.15"/><circle cx="746.2" cy="239.3" r="2.15"/></g><g fill="#00ee00"><circle cx="564.3" cy="153.2" r="2.15"/><circle cx="580.0" cy="159.3" r="2.15"/><circle cx="576.1" cy="182.2" r="2.15"/><circle cx="563.0" cy="189.2" r="2.15"/><circle cx="579.6" cy="197.5" r="2.15"/><circle cx="573.2" cy="205.0" r="2.15"/><circle cx="576.1" cy="227.4" r="2.15"/><circle cx="573.1" cy="237.4" r="2.15"/><circle cx="529.4" cy="200.3" r="2.15"/><circle cx="524.1" cy="231.6" r="2.15"/></g><rect x="467.5" y="45.9" width="309.1" height="259.0" fill="none" stroke="#444" stroke-width="1.5"/><path d="M498.4 304.9V313.4M539.5 304.9V313.4M580.5 304.9V313.4M621.6 304.9V313.4M662.7 304.9V313.4M703.7 304.9V313.4M744.8 304.9V313.4M459 304.4H467.5M459 254.5H467.5M459 204.5H467.5M459 154.6H467.5M459 104.6H467.5M459 54.7H467.5" stroke="#444" stroke-width="1.5" fill="none"/><g font-family="Liberation Sans" font-size="13.8" fill="#111" text-anchor="middle"><text x="498.4" y="334.7">&#8722;3</text><text x="539.5" y="334.7">&#8722;2</text><text x="580.5" y="334.7">&#8722;1</text><text x="621.6" y="334.7">0</text><text x="662.7" y="334.7">1</text><text x="703.7" y="334.7">2</text><text x="744.8" y="334.7">3</text><text transform="translate(447.6,304.4) rotate(-90)">0</text><text transform="translate(447.6,254.5) rotate(-90)">1</text><text transform="translate(447.6,204.5) rotate(-90)">2</text><text transform="translate(447.6,154.6) rotate(-90)">3</text><text transform="translate(447.6,104.6) rotate(-90)">4</text><text transform="translate(447.6,54.7) rotate(-90)">5</text><text x="621.8" y="367.2">logFC</text><text transform="translate(415.2,175.2) rotate(-90)">&#8722;log10(fdr)</text><text x="621.8" y="17.9" font-weight="bold" font-size="15.5">Volcano</text></g>
<path d="M338.2 465.2L298.2 428.8M338.2 465.2L373.1 429.7M338.2 465.2L302.8 500.3M338.2 465.2L372.5 497.4M495.1 464.9L454.0 427.0M495.1 464.9L456.7 497.8M535.3 465.3L570.5 427.0M535.3 465.3L569.9 499.9M340.9 617.4L315.2 561.1M340.9 617.4L364.2 560.0M340.9 617.4L282.9 596.6M340.9 617.4L398.0 593.8M340.9 617.4L285.2 644.7M340.9 617.4L322.0 675.7M340.9 617.4L366.5 674.7M516.4 616.2L514.6 554.2M516.4 616.2L461.9 587.0M516.4 616.2L571.5 585.5M516.4 616.2L466.5 647.3M516.4 616.2L572.4 646.2M516.4 616.2L516.4 675.1M516.4 675.1L471.3 703.5M516.4 675.1L564.4 705.8M471.3 703.5L519.1 733.6" stroke="#ff2a2a" stroke-width="1.9" fill="none"/><path d="M340.9 617.4L398.4 640.9" stroke="#22cc22" stroke-width="1.9"/><path d="M523.5 465.4 C511.5 465.5 506.5 456 513 448 C518 441.5 524 438.5 530 441 C534 443 535.3 448 535.2 454" stroke="#ff2a2a" stroke-width="1.9" fill="none"/><path d="M298.2 416.7L310.4 440.9L286.0 440.9Z" fill="#76a6ee" stroke="#16285a" stroke-width="1.1" stroke-linejoin="miter"/><path d="M373.1 417.6L385.3 441.8L360.9 441.8Z" fill="#76a6ee" stroke="#16285a" stroke-width="1.1" stroke-linejoin="miter"/><path d="M302.8 488.2L315.0 512.4L290.6 512.4Z" fill="#76a6ee" stroke="#16285a" stroke-width="1.1" stroke-linejoin="miter"/><path d="M372.5 485.3L384.7 509.5L360.3 509.5Z" fill="#76a6ee" stroke="#16285a" stroke-width="1.1" stroke-linejoin="miter"/><path d="M454.0 414.9L466.2 439.1L441.8 439.1Z" fill="#76a6ee" stroke="#16285a" stroke-width="1.1" stroke-linejoin="miter"/><path d="M570.5 414.9L582.7 439.1L558.3 439.1Z" fill="#76a6ee" stroke="#16285a" stroke-width="1.1" stroke-linejoin="miter"/><path d="M456.7 485.7L468.9 509.9L444.5 509.9Z" fill="#76a6ee" stroke="#16285a" stroke-width="1.1" stroke-linejoin="miter"/><path d="M569.9 487.8L582.1 512.0L557.7 512.0Z" fill="#76a6ee" stroke="#16285a" stroke-width="1.1" stroke-linejoin="miter"/><path d="M315.2 549.0L327.4 573.2L303.0 573.2Z" fill="#76a6ee" stroke="#16285a" stroke-width="1.1" stroke-linejoin="miter"/><path d="M364.2 547.9L376.4 572.1L352.0 572.1Z" fill="#76a6ee" stroke="#16285a" stroke-width="1.1" stroke-linejoin="miter"/><path d="M282.9 584.5L295.1 608.7L270.7 608.7Z" fill="#76a6ee" stroke="#16285a" stroke-width="1.1" stroke-linejoin="miter"/><path d="M398.0 581.7L410.2 605.9L385.8 605.9Z" fill="#76a6ee" stroke="#16285a" stroke-width="1.1" stroke-linejoin="miter"/><path d="M285.2 632.6L297.4 656.8L273.0 656.8Z" fill="#76a6ee" stroke="#16285a" stroke-width="1.1" stroke-linejoin="miter"/><path d="M398.4 628.8L410.6 653.0L386.2 653.0Z" fill="#76a6ee" stroke="#16285a" stroke-width="1.1" stroke-linejoin="miter"/><path d="M322.0 663.6L334.2 687.8L309.8 687.8Z" fill="#76a6ee" stroke="#16285a" stroke-width="1.1" stroke-linejoin="miter"/><path d="M366.5 662.6L378.7 686.8L354.3 686.8Z" fill="#76a6ee" stroke="#16285a" stroke-width="1.1" stroke-linejoin="miter"/><path d="M514.6 542.1L526.8 566.3L502.4 566.3Z" fill="#76a6ee" stroke="#16285a" stroke-width="1.1" stroke-linejoin="miter"/><path d="M461.9 574.9L474.1 599.1L449.7 599.1Z" fill="#76a6ee" stroke="#16285a" stroke-width="1.1" stroke-linejoin="miter"/><path d="M571.5 573.4L583.7 597.6L559.3 597.6Z" fill="#76a6ee" stroke="#16285a" stroke-width="1.1" stroke-linejoin="miter"/><path d="M466.5 635.2L478.7 659.4L454.3 659.4Z" fill="#76a6ee" stroke="#16285a" stroke-width="1.1" stroke-linejoin="miter"/><path d="M572.4 634.1L584.6 658.3L560.2 658.3Z" fill="#76a6ee" stroke="#16285a" stroke-width="1.1" stroke-linejoin="miter"/><path d="M516.4 663.0L528.6 687.2L504.2 687.2Z" fill="#76a6ee" stroke="#16285a" stroke-width="1.1" stroke-linejoin="miter"/><path d="M519.1 721.5L531.3 745.7L506.9 745.7Z" fill="#76a6ee" stroke="#16285a" stroke-width="1.1" stroke-linejoin="miter"/><circle cx="338.2" cy="465.2" r="11.8" fill="#f8cccc" stroke="#453838" stroke-width="1.15"/><circle cx="495.1" cy="464.9" r="11.8" fill="#f8cccc" stroke="#453838" stroke-width="1.15"/><circle cx="535.3" cy="465.3" r="11.8" fill="#f8cccc" stroke="#453838" stroke-width="1.15"/><circle cx="340.9" cy="617.4" r="11.8" fill="#f8cccc" stroke="#453838" stroke-width="1.15"/><circle cx="516.4" cy="616.2" r="11.8" fill="#f8cccc" stroke="#453838" stroke-width="1.15"/><circle cx="471.3" cy="703.5" r="11.8" fill="#f8cccc" stroke="#453838" stroke-width="1.15"/><circle cx="564.4" cy="705.8" r="11.8" fill="#f8cccc" stroke="#453838" stroke-width="1.15"/><g font-family="Liberation Sans" font-size="6.6" font-weight="bold" fill="#000" text-anchor="middle"><text transform="translate(298.2,431.8) scale(0.89,1)">CBX2</text><text transform="translate(373.1,432.7) scale(0.89,1)">SNAI2</text><text transform="translate(302.8,503.3) scale(0.89,1)">PRKDC</text><text transform="translate(372.5,500.4) scale(0.89,1)">TP63</text><text transform="translate(454.0,430.0) scale(0.89,1)">TFAP2A</text><text transform="translate(570.5,430.0) scale(0.89,1)">GATA3</text><text transform="translate(456.7,500.8) scale(0.89,1)">ELL2</text><text transform="translate(569.9,502.9) scale(0.89,1)">DIO2</text><text transform="translate(315.2,564.1) scale(0.89,1)">EZH2</text><text transform="translate(364.2,563.0) scale(0.89,1)">SUMO2</text><text transform="translate(282.9,599.6) scale(0.89,1)">CENPA</text><text transform="translate(398.0,596.8) scale(0.89,1)">CBX3</text><text transform="translate(285.2,647.7) scale(0.89,1)">NCAPG</text><text transform="translate(398.4,643.9) scale(0.89,1)">KAT2B</text><text transform="translate(322.0,678.7) scale(0.89,1)">CBFB</text><text transform="translate(366.5,677.7) scale(0.89,1)">LIN9</text><text transform="translate(514.6,557.2) scale(0.89,1)">CDK2</text><text transform="translate(461.9,590.0) scale(0.89,1)">HOXD9</text><text transform="translate(571.5,588.5) scale(0.89,1)">TEAD4</text><text transform="translate(466.5,650.3) scale(0.89,1)">E2F1</text><text transform="translate(572.4,649.2) scale(0.89,1)">H2AFX</text><text transform="translate(516.4,678.1) scale(0.89,1)">SALL4</text><text transform="translate(519.1,736.6) scale(0.89,1)">ARID3A</text><text transform="translate(338.2,468.2) scale(0.89,1)">STC2</text><text transform="translate(495.1,467.9) scale(0.89,1)">S100A12</text><text transform="translate(535.3,468.3) scale(0.89,1)">NR2F2</text><text transform="translate(340.9,620.4) scale(0.89,1)">CACYBP</text><text transform="translate(516.4,619.2) scale(0.89,1)">DKK1</text><text transform="translate(471.3,706.5) scale(0.89,1)">FABP3</text><text transform="translate(564.4,708.8) scale(0.89,1)">ANGPTL3</text></g>
</svg>
</body></html>
